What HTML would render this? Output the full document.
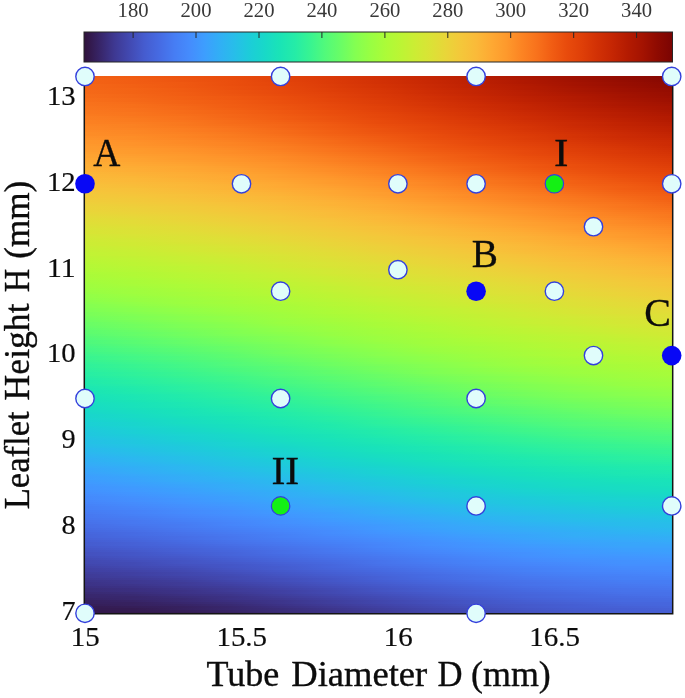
<!DOCTYPE html>
<html><head><meta charset="utf-8"><title>Design space</title>
<style>
html,body{margin:0;padding:0;background:#fff}
svg{display:block}
text{font-family:"Liberation Serif","DejaVu Serif",serif;fill:#0c0c0c;stroke:#0c0c0c;stroke-width:.35px}
.cbl{fill:#383838;stroke:none}
.tk{stroke-width:.2px}
</style></head><body>
<svg width="685" height="698" viewBox="0 0 685 698">
<defs>
<linearGradient id="g0"><stop offset="0" stop-color="#f26014"/><stop offset="0.08333" stop-color="#f05b12"/><stop offset="0.1667" stop-color="#ec530f"/><stop offset="0.25" stop-color="#e84b0c"/><stop offset="0.3333" stop-color="#e2430a"/><stop offset="0.4167" stop-color="#da3907"/><stop offset="0.5" stop-color="#d02f05"/><stop offset="0.5833" stop-color="#c52603"/><stop offset="0.6667" stop-color="#b71d02"/><stop offset="0.75" stop-color="#a91601"/><stop offset="0.8333" stop-color="#9e1001"/><stop offset="0.9167" stop-color="#920b01"/><stop offset="1" stop-color="#850702"/></linearGradient>
<linearGradient id="g1"><stop offset="0" stop-color="#f36315"/><stop offset="0.08333" stop-color="#f15d13"/><stop offset="0.1667" stop-color="#ed5510"/><stop offset="0.25" stop-color="#e84b0c"/><stop offset="0.3333" stop-color="#e2430a"/><stop offset="0.4167" stop-color="#da3907"/><stop offset="0.5" stop-color="#d02f05"/><stop offset="0.5833" stop-color="#c52603"/><stop offset="0.6667" stop-color="#b91e02"/><stop offset="0.75" stop-color="#ac1701"/><stop offset="0.8333" stop-color="#9e1001"/><stop offset="0.9167" stop-color="#920b01"/><stop offset="1" stop-color="#880802"/></linearGradient>
<linearGradient id="g2"><stop offset="0" stop-color="#f36315"/><stop offset="0.08333" stop-color="#f15d13"/><stop offset="0.1667" stop-color="#ed5510"/><stop offset="0.25" stop-color="#ea4e0d"/><stop offset="0.3333" stop-color="#e2430a"/><stop offset="0.4167" stop-color="#dc3b07"/><stop offset="0.5" stop-color="#d23105"/><stop offset="0.5833" stop-color="#c82803"/><stop offset="0.6667" stop-color="#bc2002"/><stop offset="0.75" stop-color="#af1801"/><stop offset="0.8333" stop-color="#a11201"/><stop offset="0.9167" stop-color="#950d01"/><stop offset="1" stop-color="#880802"/></linearGradient>
<linearGradient id="g3"><stop offset="0" stop-color="#f36315"/><stop offset="0.08333" stop-color="#f15d13"/><stop offset="0.1667" stop-color="#ef5811"/><stop offset="0.25" stop-color="#ea4e0d"/><stop offset="0.3333" stop-color="#e4450a"/><stop offset="0.4167" stop-color="#dc3b07"/><stop offset="0.5" stop-color="#d23105"/><stop offset="0.5833" stop-color="#c82803"/><stop offset="0.6667" stop-color="#bc2002"/><stop offset="0.75" stop-color="#af1801"/><stop offset="0.8333" stop-color="#a41301"/><stop offset="0.9167" stop-color="#980e01"/><stop offset="1" stop-color="#8b0902"/></linearGradient>
<linearGradient id="g4"><stop offset="0" stop-color="#f46617"/><stop offset="0.08333" stop-color="#f26014"/><stop offset="0.1667" stop-color="#ef5811"/><stop offset="0.25" stop-color="#ea4e0d"/><stop offset="0.3333" stop-color="#e4450a"/><stop offset="0.4167" stop-color="#dd3d08"/><stop offset="0.5" stop-color="#d43305"/><stop offset="0.5833" stop-color="#ca2a04"/><stop offset="0.6667" stop-color="#be2102"/><stop offset="0.75" stop-color="#b21a01"/><stop offset="0.8333" stop-color="#a41301"/><stop offset="0.9167" stop-color="#980e01"/><stop offset="1" stop-color="#8e0a01"/></linearGradient>
<linearGradient id="g5"><stop offset="0" stop-color="#f46617"/><stop offset="0.08333" stop-color="#f26014"/><stop offset="0.1667" stop-color="#ef5811"/><stop offset="0.25" stop-color="#eb500e"/><stop offset="0.3333" stop-color="#e5470b"/><stop offset="0.4167" stop-color="#dd3d08"/><stop offset="0.5" stop-color="#d43305"/><stop offset="0.5833" stop-color="#ca2a04"/><stop offset="0.6667" stop-color="#be2102"/><stop offset="0.75" stop-color="#b41b01"/><stop offset="0.8333" stop-color="#a71401"/><stop offset="0.9167" stop-color="#9b0f01"/><stop offset="1" stop-color="#8e0a01"/></linearGradient>
<linearGradient id="g6"><stop offset="0" stop-color="#f46617"/><stop offset="0.08333" stop-color="#f36315"/><stop offset="0.1667" stop-color="#f05b12"/><stop offset="0.25" stop-color="#eb500e"/><stop offset="0.3333" stop-color="#e5470b"/><stop offset="0.4167" stop-color="#df3f08"/><stop offset="0.5" stop-color="#d63506"/><stop offset="0.5833" stop-color="#cc2b04"/><stop offset="0.6667" stop-color="#c12302"/><stop offset="0.75" stop-color="#b41b01"/><stop offset="0.8333" stop-color="#a91601"/><stop offset="0.9167" stop-color="#9e1001"/><stop offset="1" stop-color="#920b01"/></linearGradient>
<linearGradient id="g7"><stop offset="0" stop-color="#f56918"/><stop offset="0.08333" stop-color="#f36315"/><stop offset="0.1667" stop-color="#f05b12"/><stop offset="0.25" stop-color="#ec530f"/><stop offset="0.3333" stop-color="#e7490c"/><stop offset="0.4167" stop-color="#df3f08"/><stop offset="0.5" stop-color="#d83706"/><stop offset="0.5833" stop-color="#ce2d04"/><stop offset="0.6667" stop-color="#c32503"/><stop offset="0.75" stop-color="#b71d02"/><stop offset="0.8333" stop-color="#a91601"/><stop offset="0.9167" stop-color="#9e1001"/><stop offset="1" stop-color="#950d01"/></linearGradient>
<linearGradient id="g8"><stop offset="0" stop-color="#f56918"/><stop offset="0.08333" stop-color="#f36315"/><stop offset="0.1667" stop-color="#f15d13"/><stop offset="0.25" stop-color="#ec530f"/><stop offset="0.3333" stop-color="#e7490c"/><stop offset="0.4167" stop-color="#e14109"/><stop offset="0.5" stop-color="#d83706"/><stop offset="0.5833" stop-color="#ce2d04"/><stop offset="0.6667" stop-color="#c32503"/><stop offset="0.75" stop-color="#b91e02"/><stop offset="0.8333" stop-color="#ac1701"/><stop offset="0.9167" stop-color="#a11201"/><stop offset="1" stop-color="#980e01"/></linearGradient>
<linearGradient id="g9"><stop offset="0" stop-color="#f66c19"/><stop offset="0.08333" stop-color="#f46617"/><stop offset="0.1667" stop-color="#f15d13"/><stop offset="0.25" stop-color="#ed5510"/><stop offset="0.3333" stop-color="#e84b0c"/><stop offset="0.4167" stop-color="#e2430a"/><stop offset="0.5" stop-color="#da3907"/><stop offset="0.5833" stop-color="#d02f05"/><stop offset="0.6667" stop-color="#c52603"/><stop offset="0.75" stop-color="#b91e02"/><stop offset="0.8333" stop-color="#af1801"/><stop offset="0.9167" stop-color="#a41301"/><stop offset="1" stop-color="#980e01"/></linearGradient>
<linearGradient id="g10"><stop offset="0" stop-color="#f66c19"/><stop offset="0.08333" stop-color="#f46617"/><stop offset="0.1667" stop-color="#f26014"/><stop offset="0.25" stop-color="#ef5811"/><stop offset="0.3333" stop-color="#ea4e0d"/><stop offset="0.4167" stop-color="#e2430a"/><stop offset="0.5" stop-color="#da3907"/><stop offset="0.5833" stop-color="#d23105"/><stop offset="0.6667" stop-color="#c82803"/><stop offset="0.75" stop-color="#bc2002"/><stop offset="0.8333" stop-color="#b21a01"/><stop offset="0.9167" stop-color="#a41301"/><stop offset="1" stop-color="#9b0f01"/></linearGradient>
<linearGradient id="g11"><stop offset="0" stop-color="#f76f1a"/><stop offset="0.08333" stop-color="#f56918"/><stop offset="0.1667" stop-color="#f26014"/><stop offset="0.25" stop-color="#ef5811"/><stop offset="0.3333" stop-color="#ea4e0d"/><stop offset="0.4167" stop-color="#e4450a"/><stop offset="0.5" stop-color="#dc3b07"/><stop offset="0.5833" stop-color="#d23105"/><stop offset="0.6667" stop-color="#c82803"/><stop offset="0.75" stop-color="#be2102"/><stop offset="0.8333" stop-color="#b21a01"/><stop offset="0.9167" stop-color="#a71401"/><stop offset="1" stop-color="#9e1001"/></linearGradient>
<linearGradient id="g12"><stop offset="0" stop-color="#f76f1a"/><stop offset="0.08333" stop-color="#f56918"/><stop offset="0.1667" stop-color="#f36315"/><stop offset="0.25" stop-color="#f05b12"/><stop offset="0.3333" stop-color="#eb500e"/><stop offset="0.4167" stop-color="#e4450a"/><stop offset="0.5" stop-color="#dd3d08"/><stop offset="0.5833" stop-color="#d43305"/><stop offset="0.6667" stop-color="#ca2a04"/><stop offset="0.75" stop-color="#be2102"/><stop offset="0.8333" stop-color="#b41b01"/><stop offset="0.9167" stop-color="#a91601"/><stop offset="1" stop-color="#9e1001"/></linearGradient>
<linearGradient id="g13"><stop offset="0" stop-color="#f8721c"/><stop offset="0.08333" stop-color="#f66c19"/><stop offset="0.1667" stop-color="#f36315"/><stop offset="0.25" stop-color="#f05b12"/><stop offset="0.3333" stop-color="#eb500e"/><stop offset="0.4167" stop-color="#e5470b"/><stop offset="0.5" stop-color="#dd3d08"/><stop offset="0.5833" stop-color="#d63506"/><stop offset="0.6667" stop-color="#cc2b04"/><stop offset="0.75" stop-color="#c12302"/><stop offset="0.8333" stop-color="#b71d02"/><stop offset="0.9167" stop-color="#ac1701"/><stop offset="1" stop-color="#a11201"/></linearGradient>
<linearGradient id="g14"><stop offset="0" stop-color="#f8721c"/><stop offset="0.08333" stop-color="#f76f1a"/><stop offset="0.1667" stop-color="#f46617"/><stop offset="0.25" stop-color="#f15d13"/><stop offset="0.3333" stop-color="#ec530f"/><stop offset="0.4167" stop-color="#e7490c"/><stop offset="0.5" stop-color="#df3f08"/><stop offset="0.5833" stop-color="#d63506"/><stop offset="0.6667" stop-color="#ce2d04"/><stop offset="0.75" stop-color="#c32503"/><stop offset="0.8333" stop-color="#b71d02"/><stop offset="0.9167" stop-color="#ac1701"/><stop offset="1" stop-color="#a41301"/></linearGradient>
<linearGradient id="g15"><stop offset="0" stop-color="#f9751d"/><stop offset="0.08333" stop-color="#f76f1a"/><stop offset="0.1667" stop-color="#f56918"/><stop offset="0.25" stop-color="#f15d13"/><stop offset="0.3333" stop-color="#ed5510"/><stop offset="0.4167" stop-color="#e7490c"/><stop offset="0.5" stop-color="#e14109"/><stop offset="0.5833" stop-color="#d83706"/><stop offset="0.6667" stop-color="#ce2d04"/><stop offset="0.75" stop-color="#c52603"/><stop offset="0.8333" stop-color="#b91e02"/><stop offset="0.9167" stop-color="#af1801"/><stop offset="1" stop-color="#a71401"/></linearGradient>
<linearGradient id="g16"><stop offset="0" stop-color="#f9751d"/><stop offset="0.08333" stop-color="#f8721c"/><stop offset="0.1667" stop-color="#f56918"/><stop offset="0.25" stop-color="#f26014"/><stop offset="0.3333" stop-color="#ed5510"/><stop offset="0.4167" stop-color="#e84b0c"/><stop offset="0.5" stop-color="#e14109"/><stop offset="0.5833" stop-color="#da3907"/><stop offset="0.6667" stop-color="#d02f05"/><stop offset="0.75" stop-color="#c52603"/><stop offset="0.8333" stop-color="#bc2002"/><stop offset="0.9167" stop-color="#b21a01"/><stop offset="1" stop-color="#a71401"/></linearGradient>
<linearGradient id="g17"><stop offset="0" stop-color="#f9781e"/><stop offset="0.08333" stop-color="#f8721c"/><stop offset="0.1667" stop-color="#f66c19"/><stop offset="0.25" stop-color="#f36315"/><stop offset="0.3333" stop-color="#ef5811"/><stop offset="0.4167" stop-color="#ea4e0d"/><stop offset="0.5" stop-color="#e2430a"/><stop offset="0.5833" stop-color="#da3907"/><stop offset="0.6667" stop-color="#d23105"/><stop offset="0.75" stop-color="#c82803"/><stop offset="0.8333" stop-color="#be2102"/><stop offset="0.9167" stop-color="#b41b01"/><stop offset="1" stop-color="#a91601"/></linearGradient>
<linearGradient id="g18"><stop offset="0" stop-color="#f9781e"/><stop offset="0.08333" stop-color="#f9751d"/><stop offset="0.1667" stop-color="#f66c19"/><stop offset="0.25" stop-color="#f36315"/><stop offset="0.3333" stop-color="#ef5811"/><stop offset="0.4167" stop-color="#ea4e0d"/><stop offset="0.5" stop-color="#e4450a"/><stop offset="0.5833" stop-color="#dc3b07"/><stop offset="0.6667" stop-color="#d43305"/><stop offset="0.75" stop-color="#ca2a04"/><stop offset="0.8333" stop-color="#c12302"/><stop offset="0.9167" stop-color="#b71d02"/><stop offset="1" stop-color="#ac1701"/></linearGradient>
<linearGradient id="g19"><stop offset="0" stop-color="#fa7b1f"/><stop offset="0.08333" stop-color="#f9751d"/><stop offset="0.1667" stop-color="#f76f1a"/><stop offset="0.25" stop-color="#f46617"/><stop offset="0.3333" stop-color="#f05b12"/><stop offset="0.4167" stop-color="#eb500e"/><stop offset="0.5" stop-color="#e5470b"/><stop offset="0.5833" stop-color="#dd3d08"/><stop offset="0.6667" stop-color="#d43305"/><stop offset="0.75" stop-color="#cc2b04"/><stop offset="0.8333" stop-color="#c12302"/><stop offset="0.9167" stop-color="#b71d02"/><stop offset="1" stop-color="#af1801"/></linearGradient>
<linearGradient id="g20"><stop offset="0" stop-color="#fb7e21"/><stop offset="0.08333" stop-color="#f9781e"/><stop offset="0.1667" stop-color="#f8721c"/><stop offset="0.25" stop-color="#f46617"/><stop offset="0.3333" stop-color="#f15d13"/><stop offset="0.4167" stop-color="#ec530f"/><stop offset="0.5" stop-color="#e5470b"/><stop offset="0.5833" stop-color="#df3f08"/><stop offset="0.6667" stop-color="#d63506"/><stop offset="0.75" stop-color="#ce2d04"/><stop offset="0.8333" stop-color="#c32503"/><stop offset="0.9167" stop-color="#b91e02"/><stop offset="1" stop-color="#b21a01"/></linearGradient>
<linearGradient id="g21"><stop offset="0" stop-color="#fb7e21"/><stop offset="0.08333" stop-color="#fa7b1f"/><stop offset="0.1667" stop-color="#f8721c"/><stop offset="0.25" stop-color="#f56918"/><stop offset="0.3333" stop-color="#f15d13"/><stop offset="0.4167" stop-color="#ec530f"/><stop offset="0.5" stop-color="#e7490c"/><stop offset="0.5833" stop-color="#df3f08"/><stop offset="0.6667" stop-color="#d83706"/><stop offset="0.75" stop-color="#ce2d04"/><stop offset="0.8333" stop-color="#c52603"/><stop offset="0.9167" stop-color="#bc2002"/><stop offset="1" stop-color="#b21a01"/></linearGradient>
<linearGradient id="g22"><stop offset="0" stop-color="#fb8122"/><stop offset="0.08333" stop-color="#fa7b1f"/><stop offset="0.1667" stop-color="#f9751d"/><stop offset="0.25" stop-color="#f66c19"/><stop offset="0.3333" stop-color="#f26014"/><stop offset="0.4167" stop-color="#ed5510"/><stop offset="0.5" stop-color="#e84b0c"/><stop offset="0.5833" stop-color="#e14109"/><stop offset="0.6667" stop-color="#da3907"/><stop offset="0.75" stop-color="#d02f05"/><stop offset="0.8333" stop-color="#c82803"/><stop offset="0.9167" stop-color="#be2102"/><stop offset="1" stop-color="#b41b01"/></linearGradient>
<linearGradient id="g23"><stop offset="0" stop-color="#fb8122"/><stop offset="0.08333" stop-color="#fb7e21"/><stop offset="0.1667" stop-color="#f9781e"/><stop offset="0.25" stop-color="#f66c19"/><stop offset="0.3333" stop-color="#f36315"/><stop offset="0.4167" stop-color="#ef5811"/><stop offset="0.5" stop-color="#e84b0c"/><stop offset="0.5833" stop-color="#e2430a"/><stop offset="0.6667" stop-color="#da3907"/><stop offset="0.75" stop-color="#d23105"/><stop offset="0.8333" stop-color="#ca2a04"/><stop offset="0.9167" stop-color="#c12302"/><stop offset="1" stop-color="#b71d02"/></linearGradient>
<linearGradient id="g24"><stop offset="0" stop-color="#fc8423"/><stop offset="0.08333" stop-color="#fb8122"/><stop offset="0.1667" stop-color="#f9781e"/><stop offset="0.25" stop-color="#f76f1a"/><stop offset="0.3333" stop-color="#f46617"/><stop offset="0.4167" stop-color="#f05b12"/><stop offset="0.5" stop-color="#ea4e0d"/><stop offset="0.5833" stop-color="#e4450a"/><stop offset="0.6667" stop-color="#dc3b07"/><stop offset="0.75" stop-color="#d43305"/><stop offset="0.8333" stop-color="#ca2a04"/><stop offset="0.9167" stop-color="#c12302"/><stop offset="1" stop-color="#b91e02"/></linearGradient>
<linearGradient id="g25"><stop offset="0" stop-color="#fc8725"/><stop offset="0.08333" stop-color="#fb8122"/><stop offset="0.1667" stop-color="#fa7b1f"/><stop offset="0.25" stop-color="#f8721c"/><stop offset="0.3333" stop-color="#f46617"/><stop offset="0.4167" stop-color="#f05b12"/><stop offset="0.5" stop-color="#eb500e"/><stop offset="0.5833" stop-color="#e5470b"/><stop offset="0.6667" stop-color="#dd3d08"/><stop offset="0.75" stop-color="#d63506"/><stop offset="0.8333" stop-color="#cc2b04"/><stop offset="0.9167" stop-color="#c32503"/><stop offset="1" stop-color="#bc2002"/></linearGradient>
<linearGradient id="g26"><stop offset="0" stop-color="#fc8725"/><stop offset="0.08333" stop-color="#fc8423"/><stop offset="0.1667" stop-color="#fb7e21"/><stop offset="0.25" stop-color="#f9751d"/><stop offset="0.3333" stop-color="#f56918"/><stop offset="0.4167" stop-color="#f15d13"/><stop offset="0.5" stop-color="#ec530f"/><stop offset="0.5833" stop-color="#e5470b"/><stop offset="0.6667" stop-color="#df3f08"/><stop offset="0.75" stop-color="#d63506"/><stop offset="0.8333" stop-color="#ce2d04"/><stop offset="0.9167" stop-color="#c52603"/><stop offset="1" stop-color="#be2102"/></linearGradient>
<linearGradient id="g27"><stop offset="0" stop-color="#fd8a26"/><stop offset="0.08333" stop-color="#fc8725"/><stop offset="0.1667" stop-color="#fb7e21"/><stop offset="0.25" stop-color="#f9751d"/><stop offset="0.3333" stop-color="#f66c19"/><stop offset="0.4167" stop-color="#f26014"/><stop offset="0.5" stop-color="#ec530f"/><stop offset="0.5833" stop-color="#e7490c"/><stop offset="0.6667" stop-color="#e14109"/><stop offset="0.75" stop-color="#d83706"/><stop offset="0.8333" stop-color="#d02f05"/><stop offset="0.9167" stop-color="#c82803"/><stop offset="1" stop-color="#be2102"/></linearGradient>
<linearGradient id="g28"><stop offset="0" stop-color="#fd8d27"/><stop offset="0.08333" stop-color="#fc8725"/><stop offset="0.1667" stop-color="#fb8122"/><stop offset="0.25" stop-color="#f9781e"/><stop offset="0.3333" stop-color="#f66c19"/><stop offset="0.4167" stop-color="#f26014"/><stop offset="0.5" stop-color="#ed5510"/><stop offset="0.5833" stop-color="#e84b0c"/><stop offset="0.6667" stop-color="#e14109"/><stop offset="0.75" stop-color="#da3907"/><stop offset="0.8333" stop-color="#d23105"/><stop offset="0.9167" stop-color="#ca2a04"/><stop offset="1" stop-color="#c12302"/></linearGradient>
<linearGradient id="g29"><stop offset="0" stop-color="#fd8d27"/><stop offset="0.08333" stop-color="#fd8a26"/><stop offset="0.1667" stop-color="#fc8423"/><stop offset="0.25" stop-color="#fa7b1f"/><stop offset="0.3333" stop-color="#f76f1a"/><stop offset="0.4167" stop-color="#f36315"/><stop offset="0.5" stop-color="#ef5811"/><stop offset="0.5833" stop-color="#ea4e0d"/><stop offset="0.6667" stop-color="#e2430a"/><stop offset="0.75" stop-color="#dc3b07"/><stop offset="0.8333" stop-color="#d43305"/><stop offset="0.9167" stop-color="#cc2b04"/><stop offset="1" stop-color="#c32503"/></linearGradient>
<linearGradient id="g30"><stop offset="0" stop-color="#fe9029"/><stop offset="0.08333" stop-color="#fd8d27"/><stop offset="0.1667" stop-color="#fc8423"/><stop offset="0.25" stop-color="#fa7b1f"/><stop offset="0.3333" stop-color="#f8721c"/><stop offset="0.4167" stop-color="#f46617"/><stop offset="0.5" stop-color="#f05b12"/><stop offset="0.5833" stop-color="#ea4e0d"/><stop offset="0.6667" stop-color="#e4450a"/><stop offset="0.75" stop-color="#dd3d08"/><stop offset="0.8333" stop-color="#d43305"/><stop offset="0.9167" stop-color="#cc2b04"/><stop offset="1" stop-color="#c52603"/></linearGradient>
<linearGradient id="g31"><stop offset="0" stop-color="#fe932a"/><stop offset="0.08333" stop-color="#fd8d27"/><stop offset="0.1667" stop-color="#fc8725"/><stop offset="0.25" stop-color="#fb7e21"/><stop offset="0.3333" stop-color="#f9751d"/><stop offset="0.4167" stop-color="#f56918"/><stop offset="0.5" stop-color="#f15d13"/><stop offset="0.5833" stop-color="#eb500e"/><stop offset="0.6667" stop-color="#e5470b"/><stop offset="0.75" stop-color="#dd3d08"/><stop offset="0.8333" stop-color="#d63506"/><stop offset="0.9167" stop-color="#ce2d04"/><stop offset="1" stop-color="#c82803"/></linearGradient>
<linearGradient id="g32"><stop offset="0" stop-color="#fe962b"/><stop offset="0.08333" stop-color="#fe9029"/><stop offset="0.1667" stop-color="#fd8a26"/><stop offset="0.25" stop-color="#fb8122"/><stop offset="0.3333" stop-color="#f9751d"/><stop offset="0.4167" stop-color="#f66c19"/><stop offset="0.5" stop-color="#f15d13"/><stop offset="0.5833" stop-color="#ec530f"/><stop offset="0.6667" stop-color="#e7490c"/><stop offset="0.75" stop-color="#df3f08"/><stop offset="0.8333" stop-color="#d83706"/><stop offset="0.9167" stop-color="#d02f05"/><stop offset="1" stop-color="#ca2a04"/></linearGradient>
<linearGradient id="g33"><stop offset="0" stop-color="#fe962b"/><stop offset="0.08333" stop-color="#fe932a"/><stop offset="0.1667" stop-color="#fd8a26"/><stop offset="0.25" stop-color="#fc8423"/><stop offset="0.3333" stop-color="#f9781e"/><stop offset="0.4167" stop-color="#f66c19"/><stop offset="0.5" stop-color="#f26014"/><stop offset="0.5833" stop-color="#ed5510"/><stop offset="0.6667" stop-color="#e7490c"/><stop offset="0.75" stop-color="#e14109"/><stop offset="0.8333" stop-color="#da3907"/><stop offset="0.9167" stop-color="#d23105"/><stop offset="1" stop-color="#cc2b04"/></linearGradient>
<linearGradient id="g34"><stop offset="0" stop-color="#fe992c"/><stop offset="0.08333" stop-color="#fe932a"/><stop offset="0.1667" stop-color="#fd8d27"/><stop offset="0.25" stop-color="#fc8423"/><stop offset="0.3333" stop-color="#fa7b1f"/><stop offset="0.4167" stop-color="#f76f1a"/><stop offset="0.5" stop-color="#f36315"/><stop offset="0.5833" stop-color="#ef5811"/><stop offset="0.6667" stop-color="#e84b0c"/><stop offset="0.75" stop-color="#e2430a"/><stop offset="0.8333" stop-color="#dc3b07"/><stop offset="0.9167" stop-color="#d43305"/><stop offset="1" stop-color="#cc2b04"/></linearGradient>
<linearGradient id="g35"><stop offset="0" stop-color="#fe9b2d"/><stop offset="0.08333" stop-color="#fe962b"/><stop offset="0.1667" stop-color="#fe9029"/><stop offset="0.25" stop-color="#fc8725"/><stop offset="0.3333" stop-color="#fb7e21"/><stop offset="0.4167" stop-color="#f8721c"/><stop offset="0.5" stop-color="#f46617"/><stop offset="0.5833" stop-color="#ef5811"/><stop offset="0.6667" stop-color="#ea4e0d"/><stop offset="0.75" stop-color="#e4450a"/><stop offset="0.8333" stop-color="#dd3d08"/><stop offset="0.9167" stop-color="#d63506"/><stop offset="1" stop-color="#ce2d04"/></linearGradient>
<linearGradient id="g36"><stop offset="0" stop-color="#fe9b2d"/><stop offset="0.08333" stop-color="#fe992c"/><stop offset="0.1667" stop-color="#fe932a"/><stop offset="0.25" stop-color="#fd8a26"/><stop offset="0.3333" stop-color="#fb7e21"/><stop offset="0.4167" stop-color="#f9751d"/><stop offset="0.5" stop-color="#f56918"/><stop offset="0.5833" stop-color="#f05b12"/><stop offset="0.6667" stop-color="#eb500e"/><stop offset="0.75" stop-color="#e5470b"/><stop offset="0.8333" stop-color="#df3f08"/><stop offset="0.9167" stop-color="#d83706"/><stop offset="1" stop-color="#d02f05"/></linearGradient>
<linearGradient id="g37"><stop offset="0" stop-color="#fe9e2f"/><stop offset="0.08333" stop-color="#fe9b2d"/><stop offset="0.1667" stop-color="#fe932a"/><stop offset="0.25" stop-color="#fd8d27"/><stop offset="0.3333" stop-color="#fb8122"/><stop offset="0.4167" stop-color="#f9751d"/><stop offset="0.5" stop-color="#f56918"/><stop offset="0.5833" stop-color="#f15d13"/><stop offset="0.6667" stop-color="#ec530f"/><stop offset="0.75" stop-color="#e7490c"/><stop offset="0.8333" stop-color="#df3f08"/><stop offset="0.9167" stop-color="#da3907"/><stop offset="1" stop-color="#d23105"/></linearGradient>
<linearGradient id="g38"><stop offset="0" stop-color="#fea130"/><stop offset="0.08333" stop-color="#fe9b2d"/><stop offset="0.1667" stop-color="#fe962b"/><stop offset="0.25" stop-color="#fd8d27"/><stop offset="0.3333" stop-color="#fc8423"/><stop offset="0.4167" stop-color="#f9781e"/><stop offset="0.5" stop-color="#f66c19"/><stop offset="0.5833" stop-color="#f26014"/><stop offset="0.6667" stop-color="#ed5510"/><stop offset="0.75" stop-color="#e7490c"/><stop offset="0.8333" stop-color="#e14109"/><stop offset="0.9167" stop-color="#da3907"/><stop offset="1" stop-color="#d43305"/></linearGradient>
<linearGradient id="g39"><stop offset="0" stop-color="#fea431"/><stop offset="0.08333" stop-color="#fe9e2f"/><stop offset="0.1667" stop-color="#fe992c"/><stop offset="0.25" stop-color="#fe9029"/><stop offset="0.3333" stop-color="#fc8725"/><stop offset="0.4167" stop-color="#fa7b1f"/><stop offset="0.5" stop-color="#f76f1a"/><stop offset="0.5833" stop-color="#f36315"/><stop offset="0.6667" stop-color="#ef5811"/><stop offset="0.75" stop-color="#e84b0c"/><stop offset="0.8333" stop-color="#e2430a"/><stop offset="0.9167" stop-color="#dc3b07"/><stop offset="1" stop-color="#d63506"/></linearGradient>
<linearGradient id="g40"><stop offset="0" stop-color="#fea431"/><stop offset="0.08333" stop-color="#fea130"/><stop offset="0.1667" stop-color="#fe9b2d"/><stop offset="0.25" stop-color="#fe932a"/><stop offset="0.3333" stop-color="#fd8a26"/><stop offset="0.4167" stop-color="#fb7e21"/><stop offset="0.5" stop-color="#f8721c"/><stop offset="0.5833" stop-color="#f46617"/><stop offset="0.6667" stop-color="#ef5811"/><stop offset="0.75" stop-color="#ea4e0d"/><stop offset="0.8333" stop-color="#e4450a"/><stop offset="0.9167" stop-color="#dd3d08"/><stop offset="1" stop-color="#d83706"/></linearGradient>
<linearGradient id="g41"><stop offset="0" stop-color="#fea732"/><stop offset="0.08333" stop-color="#fea431"/><stop offset="0.1667" stop-color="#fe9b2d"/><stop offset="0.25" stop-color="#fe962b"/><stop offset="0.3333" stop-color="#fd8a26"/><stop offset="0.4167" stop-color="#fb8122"/><stop offset="0.5" stop-color="#f9751d"/><stop offset="0.5833" stop-color="#f46617"/><stop offset="0.6667" stop-color="#f05b12"/><stop offset="0.75" stop-color="#eb500e"/><stop offset="0.8333" stop-color="#e5470b"/><stop offset="0.9167" stop-color="#df3f08"/><stop offset="1" stop-color="#da3907"/></linearGradient>
<linearGradient id="g42"><stop offset="0" stop-color="#fea933"/><stop offset="0.08333" stop-color="#fea431"/><stop offset="0.1667" stop-color="#fe9e2f"/><stop offset="0.25" stop-color="#fe962b"/><stop offset="0.3333" stop-color="#fd8d27"/><stop offset="0.4167" stop-color="#fb8122"/><stop offset="0.5" stop-color="#f9751d"/><stop offset="0.5833" stop-color="#f56918"/><stop offset="0.6667" stop-color="#f15d13"/><stop offset="0.75" stop-color="#ec530f"/><stop offset="0.8333" stop-color="#e7490c"/><stop offset="0.9167" stop-color="#e14109"/><stop offset="1" stop-color="#da3907"/></linearGradient>
<linearGradient id="g43"><stop offset="0" stop-color="#fdac34"/><stop offset="0.08333" stop-color="#fea732"/><stop offset="0.1667" stop-color="#fea130"/><stop offset="0.25" stop-color="#fe992c"/><stop offset="0.3333" stop-color="#fe9029"/><stop offset="0.4167" stop-color="#fc8423"/><stop offset="0.5" stop-color="#f9781e"/><stop offset="0.5833" stop-color="#f66c19"/><stop offset="0.6667" stop-color="#f26014"/><stop offset="0.75" stop-color="#ed5510"/><stop offset="0.8333" stop-color="#e84b0c"/><stop offset="0.9167" stop-color="#e2430a"/><stop offset="1" stop-color="#dc3b07"/></linearGradient>
<linearGradient id="g44"><stop offset="0" stop-color="#fdae35"/><stop offset="0.08333" stop-color="#fea933"/><stop offset="0.1667" stop-color="#fea431"/><stop offset="0.25" stop-color="#fe9b2d"/><stop offset="0.3333" stop-color="#fe932a"/><stop offset="0.4167" stop-color="#fc8725"/><stop offset="0.5" stop-color="#fa7b1f"/><stop offset="0.5833" stop-color="#f76f1a"/><stop offset="0.6667" stop-color="#f36315"/><stop offset="0.75" stop-color="#ef5811"/><stop offset="0.8333" stop-color="#ea4e0d"/><stop offset="0.9167" stop-color="#e4450a"/><stop offset="1" stop-color="#dd3d08"/></linearGradient>
<linearGradient id="g45"><stop offset="0" stop-color="#fdae35"/><stop offset="0.08333" stop-color="#fdac34"/><stop offset="0.1667" stop-color="#fea732"/><stop offset="0.25" stop-color="#fe9e2f"/><stop offset="0.3333" stop-color="#fe932a"/><stop offset="0.4167" stop-color="#fd8a26"/><stop offset="0.5" stop-color="#fb7e21"/><stop offset="0.5833" stop-color="#f8721c"/><stop offset="0.6667" stop-color="#f46617"/><stop offset="0.75" stop-color="#ef5811"/><stop offset="0.8333" stop-color="#ea4e0d"/><stop offset="0.9167" stop-color="#e5470b"/><stop offset="1" stop-color="#df3f08"/></linearGradient>
<linearGradient id="g46"><stop offset="0" stop-color="#fcb136"/><stop offset="0.08333" stop-color="#fdae35"/><stop offset="0.1667" stop-color="#fea732"/><stop offset="0.25" stop-color="#fea130"/><stop offset="0.3333" stop-color="#fe962b"/><stop offset="0.4167" stop-color="#fd8d27"/><stop offset="0.5" stop-color="#fb8122"/><stop offset="0.5833" stop-color="#f9751d"/><stop offset="0.6667" stop-color="#f46617"/><stop offset="0.75" stop-color="#f05b12"/><stop offset="0.8333" stop-color="#eb500e"/><stop offset="0.9167" stop-color="#e7490c"/><stop offset="1" stop-color="#e14109"/></linearGradient>
<linearGradient id="g47"><stop offset="0" stop-color="#fcb336"/><stop offset="0.08333" stop-color="#fdae35"/><stop offset="0.1667" stop-color="#fea933"/><stop offset="0.25" stop-color="#fea130"/><stop offset="0.3333" stop-color="#fe992c"/><stop offset="0.4167" stop-color="#fd8d27"/><stop offset="0.5" stop-color="#fc8423"/><stop offset="0.5833" stop-color="#f9751d"/><stop offset="0.6667" stop-color="#f56918"/><stop offset="0.75" stop-color="#f15d13"/><stop offset="0.8333" stop-color="#ec530f"/><stop offset="0.9167" stop-color="#e7490c"/><stop offset="1" stop-color="#e2430a"/></linearGradient>
<linearGradient id="g48"><stop offset="0" stop-color="#fbb637"/><stop offset="0.08333" stop-color="#fcb136"/><stop offset="0.1667" stop-color="#fdac34"/><stop offset="0.25" stop-color="#fea431"/><stop offset="0.3333" stop-color="#fe9b2d"/><stop offset="0.4167" stop-color="#fe9029"/><stop offset="0.5" stop-color="#fc8423"/><stop offset="0.5833" stop-color="#f9781e"/><stop offset="0.6667" stop-color="#f66c19"/><stop offset="0.75" stop-color="#f26014"/><stop offset="0.8333" stop-color="#ed5510"/><stop offset="0.9167" stop-color="#e84b0c"/><stop offset="1" stop-color="#e4450a"/></linearGradient>
<linearGradient id="g49"><stop offset="0" stop-color="#fbb838"/><stop offset="0.08333" stop-color="#fcb336"/><stop offset="0.1667" stop-color="#fdae35"/><stop offset="0.25" stop-color="#fea732"/><stop offset="0.3333" stop-color="#fe9e2f"/><stop offset="0.4167" stop-color="#fe932a"/><stop offset="0.5" stop-color="#fc8725"/><stop offset="0.5833" stop-color="#fa7b1f"/><stop offset="0.6667" stop-color="#f76f1a"/><stop offset="0.75" stop-color="#f36315"/><stop offset="0.8333" stop-color="#ef5811"/><stop offset="0.9167" stop-color="#ea4e0d"/><stop offset="1" stop-color="#e5470b"/></linearGradient>
<linearGradient id="g50"><stop offset="0" stop-color="#fbb838"/><stop offset="0.08333" stop-color="#fbb637"/><stop offset="0.1667" stop-color="#fdae35"/><stop offset="0.25" stop-color="#fea933"/><stop offset="0.3333" stop-color="#fe9e2f"/><stop offset="0.4167" stop-color="#fe962b"/><stop offset="0.5" stop-color="#fd8a26"/><stop offset="0.5833" stop-color="#fb7e21"/><stop offset="0.6667" stop-color="#f8721c"/><stop offset="0.75" stop-color="#f46617"/><stop offset="0.8333" stop-color="#f05b12"/><stop offset="0.9167" stop-color="#eb500e"/><stop offset="1" stop-color="#e7490c"/></linearGradient>
<linearGradient id="g51"><stop offset="0" stop-color="#faba39"/><stop offset="0.08333" stop-color="#fbb838"/><stop offset="0.1667" stop-color="#fcb136"/><stop offset="0.25" stop-color="#fea933"/><stop offset="0.3333" stop-color="#fea130"/><stop offset="0.4167" stop-color="#fe992c"/><stop offset="0.5" stop-color="#fd8d27"/><stop offset="0.5833" stop-color="#fb8122"/><stop offset="0.6667" stop-color="#f9751d"/><stop offset="0.75" stop-color="#f56918"/><stop offset="0.8333" stop-color="#f15d13"/><stop offset="0.9167" stop-color="#ec530f"/><stop offset="1" stop-color="#e84b0c"/></linearGradient>
<linearGradient id="g52"><stop offset="0" stop-color="#f9bc39"/><stop offset="0.08333" stop-color="#fbb838"/><stop offset="0.1667" stop-color="#fcb336"/><stop offset="0.25" stop-color="#fdac34"/><stop offset="0.3333" stop-color="#fea431"/><stop offset="0.4167" stop-color="#fe9b2d"/><stop offset="0.5" stop-color="#fe9029"/><stop offset="0.5833" stop-color="#fc8423"/><stop offset="0.6667" stop-color="#f9781e"/><stop offset="0.75" stop-color="#f66c19"/><stop offset="0.8333" stop-color="#f26014"/><stop offset="0.9167" stop-color="#ed5510"/><stop offset="1" stop-color="#e84b0c"/></linearGradient>
<linearGradient id="g53"><stop offset="0" stop-color="#f8be39"/><stop offset="0.08333" stop-color="#faba39"/><stop offset="0.1667" stop-color="#fbb637"/><stop offset="0.25" stop-color="#fdae35"/><stop offset="0.3333" stop-color="#fea732"/><stop offset="0.4167" stop-color="#fe9b2d"/><stop offset="0.5" stop-color="#fe932a"/><stop offset="0.5833" stop-color="#fc8725"/><stop offset="0.6667" stop-color="#f9781e"/><stop offset="0.75" stop-color="#f66c19"/><stop offset="0.8333" stop-color="#f26014"/><stop offset="0.9167" stop-color="#ef5811"/><stop offset="1" stop-color="#ea4e0d"/></linearGradient>
<linearGradient id="g54"><stop offset="0" stop-color="#f7c13a"/><stop offset="0.08333" stop-color="#f9bc39"/><stop offset="0.1667" stop-color="#fbb838"/><stop offset="0.25" stop-color="#fcb136"/><stop offset="0.3333" stop-color="#fea933"/><stop offset="0.4167" stop-color="#fe9e2f"/><stop offset="0.5" stop-color="#fe932a"/><stop offset="0.5833" stop-color="#fc8725"/><stop offset="0.6667" stop-color="#fa7b1f"/><stop offset="0.75" stop-color="#f76f1a"/><stop offset="0.8333" stop-color="#f36315"/><stop offset="0.9167" stop-color="#f05b12"/><stop offset="1" stop-color="#eb500e"/></linearGradient>
<linearGradient id="g55"><stop offset="0" stop-color="#f7c13a"/><stop offset="0.08333" stop-color="#f8be39"/><stop offset="0.1667" stop-color="#fbb838"/><stop offset="0.25" stop-color="#fcb336"/><stop offset="0.3333" stop-color="#fea933"/><stop offset="0.4167" stop-color="#fea130"/><stop offset="0.5" stop-color="#fe962b"/><stop offset="0.5833" stop-color="#fd8a26"/><stop offset="0.6667" stop-color="#fb7e21"/><stop offset="0.75" stop-color="#f8721c"/><stop offset="0.8333" stop-color="#f46617"/><stop offset="0.9167" stop-color="#f15d13"/><stop offset="1" stop-color="#ec530f"/></linearGradient>
<linearGradient id="g56"><stop offset="0" stop-color="#f6c33a"/><stop offset="0.08333" stop-color="#f7c13a"/><stop offset="0.1667" stop-color="#faba39"/><stop offset="0.25" stop-color="#fcb336"/><stop offset="0.3333" stop-color="#fdac34"/><stop offset="0.4167" stop-color="#fea431"/><stop offset="0.5" stop-color="#fe992c"/><stop offset="0.5833" stop-color="#fd8d27"/><stop offset="0.6667" stop-color="#fb8122"/><stop offset="0.75" stop-color="#f9751d"/><stop offset="0.8333" stop-color="#f56918"/><stop offset="0.9167" stop-color="#f15d13"/><stop offset="1" stop-color="#ed5510"/></linearGradient>
<linearGradient id="g57"><stop offset="0" stop-color="#f5c53a"/><stop offset="0.08333" stop-color="#f7c13a"/><stop offset="0.1667" stop-color="#f9bc39"/><stop offset="0.25" stop-color="#fbb637"/><stop offset="0.3333" stop-color="#fdae35"/><stop offset="0.4167" stop-color="#fea732"/><stop offset="0.5" stop-color="#fe9b2d"/><stop offset="0.5833" stop-color="#fe9029"/><stop offset="0.6667" stop-color="#fc8423"/><stop offset="0.75" stop-color="#f9781e"/><stop offset="0.8333" stop-color="#f66c19"/><stop offset="0.9167" stop-color="#f26014"/><stop offset="1" stop-color="#ef5811"/></linearGradient>
<linearGradient id="g58"><stop offset="0" stop-color="#f4c73a"/><stop offset="0.08333" stop-color="#f6c33a"/><stop offset="0.1667" stop-color="#f8be39"/><stop offset="0.25" stop-color="#fbb838"/><stop offset="0.3333" stop-color="#fcb136"/><stop offset="0.4167" stop-color="#fea732"/><stop offset="0.5" stop-color="#fe9e2f"/><stop offset="0.5833" stop-color="#fe932a"/><stop offset="0.6667" stop-color="#fc8725"/><stop offset="0.75" stop-color="#fa7b1f"/><stop offset="0.8333" stop-color="#f76f1a"/><stop offset="0.9167" stop-color="#f36315"/><stop offset="1" stop-color="#f05b12"/></linearGradient>
<linearGradient id="g59"><stop offset="0" stop-color="#f2c93a"/><stop offset="0.08333" stop-color="#f5c53a"/><stop offset="0.1667" stop-color="#f7c13a"/><stop offset="0.25" stop-color="#faba39"/><stop offset="0.3333" stop-color="#fcb336"/><stop offset="0.4167" stop-color="#fea933"/><stop offset="0.5" stop-color="#fe9e2f"/><stop offset="0.5833" stop-color="#fe962b"/><stop offset="0.6667" stop-color="#fd8a26"/><stop offset="0.75" stop-color="#fb7e21"/><stop offset="0.8333" stop-color="#f8721c"/><stop offset="0.9167" stop-color="#f46617"/><stop offset="1" stop-color="#f15d13"/></linearGradient>
<linearGradient id="g60"><stop offset="0" stop-color="#f2c93a"/><stop offset="0.08333" stop-color="#f4c73a"/><stop offset="0.1667" stop-color="#f7c13a"/><stop offset="0.25" stop-color="#f9bc39"/><stop offset="0.3333" stop-color="#fbb637"/><stop offset="0.4167" stop-color="#fdac34"/><stop offset="0.5" stop-color="#fea130"/><stop offset="0.5833" stop-color="#fe962b"/><stop offset="0.6667" stop-color="#fd8a26"/><stop offset="0.75" stop-color="#fb8122"/><stop offset="0.8333" stop-color="#f9751d"/><stop offset="0.9167" stop-color="#f56918"/><stop offset="1" stop-color="#f26014"/></linearGradient>
<linearGradient id="g61"><stop offset="0" stop-color="#f1cb3a"/><stop offset="0.08333" stop-color="#f2c93a"/><stop offset="0.1667" stop-color="#f6c33a"/><stop offset="0.25" stop-color="#f8be39"/><stop offset="0.3333" stop-color="#fbb637"/><stop offset="0.4167" stop-color="#fdae35"/><stop offset="0.5" stop-color="#fea431"/><stop offset="0.5833" stop-color="#fe992c"/><stop offset="0.6667" stop-color="#fd8d27"/><stop offset="0.75" stop-color="#fb8122"/><stop offset="0.8333" stop-color="#f9781e"/><stop offset="0.9167" stop-color="#f66c19"/><stop offset="1" stop-color="#f26014"/></linearGradient>
<linearGradient id="g62"><stop offset="0" stop-color="#efcd3a"/><stop offset="0.08333" stop-color="#f2c93a"/><stop offset="0.1667" stop-color="#f5c53a"/><stop offset="0.25" stop-color="#f8be39"/><stop offset="0.3333" stop-color="#fbb838"/><stop offset="0.4167" stop-color="#fcb136"/><stop offset="0.5" stop-color="#fea732"/><stop offset="0.5833" stop-color="#fe9b2d"/><stop offset="0.6667" stop-color="#fe9029"/><stop offset="0.75" stop-color="#fc8423"/><stop offset="0.8333" stop-color="#f9781e"/><stop offset="0.9167" stop-color="#f76f1a"/><stop offset="1" stop-color="#f36315"/></linearGradient>
<linearGradient id="g63"><stop offset="0" stop-color="#eecf3a"/><stop offset="0.08333" stop-color="#f1cb3a"/><stop offset="0.1667" stop-color="#f4c73a"/><stop offset="0.25" stop-color="#f7c13a"/><stop offset="0.3333" stop-color="#faba39"/><stop offset="0.4167" stop-color="#fcb336"/><stop offset="0.5" stop-color="#fea933"/><stop offset="0.5833" stop-color="#fe9e2f"/><stop offset="0.6667" stop-color="#fe932a"/><stop offset="0.75" stop-color="#fc8725"/><stop offset="0.8333" stop-color="#fa7b1f"/><stop offset="0.9167" stop-color="#f8721c"/><stop offset="1" stop-color="#f46617"/></linearGradient>
<linearGradient id="g64"><stop offset="0" stop-color="#ecd13a"/><stop offset="0.08333" stop-color="#efcd3a"/><stop offset="0.1667" stop-color="#f2c93a"/><stop offset="0.25" stop-color="#f6c33a"/><stop offset="0.3333" stop-color="#f9bc39"/><stop offset="0.4167" stop-color="#fcb336"/><stop offset="0.5" stop-color="#fdac34"/><stop offset="0.5833" stop-color="#fea130"/><stop offset="0.6667" stop-color="#fe962b"/><stop offset="0.75" stop-color="#fd8a26"/><stop offset="0.8333" stop-color="#fb7e21"/><stop offset="0.9167" stop-color="#f9751d"/><stop offset="1" stop-color="#f56918"/></linearGradient>
<linearGradient id="g65"><stop offset="0" stop-color="#ebd339"/><stop offset="0.08333" stop-color="#eecf3a"/><stop offset="0.1667" stop-color="#f1cb3a"/><stop offset="0.25" stop-color="#f5c53a"/><stop offset="0.3333" stop-color="#f8be39"/><stop offset="0.4167" stop-color="#fbb637"/><stop offset="0.5" stop-color="#fdac34"/><stop offset="0.5833" stop-color="#fea431"/><stop offset="0.6667" stop-color="#fe992c"/><stop offset="0.75" stop-color="#fd8d27"/><stop offset="0.8333" stop-color="#fb8122"/><stop offset="0.9167" stop-color="#f9751d"/><stop offset="1" stop-color="#f66c19"/></linearGradient>
<linearGradient id="g66"><stop offset="0" stop-color="#ebd339"/><stop offset="0.08333" stop-color="#ecd13a"/><stop offset="0.1667" stop-color="#f1cb3a"/><stop offset="0.25" stop-color="#f4c73a"/><stop offset="0.3333" stop-color="#f8be39"/><stop offset="0.4167" stop-color="#fbb838"/><stop offset="0.5" stop-color="#fdae35"/><stop offset="0.5833" stop-color="#fea431"/><stop offset="0.6667" stop-color="#fe9b2d"/><stop offset="0.75" stop-color="#fe9029"/><stop offset="0.8333" stop-color="#fc8423"/><stop offset="0.9167" stop-color="#f9781e"/><stop offset="1" stop-color="#f76f1a"/></linearGradient>
<linearGradient id="g67"><stop offset="0" stop-color="#e9d539"/><stop offset="0.08333" stop-color="#ecd13a"/><stop offset="0.1667" stop-color="#efcd3a"/><stop offset="0.25" stop-color="#f4c73a"/><stop offset="0.3333" stop-color="#f7c13a"/><stop offset="0.4167" stop-color="#faba39"/><stop offset="0.5" stop-color="#fcb136"/><stop offset="0.5833" stop-color="#fea732"/><stop offset="0.6667" stop-color="#fe9b2d"/><stop offset="0.75" stop-color="#fe932a"/><stop offset="0.8333" stop-color="#fc8725"/><stop offset="0.9167" stop-color="#fa7b1f"/><stop offset="1" stop-color="#f8721c"/></linearGradient>
<linearGradient id="g68"><stop offset="0" stop-color="#e7d739"/><stop offset="0.08333" stop-color="#ebd339"/><stop offset="0.1667" stop-color="#eecf3a"/><stop offset="0.25" stop-color="#f2c93a"/><stop offset="0.3333" stop-color="#f6c33a"/><stop offset="0.4167" stop-color="#f9bc39"/><stop offset="0.5" stop-color="#fcb336"/><stop offset="0.5833" stop-color="#fea933"/><stop offset="0.6667" stop-color="#fe9e2f"/><stop offset="0.75" stop-color="#fe932a"/><stop offset="0.8333" stop-color="#fd8a26"/><stop offset="0.9167" stop-color="#fb7e21"/><stop offset="1" stop-color="#f9751d"/></linearGradient>
<linearGradient id="g69"><stop offset="0" stop-color="#e5d938"/><stop offset="0.08333" stop-color="#e9d539"/><stop offset="0.1667" stop-color="#ecd13a"/><stop offset="0.25" stop-color="#f1cb3a"/><stop offset="0.3333" stop-color="#f5c53a"/><stop offset="0.4167" stop-color="#f9bc39"/><stop offset="0.5" stop-color="#fbb637"/><stop offset="0.5833" stop-color="#fdac34"/><stop offset="0.6667" stop-color="#fea130"/><stop offset="0.75" stop-color="#fe962b"/><stop offset="0.8333" stop-color="#fd8a26"/><stop offset="0.9167" stop-color="#fb8122"/><stop offset="1" stop-color="#f9781e"/></linearGradient>
<linearGradient id="g70"><stop offset="0" stop-color="#e3db38"/><stop offset="0.08333" stop-color="#e7d739"/><stop offset="0.1667" stop-color="#ebd339"/><stop offset="0.25" stop-color="#efcd3a"/><stop offset="0.3333" stop-color="#f4c73a"/><stop offset="0.4167" stop-color="#f8be39"/><stop offset="0.5" stop-color="#fbb838"/><stop offset="0.5833" stop-color="#fdae35"/><stop offset="0.6667" stop-color="#fea431"/><stop offset="0.75" stop-color="#fe992c"/><stop offset="0.8333" stop-color="#fd8d27"/><stop offset="0.9167" stop-color="#fc8423"/><stop offset="1" stop-color="#f9781e"/></linearGradient>
<linearGradient id="g71"><stop offset="0" stop-color="#e1dd37"/><stop offset="0.08333" stop-color="#e5d938"/><stop offset="0.1667" stop-color="#ebd339"/><stop offset="0.25" stop-color="#eecf3a"/><stop offset="0.3333" stop-color="#f4c73a"/><stop offset="0.4167" stop-color="#f7c13a"/><stop offset="0.5" stop-color="#fbb838"/><stop offset="0.5833" stop-color="#fcb136"/><stop offset="0.6667" stop-color="#fea732"/><stop offset="0.75" stop-color="#fe9b2d"/><stop offset="0.8333" stop-color="#fe9029"/><stop offset="0.9167" stop-color="#fc8725"/><stop offset="1" stop-color="#fa7b1f"/></linearGradient>
<linearGradient id="g72"><stop offset="0" stop-color="#e1dd37"/><stop offset="0.08333" stop-color="#e3db38"/><stop offset="0.1667" stop-color="#e9d539"/><stop offset="0.25" stop-color="#eecf3a"/><stop offset="0.3333" stop-color="#f2c93a"/><stop offset="0.4167" stop-color="#f6c33a"/><stop offset="0.5" stop-color="#faba39"/><stop offset="0.5833" stop-color="#fcb136"/><stop offset="0.6667" stop-color="#fea933"/><stop offset="0.75" stop-color="#fe9e2f"/><stop offset="0.8333" stop-color="#fe932a"/><stop offset="0.9167" stop-color="#fd8a26"/><stop offset="1" stop-color="#fb7e21"/></linearGradient>
<linearGradient id="g73"><stop offset="0" stop-color="#dfdf37"/><stop offset="0.08333" stop-color="#e3db38"/><stop offset="0.1667" stop-color="#e7d739"/><stop offset="0.25" stop-color="#ecd13a"/><stop offset="0.3333" stop-color="#f1cb3a"/><stop offset="0.4167" stop-color="#f5c53a"/><stop offset="0.5" stop-color="#f9bc39"/><stop offset="0.5833" stop-color="#fcb336"/><stop offset="0.6667" stop-color="#fea933"/><stop offset="0.75" stop-color="#fea130"/><stop offset="0.8333" stop-color="#fe962b"/><stop offset="0.9167" stop-color="#fd8a26"/><stop offset="1" stop-color="#fb8122"/></linearGradient>
<linearGradient id="g74"><stop offset="0" stop-color="#dde037"/><stop offset="0.08333" stop-color="#e1dd37"/><stop offset="0.1667" stop-color="#e5d938"/><stop offset="0.25" stop-color="#ebd339"/><stop offset="0.3333" stop-color="#efcd3a"/><stop offset="0.4167" stop-color="#f5c53a"/><stop offset="0.5" stop-color="#f8be39"/><stop offset="0.5833" stop-color="#fbb637"/><stop offset="0.6667" stop-color="#fdac34"/><stop offset="0.75" stop-color="#fea130"/><stop offset="0.8333" stop-color="#fe992c"/><stop offset="0.9167" stop-color="#fd8d27"/><stop offset="1" stop-color="#fc8423"/></linearGradient>
<linearGradient id="g75"><stop offset="0" stop-color="#dbe236"/><stop offset="0.08333" stop-color="#dfdf37"/><stop offset="0.1667" stop-color="#e3db38"/><stop offset="0.25" stop-color="#e9d539"/><stop offset="0.3333" stop-color="#eecf3a"/><stop offset="0.4167" stop-color="#f4c73a"/><stop offset="0.5" stop-color="#f7c13a"/><stop offset="0.5833" stop-color="#fbb838"/><stop offset="0.6667" stop-color="#fdae35"/><stop offset="0.75" stop-color="#fea431"/><stop offset="0.8333" stop-color="#fe9b2d"/><stop offset="0.9167" stop-color="#fe9029"/><stop offset="1" stop-color="#fc8725"/></linearGradient>
<linearGradient id="g76"><stop offset="0" stop-color="#d9e436"/><stop offset="0.08333" stop-color="#dde037"/><stop offset="0.1667" stop-color="#e3db38"/><stop offset="0.25" stop-color="#e7d739"/><stop offset="0.3333" stop-color="#eecf3a"/><stop offset="0.4167" stop-color="#f2c93a"/><stop offset="0.5" stop-color="#f7c13a"/><stop offset="0.5833" stop-color="#faba39"/><stop offset="0.6667" stop-color="#fcb136"/><stop offset="0.75" stop-color="#fea732"/><stop offset="0.8333" stop-color="#fe9b2d"/><stop offset="0.9167" stop-color="#fe932a"/><stop offset="1" stop-color="#fd8a26"/></linearGradient>
<linearGradient id="g77"><stop offset="0" stop-color="#d7e535"/><stop offset="0.08333" stop-color="#dbe236"/><stop offset="0.1667" stop-color="#e1dd37"/><stop offset="0.25" stop-color="#e7d739"/><stop offset="0.3333" stop-color="#ecd13a"/><stop offset="0.4167" stop-color="#f1cb3a"/><stop offset="0.5" stop-color="#f6c33a"/><stop offset="0.5833" stop-color="#f9bc39"/><stop offset="0.6667" stop-color="#fcb336"/><stop offset="0.75" stop-color="#fea933"/><stop offset="0.8333" stop-color="#fe9e2f"/><stop offset="0.9167" stop-color="#fe962b"/><stop offset="1" stop-color="#fd8d27"/></linearGradient>
<linearGradient id="g78"><stop offset="0" stop-color="#d7e535"/><stop offset="0.08333" stop-color="#dbe236"/><stop offset="0.1667" stop-color="#dfdf37"/><stop offset="0.25" stop-color="#e5d938"/><stop offset="0.3333" stop-color="#ebd339"/><stop offset="0.4167" stop-color="#efcd3a"/><stop offset="0.5" stop-color="#f5c53a"/><stop offset="0.5833" stop-color="#f9bc39"/><stop offset="0.6667" stop-color="#fbb637"/><stop offset="0.75" stop-color="#fdac34"/><stop offset="0.8333" stop-color="#fea130"/><stop offset="0.9167" stop-color="#fe992c"/><stop offset="1" stop-color="#fd8d27"/></linearGradient>
<linearGradient id="g79"><stop offset="0" stop-color="#d4e735"/><stop offset="0.08333" stop-color="#d9e436"/><stop offset="0.1667" stop-color="#dde037"/><stop offset="0.25" stop-color="#e3db38"/><stop offset="0.3333" stop-color="#e9d539"/><stop offset="0.4167" stop-color="#efcd3a"/><stop offset="0.5" stop-color="#f4c73a"/><stop offset="0.5833" stop-color="#f8be39"/><stop offset="0.6667" stop-color="#fbb637"/><stop offset="0.75" stop-color="#fdae35"/><stop offset="0.8333" stop-color="#fea431"/><stop offset="0.9167" stop-color="#fe9b2d"/><stop offset="1" stop-color="#fe9029"/></linearGradient>
<linearGradient id="g80"><stop offset="0" stop-color="#d2e935"/><stop offset="0.08333" stop-color="#d7e535"/><stop offset="0.1667" stop-color="#dbe236"/><stop offset="0.25" stop-color="#e1dd37"/><stop offset="0.3333" stop-color="#e7d739"/><stop offset="0.4167" stop-color="#eecf3a"/><stop offset="0.5" stop-color="#f2c93a"/><stop offset="0.5833" stop-color="#f7c13a"/><stop offset="0.6667" stop-color="#fbb838"/><stop offset="0.75" stop-color="#fcb136"/><stop offset="0.8333" stop-color="#fea732"/><stop offset="0.9167" stop-color="#fe9b2d"/><stop offset="1" stop-color="#fe932a"/></linearGradient>
<linearGradient id="g81"><stop offset="0" stop-color="#d0ea34"/><stop offset="0.08333" stop-color="#d4e735"/><stop offset="0.1667" stop-color="#dbe236"/><stop offset="0.25" stop-color="#dfdf37"/><stop offset="0.3333" stop-color="#e7d739"/><stop offset="0.4167" stop-color="#ecd13a"/><stop offset="0.5" stop-color="#f2c93a"/><stop offset="0.5833" stop-color="#f6c33a"/><stop offset="0.6667" stop-color="#faba39"/><stop offset="0.75" stop-color="#fcb136"/><stop offset="0.8333" stop-color="#fea933"/><stop offset="0.9167" stop-color="#fe9e2f"/><stop offset="1" stop-color="#fe962b"/></linearGradient>
<linearGradient id="g82"><stop offset="0" stop-color="#cdec34"/><stop offset="0.08333" stop-color="#d2e935"/><stop offset="0.1667" stop-color="#d9e436"/><stop offset="0.25" stop-color="#dfdf37"/><stop offset="0.3333" stop-color="#e5d938"/><stop offset="0.4167" stop-color="#ebd339"/><stop offset="0.5" stop-color="#f1cb3a"/><stop offset="0.5833" stop-color="#f5c53a"/><stop offset="0.6667" stop-color="#f9bc39"/><stop offset="0.75" stop-color="#fcb336"/><stop offset="0.8333" stop-color="#fdac34"/><stop offset="0.9167" stop-color="#fea130"/><stop offset="1" stop-color="#fe992c"/></linearGradient>
<linearGradient id="g83"><stop offset="0" stop-color="#cbed34"/><stop offset="0.08333" stop-color="#d0ea34"/><stop offset="0.1667" stop-color="#d7e535"/><stop offset="0.25" stop-color="#dde037"/><stop offset="0.3333" stop-color="#e3db38"/><stop offset="0.4167" stop-color="#e9d539"/><stop offset="0.5" stop-color="#efcd3a"/><stop offset="0.5833" stop-color="#f5c53a"/><stop offset="0.6667" stop-color="#f8be39"/><stop offset="0.75" stop-color="#fbb637"/><stop offset="0.8333" stop-color="#fdac34"/><stop offset="0.9167" stop-color="#fea431"/><stop offset="1" stop-color="#fe9b2d"/></linearGradient>
<linearGradient id="g84"><stop offset="0" stop-color="#cbed34"/><stop offset="0.08333" stop-color="#d0ea34"/><stop offset="0.1667" stop-color="#d4e735"/><stop offset="0.25" stop-color="#dbe236"/><stop offset="0.3333" stop-color="#e1dd37"/><stop offset="0.4167" stop-color="#e9d539"/><stop offset="0.5" stop-color="#eecf3a"/><stop offset="0.5833" stop-color="#f4c73a"/><stop offset="0.6667" stop-color="#f7c13a"/><stop offset="0.75" stop-color="#fbb838"/><stop offset="0.8333" stop-color="#fdae35"/><stop offset="0.9167" stop-color="#fea732"/><stop offset="1" stop-color="#fe9e2f"/></linearGradient>
<linearGradient id="g85"><stop offset="0" stop-color="#c8ef34"/><stop offset="0.08333" stop-color="#cdec34"/><stop offset="0.1667" stop-color="#d2e935"/><stop offset="0.25" stop-color="#d9e436"/><stop offset="0.3333" stop-color="#dfdf37"/><stop offset="0.4167" stop-color="#e7d739"/><stop offset="0.5" stop-color="#ecd13a"/><stop offset="0.5833" stop-color="#f2c93a"/><stop offset="0.6667" stop-color="#f7c13a"/><stop offset="0.75" stop-color="#faba39"/><stop offset="0.8333" stop-color="#fcb136"/><stop offset="0.9167" stop-color="#fea933"/><stop offset="1" stop-color="#fe9e2f"/></linearGradient>
<linearGradient id="g86"><stop offset="0" stop-color="#c6f034"/><stop offset="0.08333" stop-color="#cbed34"/><stop offset="0.1667" stop-color="#d2e935"/><stop offset="0.25" stop-color="#d7e535"/><stop offset="0.3333" stop-color="#dfdf37"/><stop offset="0.4167" stop-color="#e5d938"/><stop offset="0.5" stop-color="#ecd13a"/><stop offset="0.5833" stop-color="#f1cb3a"/><stop offset="0.6667" stop-color="#f6c33a"/><stop offset="0.75" stop-color="#faba39"/><stop offset="0.8333" stop-color="#fcb336"/><stop offset="0.9167" stop-color="#fdac34"/><stop offset="1" stop-color="#fea130"/></linearGradient>
<linearGradient id="g87"><stop offset="0" stop-color="#c3f134"/><stop offset="0.08333" stop-color="#c8ef34"/><stop offset="0.1667" stop-color="#d0ea34"/><stop offset="0.25" stop-color="#d7e535"/><stop offset="0.3333" stop-color="#dde037"/><stop offset="0.4167" stop-color="#e3db38"/><stop offset="0.5" stop-color="#ebd339"/><stop offset="0.5833" stop-color="#efcd3a"/><stop offset="0.6667" stop-color="#f5c53a"/><stop offset="0.75" stop-color="#f9bc39"/><stop offset="0.8333" stop-color="#fbb637"/><stop offset="0.9167" stop-color="#fdac34"/><stop offset="1" stop-color="#fea431"/></linearGradient>
<linearGradient id="g88"><stop offset="0" stop-color="#c1f334"/><stop offset="0.08333" stop-color="#c6f034"/><stop offset="0.1667" stop-color="#cdec34"/><stop offset="0.25" stop-color="#d4e735"/><stop offset="0.3333" stop-color="#dbe236"/><stop offset="0.4167" stop-color="#e1dd37"/><stop offset="0.5" stop-color="#e9d539"/><stop offset="0.5833" stop-color="#efcd3a"/><stop offset="0.6667" stop-color="#f4c73a"/><stop offset="0.75" stop-color="#f8be39"/><stop offset="0.8333" stop-color="#fbb838"/><stop offset="0.9167" stop-color="#fdae35"/><stop offset="1" stop-color="#fea732"/></linearGradient>
<linearGradient id="g89"><stop offset="0" stop-color="#c1f334"/><stop offset="0.08333" stop-color="#c6f034"/><stop offset="0.1667" stop-color="#cbed34"/><stop offset="0.25" stop-color="#d2e935"/><stop offset="0.3333" stop-color="#d9e436"/><stop offset="0.4167" stop-color="#e1dd37"/><stop offset="0.5" stop-color="#e7d739"/><stop offset="0.5833" stop-color="#eecf3a"/><stop offset="0.6667" stop-color="#f2c93a"/><stop offset="0.75" stop-color="#f7c13a"/><stop offset="0.8333" stop-color="#fbb838"/><stop offset="0.9167" stop-color="#fcb136"/><stop offset="1" stop-color="#fea933"/></linearGradient>
<linearGradient id="g90"><stop offset="0" stop-color="#bef434"/><stop offset="0.08333" stop-color="#c3f134"/><stop offset="0.1667" stop-color="#c8ef34"/><stop offset="0.25" stop-color="#d0ea34"/><stop offset="0.3333" stop-color="#d7e535"/><stop offset="0.4167" stop-color="#dfdf37"/><stop offset="0.5" stop-color="#e5d938"/><stop offset="0.5833" stop-color="#ecd13a"/><stop offset="0.6667" stop-color="#f2c93a"/><stop offset="0.75" stop-color="#f6c33a"/><stop offset="0.8333" stop-color="#faba39"/><stop offset="0.9167" stop-color="#fcb336"/><stop offset="1" stop-color="#fdac34"/></linearGradient>
<linearGradient id="g91"><stop offset="0" stop-color="#bcf534"/><stop offset="0.08333" stop-color="#c1f334"/><stop offset="0.1667" stop-color="#c8ef34"/><stop offset="0.25" stop-color="#cdec34"/><stop offset="0.3333" stop-color="#d7e535"/><stop offset="0.4167" stop-color="#dde037"/><stop offset="0.5" stop-color="#e5d938"/><stop offset="0.5833" stop-color="#ebd339"/><stop offset="0.6667" stop-color="#f1cb3a"/><stop offset="0.75" stop-color="#f5c53a"/><stop offset="0.8333" stop-color="#f9bc39"/><stop offset="0.9167" stop-color="#fbb637"/><stop offset="1" stop-color="#fdae35"/></linearGradient>
<linearGradient id="g92"><stop offset="0" stop-color="#b9f635"/><stop offset="0.08333" stop-color="#bef434"/><stop offset="0.1667" stop-color="#c6f034"/><stop offset="0.25" stop-color="#cdec34"/><stop offset="0.3333" stop-color="#d4e735"/><stop offset="0.4167" stop-color="#dbe236"/><stop offset="0.5" stop-color="#e3db38"/><stop offset="0.5833" stop-color="#e9d539"/><stop offset="0.6667" stop-color="#efcd3a"/><stop offset="0.75" stop-color="#f5c53a"/><stop offset="0.8333" stop-color="#f8be39"/><stop offset="0.9167" stop-color="#fbb838"/><stop offset="1" stop-color="#fdae35"/></linearGradient>
<linearGradient id="g93"><stop offset="0" stop-color="#b7f735"/><stop offset="0.08333" stop-color="#bcf534"/><stop offset="0.1667" stop-color="#c3f134"/><stop offset="0.25" stop-color="#cbed34"/><stop offset="0.3333" stop-color="#d2e935"/><stop offset="0.4167" stop-color="#d9e436"/><stop offset="0.5" stop-color="#e1dd37"/><stop offset="0.5833" stop-color="#e9d539"/><stop offset="0.6667" stop-color="#eecf3a"/><stop offset="0.75" stop-color="#f4c73a"/><stop offset="0.8333" stop-color="#f7c13a"/><stop offset="0.9167" stop-color="#fbb838"/><stop offset="1" stop-color="#fcb136"/></linearGradient>
<linearGradient id="g94"><stop offset="0" stop-color="#b4f836"/><stop offset="0.08333" stop-color="#bcf534"/><stop offset="0.1667" stop-color="#c1f334"/><stop offset="0.25" stop-color="#c8ef34"/><stop offset="0.3333" stop-color="#d0ea34"/><stop offset="0.4167" stop-color="#d9e436"/><stop offset="0.5" stop-color="#dfdf37"/><stop offset="0.5833" stop-color="#e7d739"/><stop offset="0.6667" stop-color="#ecd13a"/><stop offset="0.75" stop-color="#f2c93a"/><stop offset="0.8333" stop-color="#f7c13a"/><stop offset="0.9167" stop-color="#faba39"/><stop offset="1" stop-color="#fcb336"/></linearGradient>
<linearGradient id="g95"><stop offset="0" stop-color="#b4f836"/><stop offset="0.08333" stop-color="#b9f635"/><stop offset="0.1667" stop-color="#bef434"/><stop offset="0.25" stop-color="#c6f034"/><stop offset="0.3333" stop-color="#d0ea34"/><stop offset="0.4167" stop-color="#d7e535"/><stop offset="0.5" stop-color="#dde037"/><stop offset="0.5833" stop-color="#e5d938"/><stop offset="0.6667" stop-color="#ecd13a"/><stop offset="0.75" stop-color="#f1cb3a"/><stop offset="0.8333" stop-color="#f6c33a"/><stop offset="0.9167" stop-color="#f9bc39"/><stop offset="1" stop-color="#fbb637"/></linearGradient>
<linearGradient id="g96"><stop offset="0" stop-color="#b1f936"/><stop offset="0.08333" stop-color="#b7f735"/><stop offset="0.1667" stop-color="#bef434"/><stop offset="0.25" stop-color="#c6f034"/><stop offset="0.3333" stop-color="#cdec34"/><stop offset="0.4167" stop-color="#d4e735"/><stop offset="0.5" stop-color="#dde037"/><stop offset="0.5833" stop-color="#e3db38"/><stop offset="0.6667" stop-color="#ebd339"/><stop offset="0.75" stop-color="#efcd3a"/><stop offset="0.8333" stop-color="#f5c53a"/><stop offset="0.9167" stop-color="#f8be39"/><stop offset="1" stop-color="#fbb838"/></linearGradient>
<linearGradient id="g97"><stop offset="0" stop-color="#affa37"/><stop offset="0.08333" stop-color="#b4f836"/><stop offset="0.1667" stop-color="#bcf534"/><stop offset="0.25" stop-color="#c3f134"/><stop offset="0.3333" stop-color="#cbed34"/><stop offset="0.4167" stop-color="#d2e935"/><stop offset="0.5" stop-color="#dbe236"/><stop offset="0.5833" stop-color="#e1dd37"/><stop offset="0.6667" stop-color="#e9d539"/><stop offset="0.75" stop-color="#efcd3a"/><stop offset="0.8333" stop-color="#f4c73a"/><stop offset="0.9167" stop-color="#f7c13a"/><stop offset="1" stop-color="#faba39"/></linearGradient>
<linearGradient id="g98"><stop offset="0" stop-color="#acfb38"/><stop offset="0.08333" stop-color="#b1f936"/><stop offset="0.1667" stop-color="#b9f635"/><stop offset="0.25" stop-color="#c1f334"/><stop offset="0.3333" stop-color="#c8ef34"/><stop offset="0.4167" stop-color="#d2e935"/><stop offset="0.5" stop-color="#d9e436"/><stop offset="0.5833" stop-color="#e1dd37"/><stop offset="0.6667" stop-color="#e7d739"/><stop offset="0.75" stop-color="#eecf3a"/><stop offset="0.8333" stop-color="#f2c93a"/><stop offset="0.9167" stop-color="#f7c13a"/><stop offset="1" stop-color="#faba39"/></linearGradient>
<linearGradient id="g99"><stop offset="0" stop-color="#a9fb39"/><stop offset="0.08333" stop-color="#b1f936"/><stop offset="0.1667" stop-color="#b7f735"/><stop offset="0.25" stop-color="#bef434"/><stop offset="0.3333" stop-color="#c6f034"/><stop offset="0.4167" stop-color="#d0ea34"/><stop offset="0.5" stop-color="#d7e535"/><stop offset="0.5833" stop-color="#dfdf37"/><stop offset="0.6667" stop-color="#e7d739"/><stop offset="0.75" stop-color="#ecd13a"/><stop offset="0.8333" stop-color="#f1cb3a"/><stop offset="0.9167" stop-color="#f6c33a"/><stop offset="1" stop-color="#f9bc39"/></linearGradient>
<linearGradient id="g100"><stop offset="0" stop-color="#a9fb39"/><stop offset="0.08333" stop-color="#affa37"/><stop offset="0.1667" stop-color="#b7f735"/><stop offset="0.25" stop-color="#bef434"/><stop offset="0.3333" stop-color="#c6f034"/><stop offset="0.4167" stop-color="#cdec34"/><stop offset="0.5" stop-color="#d7e535"/><stop offset="0.5833" stop-color="#dde037"/><stop offset="0.6667" stop-color="#e5d938"/><stop offset="0.75" stop-color="#ebd339"/><stop offset="0.8333" stop-color="#f1cb3a"/><stop offset="0.9167" stop-color="#f5c53a"/><stop offset="1" stop-color="#f8be39"/></linearGradient>
<linearGradient id="g101"><stop offset="0" stop-color="#a7fc3a"/><stop offset="0.08333" stop-color="#acfb38"/><stop offset="0.1667" stop-color="#b4f836"/><stop offset="0.25" stop-color="#bcf534"/><stop offset="0.3333" stop-color="#c3f134"/><stop offset="0.4167" stop-color="#cbed34"/><stop offset="0.5" stop-color="#d4e735"/><stop offset="0.5833" stop-color="#dbe236"/><stop offset="0.6667" stop-color="#e3db38"/><stop offset="0.75" stop-color="#e9d539"/><stop offset="0.8333" stop-color="#efcd3a"/><stop offset="0.9167" stop-color="#f4c73a"/><stop offset="1" stop-color="#f7c13a"/></linearGradient>
<linearGradient id="g102"><stop offset="0" stop-color="#a4fc3c"/><stop offset="0.08333" stop-color="#a9fb39"/><stop offset="0.1667" stop-color="#b1f936"/><stop offset="0.25" stop-color="#b9f635"/><stop offset="0.3333" stop-color="#c1f334"/><stop offset="0.4167" stop-color="#cbed34"/><stop offset="0.5" stop-color="#d2e935"/><stop offset="0.5833" stop-color="#dbe236"/><stop offset="0.6667" stop-color="#e1dd37"/><stop offset="0.75" stop-color="#e9d539"/><stop offset="0.8333" stop-color="#eecf3a"/><stop offset="0.9167" stop-color="#f2c93a"/><stop offset="1" stop-color="#f6c33a"/></linearGradient>
<linearGradient id="g103"><stop offset="0" stop-color="#a1fd3d"/><stop offset="0.08333" stop-color="#a9fb39"/><stop offset="0.1667" stop-color="#affa37"/><stop offset="0.25" stop-color="#b7f735"/><stop offset="0.3333" stop-color="#bef434"/><stop offset="0.4167" stop-color="#c8ef34"/><stop offset="0.5" stop-color="#d0ea34"/><stop offset="0.5833" stop-color="#d9e436"/><stop offset="0.6667" stop-color="#dfdf37"/><stop offset="0.75" stop-color="#e7d739"/><stop offset="0.8333" stop-color="#ecd13a"/><stop offset="0.9167" stop-color="#f1cb3a"/><stop offset="1" stop-color="#f5c53a"/></linearGradient>
<linearGradient id="g104"><stop offset="0" stop-color="#9ffd3f"/><stop offset="0.08333" stop-color="#a7fc3a"/><stop offset="0.1667" stop-color="#acfb38"/><stop offset="0.25" stop-color="#b4f836"/><stop offset="0.3333" stop-color="#bef434"/><stop offset="0.4167" stop-color="#c6f034"/><stop offset="0.5" stop-color="#d0ea34"/><stop offset="0.5833" stop-color="#d7e535"/><stop offset="0.6667" stop-color="#dfdf37"/><stop offset="0.75" stop-color="#e5d938"/><stop offset="0.8333" stop-color="#ebd339"/><stop offset="0.9167" stop-color="#f1cb3a"/><stop offset="1" stop-color="#f5c53a"/></linearGradient>
<linearGradient id="g105"><stop offset="0" stop-color="#9ffd3f"/><stop offset="0.08333" stop-color="#a4fc3c"/><stop offset="0.1667" stop-color="#acfb38"/><stop offset="0.25" stop-color="#b4f836"/><stop offset="0.3333" stop-color="#bcf534"/><stop offset="0.4167" stop-color="#c3f134"/><stop offset="0.5" stop-color="#cdec34"/><stop offset="0.5833" stop-color="#d4e735"/><stop offset="0.6667" stop-color="#dde037"/><stop offset="0.75" stop-color="#e3db38"/><stop offset="0.8333" stop-color="#ebd339"/><stop offset="0.9167" stop-color="#efcd3a"/><stop offset="1" stop-color="#f4c73a"/></linearGradient>
<linearGradient id="g106"><stop offset="0" stop-color="#9cfe40"/><stop offset="0.08333" stop-color="#a1fd3d"/><stop offset="0.1667" stop-color="#a9fb39"/><stop offset="0.25" stop-color="#b1f936"/><stop offset="0.3333" stop-color="#b9f635"/><stop offset="0.4167" stop-color="#c3f134"/><stop offset="0.5" stop-color="#cbed34"/><stop offset="0.5833" stop-color="#d4e735"/><stop offset="0.6667" stop-color="#dbe236"/><stop offset="0.75" stop-color="#e3db38"/><stop offset="0.8333" stop-color="#e9d539"/><stop offset="0.9167" stop-color="#eecf3a"/><stop offset="1" stop-color="#f2c93a"/></linearGradient>
<linearGradient id="g107"><stop offset="0" stop-color="#99fe42"/><stop offset="0.08333" stop-color="#9ffd3f"/><stop offset="0.1667" stop-color="#a7fc3a"/><stop offset="0.25" stop-color="#affa37"/><stop offset="0.3333" stop-color="#b7f735"/><stop offset="0.4167" stop-color="#c1f334"/><stop offset="0.5" stop-color="#c8ef34"/><stop offset="0.5833" stop-color="#d2e935"/><stop offset="0.6667" stop-color="#d9e436"/><stop offset="0.75" stop-color="#e1dd37"/><stop offset="0.8333" stop-color="#e7d739"/><stop offset="0.9167" stop-color="#ecd13a"/><stop offset="1" stop-color="#f1cb3a"/></linearGradient>
<linearGradient id="g108"><stop offset="0" stop-color="#96fe44"/><stop offset="0.08333" stop-color="#9ffd3f"/><stop offset="0.1667" stop-color="#a4fc3c"/><stop offset="0.25" stop-color="#acfb38"/><stop offset="0.3333" stop-color="#b7f735"/><stop offset="0.4167" stop-color="#bef434"/><stop offset="0.5" stop-color="#c8ef34"/><stop offset="0.5833" stop-color="#d0ea34"/><stop offset="0.6667" stop-color="#d9e436"/><stop offset="0.75" stop-color="#dfdf37"/><stop offset="0.8333" stop-color="#e5d938"/><stop offset="0.9167" stop-color="#ebd339"/><stop offset="1" stop-color="#efcd3a"/></linearGradient>
<linearGradient id="g109"><stop offset="0" stop-color="#92ff47"/><stop offset="0.08333" stop-color="#9cfe40"/><stop offset="0.1667" stop-color="#a4fc3c"/><stop offset="0.25" stop-color="#acfb38"/><stop offset="0.3333" stop-color="#b4f836"/><stop offset="0.4167" stop-color="#bcf534"/><stop offset="0.5" stop-color="#c6f034"/><stop offset="0.5833" stop-color="#cdec34"/><stop offset="0.6667" stop-color="#d7e535"/><stop offset="0.75" stop-color="#dde037"/><stop offset="0.8333" stop-color="#e5d938"/><stop offset="0.9167" stop-color="#ebd339"/><stop offset="1" stop-color="#efcd3a"/></linearGradient>
<linearGradient id="g110"><stop offset="0" stop-color="#92ff47"/><stop offset="0.08333" stop-color="#99fe42"/><stop offset="0.1667" stop-color="#a1fd3d"/><stop offset="0.25" stop-color="#a9fb39"/><stop offset="0.3333" stop-color="#b1f936"/><stop offset="0.4167" stop-color="#bcf534"/><stop offset="0.5" stop-color="#c3f134"/><stop offset="0.5833" stop-color="#cdec34"/><stop offset="0.6667" stop-color="#d4e735"/><stop offset="0.75" stop-color="#dbe236"/><stop offset="0.8333" stop-color="#e3db38"/><stop offset="0.9167" stop-color="#e9d539"/><stop offset="1" stop-color="#eecf3a"/></linearGradient>
<linearGradient id="g111"><stop offset="0" stop-color="#8fff49"/><stop offset="0.08333" stop-color="#96fe44"/><stop offset="0.1667" stop-color="#9ffd3f"/><stop offset="0.25" stop-color="#a7fc3a"/><stop offset="0.3333" stop-color="#affa37"/><stop offset="0.4167" stop-color="#b9f635"/><stop offset="0.5" stop-color="#c1f334"/><stop offset="0.5833" stop-color="#cbed34"/><stop offset="0.6667" stop-color="#d2e935"/><stop offset="0.75" stop-color="#dbe236"/><stop offset="0.8333" stop-color="#e1dd37"/><stop offset="0.9167" stop-color="#e7d739"/><stop offset="1" stop-color="#ecd13a"/></linearGradient>
<linearGradient id="g112"><stop offset="0" stop-color="#8bff4b"/><stop offset="0.08333" stop-color="#96fe44"/><stop offset="0.1667" stop-color="#9cfe40"/><stop offset="0.25" stop-color="#a4fc3c"/><stop offset="0.3333" stop-color="#affa37"/><stop offset="0.4167" stop-color="#b7f735"/><stop offset="0.5" stop-color="#c1f334"/><stop offset="0.5833" stop-color="#c8ef34"/><stop offset="0.6667" stop-color="#d2e935"/><stop offset="0.75" stop-color="#d9e436"/><stop offset="0.8333" stop-color="#dfdf37"/><stop offset="0.9167" stop-color="#e5d938"/><stop offset="1" stop-color="#ebd339"/></linearGradient>
<linearGradient id="g113"><stop offset="0" stop-color="#88ff4e"/><stop offset="0.08333" stop-color="#92ff47"/><stop offset="0.1667" stop-color="#9cfe40"/><stop offset="0.25" stop-color="#a4fc3c"/><stop offset="0.3333" stop-color="#acfb38"/><stop offset="0.4167" stop-color="#b4f836"/><stop offset="0.5" stop-color="#bef434"/><stop offset="0.5833" stop-color="#c6f034"/><stop offset="0.6667" stop-color="#d0ea34"/><stop offset="0.75" stop-color="#d7e535"/><stop offset="0.8333" stop-color="#dde037"/><stop offset="0.9167" stop-color="#e3db38"/><stop offset="1" stop-color="#e9d539"/></linearGradient>
<linearGradient id="g114"><stop offset="0" stop-color="#84ff51"/><stop offset="0.08333" stop-color="#8fff49"/><stop offset="0.1667" stop-color="#99fe42"/><stop offset="0.25" stop-color="#a1fd3d"/><stop offset="0.3333" stop-color="#a9fb39"/><stop offset="0.4167" stop-color="#b4f836"/><stop offset="0.5" stop-color="#bcf534"/><stop offset="0.5833" stop-color="#c6f034"/><stop offset="0.6667" stop-color="#cdec34"/><stop offset="0.75" stop-color="#d4e735"/><stop offset="0.8333" stop-color="#dde037"/><stop offset="0.9167" stop-color="#e3db38"/><stop offset="1" stop-color="#e7d739"/></linearGradient>
<linearGradient id="g115"><stop offset="0" stop-color="#84ff51"/><stop offset="0.08333" stop-color="#8bff4b"/><stop offset="0.1667" stop-color="#96fe44"/><stop offset="0.25" stop-color="#9ffd3f"/><stop offset="0.3333" stop-color="#a7fc3a"/><stop offset="0.4167" stop-color="#b1f936"/><stop offset="0.5" stop-color="#b9f635"/><stop offset="0.5833" stop-color="#c3f134"/><stop offset="0.6667" stop-color="#cbed34"/><stop offset="0.75" stop-color="#d4e735"/><stop offset="0.8333" stop-color="#dbe236"/><stop offset="0.9167" stop-color="#e1dd37"/><stop offset="1" stop-color="#e7d739"/></linearGradient>
<linearGradient id="g116"><stop offset="0" stop-color="#80ff53"/><stop offset="0.08333" stop-color="#88ff4e"/><stop offset="0.1667" stop-color="#92ff47"/><stop offset="0.25" stop-color="#9cfe40"/><stop offset="0.3333" stop-color="#a7fc3a"/><stop offset="0.4167" stop-color="#affa37"/><stop offset="0.5" stop-color="#b9f635"/><stop offset="0.5833" stop-color="#c1f334"/><stop offset="0.6667" stop-color="#c8ef34"/><stop offset="0.75" stop-color="#d2e935"/><stop offset="0.8333" stop-color="#d9e436"/><stop offset="0.9167" stop-color="#dfdf37"/><stop offset="1" stop-color="#e5d938"/></linearGradient>
<linearGradient id="g117"><stop offset="0" stop-color="#7dff56"/><stop offset="0.08333" stop-color="#88ff4e"/><stop offset="0.1667" stop-color="#92ff47"/><stop offset="0.25" stop-color="#9cfe40"/><stop offset="0.3333" stop-color="#a4fc3c"/><stop offset="0.4167" stop-color="#acfb38"/><stop offset="0.5" stop-color="#b7f735"/><stop offset="0.5833" stop-color="#bef434"/><stop offset="0.6667" stop-color="#c8ef34"/><stop offset="0.75" stop-color="#d0ea34"/><stop offset="0.8333" stop-color="#d7e535"/><stop offset="0.9167" stop-color="#dde037"/><stop offset="1" stop-color="#e3db38"/></linearGradient>
<linearGradient id="g118"><stop offset="0" stop-color="#79fe59"/><stop offset="0.08333" stop-color="#84ff51"/><stop offset="0.1667" stop-color="#8fff49"/><stop offset="0.25" stop-color="#99fe42"/><stop offset="0.3333" stop-color="#a1fd3d"/><stop offset="0.4167" stop-color="#acfb38"/><stop offset="0.5" stop-color="#b4f836"/><stop offset="0.5833" stop-color="#bef434"/><stop offset="0.6667" stop-color="#c6f034"/><stop offset="0.75" stop-color="#cdec34"/><stop offset="0.8333" stop-color="#d7e535"/><stop offset="0.9167" stop-color="#dde037"/><stop offset="1" stop-color="#e1dd37"/></linearGradient>
<linearGradient id="g119"><stop offset="0" stop-color="#79fe59"/><stop offset="0.08333" stop-color="#80ff53"/><stop offset="0.1667" stop-color="#8bff4b"/><stop offset="0.25" stop-color="#96fe44"/><stop offset="0.3333" stop-color="#9ffd3f"/><stop offset="0.4167" stop-color="#a9fb39"/><stop offset="0.5" stop-color="#b1f936"/><stop offset="0.5833" stop-color="#bcf534"/><stop offset="0.6667" stop-color="#c3f134"/><stop offset="0.75" stop-color="#cdec34"/><stop offset="0.8333" stop-color="#d4e735"/><stop offset="0.9167" stop-color="#dbe236"/><stop offset="1" stop-color="#dfdf37"/></linearGradient>
<linearGradient id="g120"><stop offset="0" stop-color="#75fe5c"/><stop offset="0.08333" stop-color="#7dff56"/><stop offset="0.1667" stop-color="#88ff4e"/><stop offset="0.25" stop-color="#92ff47"/><stop offset="0.3333" stop-color="#9ffd3f"/><stop offset="0.4167" stop-color="#a7fc3a"/><stop offset="0.5" stop-color="#b1f936"/><stop offset="0.5833" stop-color="#b9f635"/><stop offset="0.6667" stop-color="#c3f134"/><stop offset="0.75" stop-color="#cbed34"/><stop offset="0.8333" stop-color="#d2e935"/><stop offset="0.9167" stop-color="#d9e436"/><stop offset="1" stop-color="#dfdf37"/></linearGradient>
<linearGradient id="g121"><stop offset="0" stop-color="#71fe5f"/><stop offset="0.08333" stop-color="#7dff56"/><stop offset="0.1667" stop-color="#88ff4e"/><stop offset="0.25" stop-color="#92ff47"/><stop offset="0.3333" stop-color="#9cfe40"/><stop offset="0.4167" stop-color="#a4fc3c"/><stop offset="0.5" stop-color="#affa37"/><stop offset="0.5833" stop-color="#b7f735"/><stop offset="0.6667" stop-color="#c1f334"/><stop offset="0.75" stop-color="#c8ef34"/><stop offset="0.8333" stop-color="#d0ea34"/><stop offset="0.9167" stop-color="#d7e535"/><stop offset="1" stop-color="#dde037"/></linearGradient>
<linearGradient id="g122"><stop offset="0" stop-color="#6dfe62"/><stop offset="0.08333" stop-color="#79fe59"/><stop offset="0.1667" stop-color="#84ff51"/><stop offset="0.25" stop-color="#8fff49"/><stop offset="0.3333" stop-color="#99fe42"/><stop offset="0.4167" stop-color="#a4fc3c"/><stop offset="0.5" stop-color="#acfb38"/><stop offset="0.5833" stop-color="#b7f735"/><stop offset="0.6667" stop-color="#bef434"/><stop offset="0.75" stop-color="#c6f034"/><stop offset="0.8333" stop-color="#cdec34"/><stop offset="0.9167" stop-color="#d4e735"/><stop offset="1" stop-color="#dbe236"/></linearGradient>
<linearGradient id="g123"><stop offset="0" stop-color="#69fd66"/><stop offset="0.08333" stop-color="#75fe5c"/><stop offset="0.1667" stop-color="#80ff53"/><stop offset="0.25" stop-color="#8bff4b"/><stop offset="0.3333" stop-color="#99fe42"/><stop offset="0.4167" stop-color="#a1fd3d"/><stop offset="0.5" stop-color="#a9fb39"/><stop offset="0.5833" stop-color="#b4f836"/><stop offset="0.6667" stop-color="#bcf534"/><stop offset="0.75" stop-color="#c6f034"/><stop offset="0.8333" stop-color="#cdec34"/><stop offset="0.9167" stop-color="#d4e735"/><stop offset="1" stop-color="#d9e436"/></linearGradient>
<linearGradient id="g124"><stop offset="0" stop-color="#69fd66"/><stop offset="0.08333" stop-color="#71fe5f"/><stop offset="0.1667" stop-color="#7dff56"/><stop offset="0.25" stop-color="#88ff4e"/><stop offset="0.3333" stop-color="#96fe44"/><stop offset="0.4167" stop-color="#9ffd3f"/><stop offset="0.5" stop-color="#a9fb39"/><stop offset="0.5833" stop-color="#b1f936"/><stop offset="0.6667" stop-color="#bcf534"/><stop offset="0.75" stop-color="#c3f134"/><stop offset="0.8333" stop-color="#cbed34"/><stop offset="0.9167" stop-color="#d2e935"/><stop offset="1" stop-color="#d7e535"/></linearGradient>
<linearGradient id="g125"><stop offset="0" stop-color="#65fd69"/><stop offset="0.08333" stop-color="#71fe5f"/><stop offset="0.1667" stop-color="#7dff56"/><stop offset="0.25" stop-color="#88ff4e"/><stop offset="0.3333" stop-color="#92ff47"/><stop offset="0.4167" stop-color="#9cfe40"/><stop offset="0.5" stop-color="#a7fc3a"/><stop offset="0.5833" stop-color="#affa37"/><stop offset="0.6667" stop-color="#b9f635"/><stop offset="0.75" stop-color="#c1f334"/><stop offset="0.8333" stop-color="#c8ef34"/><stop offset="0.9167" stop-color="#d0ea34"/><stop offset="1" stop-color="#d7e535"/></linearGradient>
<linearGradient id="g126"><stop offset="0" stop-color="#61fc6c"/><stop offset="0.08333" stop-color="#6dfe62"/><stop offset="0.1667" stop-color="#79fe59"/><stop offset="0.25" stop-color="#84ff51"/><stop offset="0.3333" stop-color="#8fff49"/><stop offset="0.4167" stop-color="#9cfe40"/><stop offset="0.5" stop-color="#a4fc3c"/><stop offset="0.5833" stop-color="#affa37"/><stop offset="0.6667" stop-color="#b7f735"/><stop offset="0.75" stop-color="#bef434"/><stop offset="0.8333" stop-color="#c6f034"/><stop offset="0.9167" stop-color="#cdec34"/><stop offset="1" stop-color="#d4e735"/></linearGradient>
<linearGradient id="g127"><stop offset="0" stop-color="#5dfc6f"/><stop offset="0.08333" stop-color="#69fd66"/><stop offset="0.1667" stop-color="#75fe5c"/><stop offset="0.25" stop-color="#80ff53"/><stop offset="0.3333" stop-color="#8fff49"/><stop offset="0.4167" stop-color="#99fe42"/><stop offset="0.5" stop-color="#a1fd3d"/><stop offset="0.5833" stop-color="#acfb38"/><stop offset="0.6667" stop-color="#b4f836"/><stop offset="0.75" stop-color="#bef434"/><stop offset="0.8333" stop-color="#c6f034"/><stop offset="0.9167" stop-color="#cdec34"/><stop offset="1" stop-color="#d2e935"/></linearGradient>
<linearGradient id="g128"><stop offset="0" stop-color="#5dfc6f"/><stop offset="0.08333" stop-color="#65fd69"/><stop offset="0.1667" stop-color="#71fe5f"/><stop offset="0.25" stop-color="#80ff53"/><stop offset="0.3333" stop-color="#8bff4b"/><stop offset="0.4167" stop-color="#96fe44"/><stop offset="0.5" stop-color="#a1fd3d"/><stop offset="0.5833" stop-color="#a9fb39"/><stop offset="0.6667" stop-color="#b4f836"/><stop offset="0.75" stop-color="#bcf534"/><stop offset="0.8333" stop-color="#c3f134"/><stop offset="0.9167" stop-color="#cbed34"/><stop offset="1" stop-color="#d0ea34"/></linearGradient>
<linearGradient id="g129"><stop offset="0" stop-color="#59fb73"/><stop offset="0.08333" stop-color="#65fd69"/><stop offset="0.1667" stop-color="#71fe5f"/><stop offset="0.25" stop-color="#7dff56"/><stop offset="0.3333" stop-color="#88ff4e"/><stop offset="0.4167" stop-color="#96fe44"/><stop offset="0.5" stop-color="#9ffd3f"/><stop offset="0.5833" stop-color="#a7fc3a"/><stop offset="0.6667" stop-color="#b1f936"/><stop offset="0.75" stop-color="#b9f635"/><stop offset="0.8333" stop-color="#c1f334"/><stop offset="0.9167" stop-color="#c8ef34"/><stop offset="1" stop-color="#d0ea34"/></linearGradient>
<linearGradient id="g130"><stop offset="0" stop-color="#55fa76"/><stop offset="0.08333" stop-color="#61fc6c"/><stop offset="0.1667" stop-color="#6dfe62"/><stop offset="0.25" stop-color="#79fe59"/><stop offset="0.3333" stop-color="#84ff51"/><stop offset="0.4167" stop-color="#92ff47"/><stop offset="0.5" stop-color="#9cfe40"/><stop offset="0.5833" stop-color="#a7fc3a"/><stop offset="0.6667" stop-color="#affa37"/><stop offset="0.75" stop-color="#b7f735"/><stop offset="0.8333" stop-color="#bef434"/><stop offset="0.9167" stop-color="#c6f034"/><stop offset="1" stop-color="#cdec34"/></linearGradient>
<linearGradient id="g131"><stop offset="0" stop-color="#52fa7a"/><stop offset="0.08333" stop-color="#5dfc6f"/><stop offset="0.1667" stop-color="#69fd66"/><stop offset="0.25" stop-color="#75fe5c"/><stop offset="0.3333" stop-color="#84ff51"/><stop offset="0.4167" stop-color="#8fff49"/><stop offset="0.5" stop-color="#9cfe40"/><stop offset="0.5833" stop-color="#a4fc3c"/><stop offset="0.6667" stop-color="#acfb38"/><stop offset="0.75" stop-color="#b7f735"/><stop offset="0.8333" stop-color="#bef434"/><stop offset="0.9167" stop-color="#c3f134"/><stop offset="1" stop-color="#cbed34"/></linearGradient>
<linearGradient id="g132"><stop offset="0" stop-color="#4ef97d"/><stop offset="0.08333" stop-color="#59fb73"/><stop offset="0.1667" stop-color="#65fd69"/><stop offset="0.25" stop-color="#75fe5c"/><stop offset="0.3333" stop-color="#80ff53"/><stop offset="0.4167" stop-color="#8bff4b"/><stop offset="0.5" stop-color="#99fe42"/><stop offset="0.5833" stop-color="#a1fd3d"/><stop offset="0.6667" stop-color="#acfb38"/><stop offset="0.75" stop-color="#b4f836"/><stop offset="0.8333" stop-color="#bcf534"/><stop offset="0.9167" stop-color="#c3f134"/><stop offset="1" stop-color="#c8ef34"/></linearGradient>
<linearGradient id="g133"><stop offset="0" stop-color="#4ef97d"/><stop offset="0.08333" stop-color="#59fb73"/><stop offset="0.1667" stop-color="#65fd69"/><stop offset="0.25" stop-color="#71fe5f"/><stop offset="0.3333" stop-color="#7dff56"/><stop offset="0.4167" stop-color="#8bff4b"/><stop offset="0.5" stop-color="#96fe44"/><stop offset="0.5833" stop-color="#a1fd3d"/><stop offset="0.6667" stop-color="#a9fb39"/><stop offset="0.75" stop-color="#b1f936"/><stop offset="0.8333" stop-color="#b9f635"/><stop offset="0.9167" stop-color="#c1f334"/><stop offset="1" stop-color="#c6f034"/></linearGradient>
<linearGradient id="g134"><stop offset="0" stop-color="#4af880"/><stop offset="0.08333" stop-color="#55fa76"/><stop offset="0.1667" stop-color="#61fc6c"/><stop offset="0.25" stop-color="#6dfe62"/><stop offset="0.3333" stop-color="#79fe59"/><stop offset="0.4167" stop-color="#88ff4e"/><stop offset="0.5" stop-color="#92ff47"/><stop offset="0.5833" stop-color="#9ffd3f"/><stop offset="0.6667" stop-color="#a7fc3a"/><stop offset="0.75" stop-color="#affa37"/><stop offset="0.8333" stop-color="#b7f735"/><stop offset="0.9167" stop-color="#bef434"/><stop offset="1" stop-color="#c6f034"/></linearGradient>
<linearGradient id="g135"><stop offset="0" stop-color="#46f884"/><stop offset="0.08333" stop-color="#52fa7a"/><stop offset="0.1667" stop-color="#5dfc6f"/><stop offset="0.25" stop-color="#69fd66"/><stop offset="0.3333" stop-color="#79fe59"/><stop offset="0.4167" stop-color="#84ff51"/><stop offset="0.5" stop-color="#92ff47"/><stop offset="0.5833" stop-color="#9cfe40"/><stop offset="0.6667" stop-color="#a4fc3c"/><stop offset="0.75" stop-color="#affa37"/><stop offset="0.8333" stop-color="#b7f735"/><stop offset="0.9167" stop-color="#bcf534"/><stop offset="1" stop-color="#c3f134"/></linearGradient>
<linearGradient id="g136"><stop offset="0" stop-color="#43f787"/><stop offset="0.08333" stop-color="#4ef97d"/><stop offset="0.1667" stop-color="#59fb73"/><stop offset="0.25" stop-color="#69fd66"/><stop offset="0.3333" stop-color="#75fe5c"/><stop offset="0.4167" stop-color="#80ff53"/><stop offset="0.5" stop-color="#8fff49"/><stop offset="0.5833" stop-color="#99fe42"/><stop offset="0.6667" stop-color="#a4fc3c"/><stop offset="0.75" stop-color="#acfb38"/><stop offset="0.8333" stop-color="#b4f836"/><stop offset="0.9167" stop-color="#bcf534"/><stop offset="1" stop-color="#c1f334"/></linearGradient>
<linearGradient id="g137"><stop offset="0" stop-color="#43f787"/><stop offset="0.08333" stop-color="#4ef97d"/><stop offset="0.1667" stop-color="#59fb73"/><stop offset="0.25" stop-color="#65fd69"/><stop offset="0.3333" stop-color="#71fe5f"/><stop offset="0.4167" stop-color="#80ff53"/><stop offset="0.5" stop-color="#8bff4b"/><stop offset="0.5833" stop-color="#99fe42"/><stop offset="0.6667" stop-color="#a1fd3d"/><stop offset="0.75" stop-color="#a9fb39"/><stop offset="0.8333" stop-color="#b1f936"/><stop offset="0.9167" stop-color="#b9f635"/><stop offset="1" stop-color="#bef434"/></linearGradient>
<linearGradient id="g138"><stop offset="0" stop-color="#3ff68a"/><stop offset="0.08333" stop-color="#4af880"/><stop offset="0.1667" stop-color="#55fa76"/><stop offset="0.25" stop-color="#61fc6c"/><stop offset="0.3333" stop-color="#71fe5f"/><stop offset="0.4167" stop-color="#7dff56"/><stop offset="0.5" stop-color="#88ff4e"/><stop offset="0.5833" stop-color="#96fe44"/><stop offset="0.6667" stop-color="#9ffd3f"/><stop offset="0.75" stop-color="#a7fc3a"/><stop offset="0.8333" stop-color="#affa37"/><stop offset="0.9167" stop-color="#b7f735"/><stop offset="1" stop-color="#bcf534"/></linearGradient>
<linearGradient id="g139"><stop offset="0" stop-color="#3cf58e"/><stop offset="0.08333" stop-color="#46f884"/><stop offset="0.1667" stop-color="#52fa7a"/><stop offset="0.25" stop-color="#5dfc6f"/><stop offset="0.3333" stop-color="#6dfe62"/><stop offset="0.4167" stop-color="#79fe59"/><stop offset="0.5" stop-color="#88ff4e"/><stop offset="0.5833" stop-color="#92ff47"/><stop offset="0.6667" stop-color="#9cfe40"/><stop offset="0.75" stop-color="#a7fc3a"/><stop offset="0.8333" stop-color="#affa37"/><stop offset="0.9167" stop-color="#b4f836"/><stop offset="1" stop-color="#bcf534"/></linearGradient>
<linearGradient id="g140"><stop offset="0" stop-color="#38f491"/><stop offset="0.08333" stop-color="#43f787"/><stop offset="0.1667" stop-color="#4ef97d"/><stop offset="0.25" stop-color="#5dfc6f"/><stop offset="0.3333" stop-color="#69fd66"/><stop offset="0.4167" stop-color="#79fe59"/><stop offset="0.5" stop-color="#84ff51"/><stop offset="0.5833" stop-color="#8fff49"/><stop offset="0.6667" stop-color="#9cfe40"/><stop offset="0.75" stop-color="#a4fc3c"/><stop offset="0.8333" stop-color="#acfb38"/><stop offset="0.9167" stop-color="#b1f936"/><stop offset="1" stop-color="#b9f635"/></linearGradient>
<linearGradient id="g141"><stop offset="0" stop-color="#38f491"/><stop offset="0.08333" stop-color="#43f787"/><stop offset="0.1667" stop-color="#4ef97d"/><stop offset="0.25" stop-color="#59fb73"/><stop offset="0.3333" stop-color="#65fd69"/><stop offset="0.4167" stop-color="#75fe5c"/><stop offset="0.5" stop-color="#80ff53"/><stop offset="0.5833" stop-color="#8fff49"/><stop offset="0.6667" stop-color="#99fe42"/><stop offset="0.75" stop-color="#a1fd3d"/><stop offset="0.8333" stop-color="#a9fb39"/><stop offset="0.9167" stop-color="#b1f936"/><stop offset="1" stop-color="#b7f735"/></linearGradient>
<linearGradient id="g142"><stop offset="0" stop-color="#35f394"/><stop offset="0.08333" stop-color="#3ff68a"/><stop offset="0.1667" stop-color="#4af880"/><stop offset="0.25" stop-color="#55fa76"/><stop offset="0.3333" stop-color="#65fd69"/><stop offset="0.4167" stop-color="#71fe5f"/><stop offset="0.5" stop-color="#80ff53"/><stop offset="0.5833" stop-color="#8bff4b"/><stop offset="0.6667" stop-color="#96fe44"/><stop offset="0.75" stop-color="#9ffd3f"/><stop offset="0.8333" stop-color="#a7fc3a"/><stop offset="0.9167" stop-color="#affa37"/><stop offset="1" stop-color="#b4f836"/></linearGradient>
<linearGradient id="g143"><stop offset="0" stop-color="#32f298"/><stop offset="0.08333" stop-color="#3cf58e"/><stop offset="0.1667" stop-color="#46f884"/><stop offset="0.25" stop-color="#52fa7a"/><stop offset="0.3333" stop-color="#61fc6c"/><stop offset="0.4167" stop-color="#6dfe62"/><stop offset="0.5" stop-color="#7dff56"/><stop offset="0.5833" stop-color="#88ff4e"/><stop offset="0.6667" stop-color="#92ff47"/><stop offset="0.75" stop-color="#9ffd3f"/><stop offset="0.8333" stop-color="#a7fc3a"/><stop offset="0.9167" stop-color="#acfb38"/><stop offset="1" stop-color="#b1f936"/></linearGradient>
<linearGradient id="g144"><stop offset="0" stop-color="#2ff19b"/><stop offset="0.08333" stop-color="#38f491"/><stop offset="0.1667" stop-color="#43f787"/><stop offset="0.25" stop-color="#52fa7a"/><stop offset="0.3333" stop-color="#5dfc6f"/><stop offset="0.4167" stop-color="#6dfe62"/><stop offset="0.5" stop-color="#79fe59"/><stop offset="0.5833" stop-color="#84ff51"/><stop offset="0.6667" stop-color="#92ff47"/><stop offset="0.75" stop-color="#9cfe40"/><stop offset="0.8333" stop-color="#a4fc3c"/><stop offset="0.9167" stop-color="#a9fb39"/><stop offset="1" stop-color="#b1f936"/></linearGradient>
<linearGradient id="g145"><stop offset="0" stop-color="#2ff19b"/><stop offset="0.08333" stop-color="#38f491"/><stop offset="0.1667" stop-color="#43f787"/><stop offset="0.25" stop-color="#4ef97d"/><stop offset="0.3333" stop-color="#59fb73"/><stop offset="0.4167" stop-color="#69fd66"/><stop offset="0.5" stop-color="#75fe5c"/><stop offset="0.5833" stop-color="#84ff51"/><stop offset="0.6667" stop-color="#8fff49"/><stop offset="0.75" stop-color="#99fe42"/><stop offset="0.8333" stop-color="#a1fd3d"/><stop offset="0.9167" stop-color="#a9fb39"/><stop offset="1" stop-color="#affa37"/></linearGradient>
<linearGradient id="g146"><stop offset="0" stop-color="#2cf09e"/><stop offset="0.08333" stop-color="#35f394"/><stop offset="0.1667" stop-color="#3ff68a"/><stop offset="0.25" stop-color="#4af880"/><stop offset="0.3333" stop-color="#59fb73"/><stop offset="0.4167" stop-color="#65fd69"/><stop offset="0.5" stop-color="#75fe5c"/><stop offset="0.5833" stop-color="#80ff53"/><stop offset="0.6667" stop-color="#8bff4b"/><stop offset="0.75" stop-color="#96fe44"/><stop offset="0.8333" stop-color="#9ffd3f"/><stop offset="0.9167" stop-color="#a7fc3a"/><stop offset="1" stop-color="#acfb38"/></linearGradient>
<linearGradient id="g147"><stop offset="0" stop-color="#2aefa1"/><stop offset="0.08333" stop-color="#32f298"/><stop offset="0.1667" stop-color="#3cf58e"/><stop offset="0.25" stop-color="#4af880"/><stop offset="0.3333" stop-color="#55fa76"/><stop offset="0.4167" stop-color="#61fc6c"/><stop offset="0.5" stop-color="#71fe5f"/><stop offset="0.5833" stop-color="#7dff56"/><stop offset="0.6667" stop-color="#8bff4b"/><stop offset="0.75" stop-color="#96fe44"/><stop offset="0.8333" stop-color="#9cfe40"/><stop offset="0.9167" stop-color="#a4fc3c"/><stop offset="1" stop-color="#a9fb39"/></linearGradient>
<linearGradient id="g148"><stop offset="0" stop-color="#27eea4"/><stop offset="0.08333" stop-color="#2ff19b"/><stop offset="0.1667" stop-color="#38f491"/><stop offset="0.25" stop-color="#46f884"/><stop offset="0.3333" stop-color="#52fa7a"/><stop offset="0.4167" stop-color="#61fc6c"/><stop offset="0.5" stop-color="#6dfe62"/><stop offset="0.5833" stop-color="#7dff56"/><stop offset="0.6667" stop-color="#88ff4e"/><stop offset="0.75" stop-color="#92ff47"/><stop offset="0.8333" stop-color="#9cfe40"/><stop offset="0.9167" stop-color="#a1fd3d"/><stop offset="1" stop-color="#a7fc3a"/></linearGradient>
<linearGradient id="g149"><stop offset="0" stop-color="#27eea4"/><stop offset="0.08333" stop-color="#2ff19b"/><stop offset="0.1667" stop-color="#38f491"/><stop offset="0.25" stop-color="#43f787"/><stop offset="0.3333" stop-color="#52fa7a"/><stop offset="0.4167" stop-color="#5dfc6f"/><stop offset="0.5" stop-color="#69fd66"/><stop offset="0.5833" stop-color="#79fe59"/><stop offset="0.6667" stop-color="#84ff51"/><stop offset="0.75" stop-color="#8fff49"/><stop offset="0.8333" stop-color="#99fe42"/><stop offset="0.9167" stop-color="#9ffd3f"/><stop offset="1" stop-color="#a7fc3a"/></linearGradient>
<linearGradient id="g150"><stop offset="0" stop-color="#25eca7"/><stop offset="0.08333" stop-color="#2cf09e"/><stop offset="0.1667" stop-color="#35f394"/><stop offset="0.25" stop-color="#3ff68a"/><stop offset="0.3333" stop-color="#4ef97d"/><stop offset="0.4167" stop-color="#59fb73"/><stop offset="0.5" stop-color="#69fd66"/><stop offset="0.5833" stop-color="#75fe5c"/><stop offset="0.6667" stop-color="#80ff53"/><stop offset="0.75" stop-color="#8bff4b"/><stop offset="0.8333" stop-color="#96fe44"/><stop offset="0.9167" stop-color="#9ffd3f"/><stop offset="1" stop-color="#a4fc3c"/></linearGradient>
<linearGradient id="g151"><stop offset="0" stop-color="#22ebaa"/><stop offset="0.08333" stop-color="#2aefa1"/><stop offset="0.1667" stop-color="#32f298"/><stop offset="0.25" stop-color="#3ff68a"/><stop offset="0.3333" stop-color="#4af880"/><stop offset="0.4167" stop-color="#59fb73"/><stop offset="0.5" stop-color="#65fd69"/><stop offset="0.5833" stop-color="#71fe5f"/><stop offset="0.6667" stop-color="#80ff53"/><stop offset="0.75" stop-color="#8bff4b"/><stop offset="0.8333" stop-color="#92ff47"/><stop offset="0.9167" stop-color="#9cfe40"/><stop offset="1" stop-color="#a1fd3d"/></linearGradient>
<linearGradient id="g152"><stop offset="0" stop-color="#20eaac"/><stop offset="0.08333" stop-color="#27eea4"/><stop offset="0.1667" stop-color="#32f298"/><stop offset="0.25" stop-color="#3cf58e"/><stop offset="0.3333" stop-color="#46f884"/><stop offset="0.4167" stop-color="#55fa76"/><stop offset="0.5" stop-color="#61fc6c"/><stop offset="0.5833" stop-color="#71fe5f"/><stop offset="0.6667" stop-color="#7dff56"/><stop offset="0.75" stop-color="#88ff4e"/><stop offset="0.8333" stop-color="#92ff47"/><stop offset="0.9167" stop-color="#99fe42"/><stop offset="1" stop-color="#9ffd3f"/></linearGradient>
<linearGradient id="g153"><stop offset="0" stop-color="#20eaac"/><stop offset="0.08333" stop-color="#27eea4"/><stop offset="0.1667" stop-color="#2ff19b"/><stop offset="0.25" stop-color="#38f491"/><stop offset="0.3333" stop-color="#46f884"/><stop offset="0.4167" stop-color="#52fa7a"/><stop offset="0.5" stop-color="#5dfc6f"/><stop offset="0.5833" stop-color="#6dfe62"/><stop offset="0.6667" stop-color="#79fe59"/><stop offset="0.75" stop-color="#84ff51"/><stop offset="0.8333" stop-color="#8fff49"/><stop offset="0.9167" stop-color="#96fe44"/><stop offset="1" stop-color="#9cfe40"/></linearGradient>
<linearGradient id="g154"><stop offset="0" stop-color="#1fe9af"/><stop offset="0.08333" stop-color="#25eca7"/><stop offset="0.1667" stop-color="#2cf09e"/><stop offset="0.25" stop-color="#35f394"/><stop offset="0.3333" stop-color="#43f787"/><stop offset="0.4167" stop-color="#4ef97d"/><stop offset="0.5" stop-color="#5dfc6f"/><stop offset="0.5833" stop-color="#69fd66"/><stop offset="0.6667" stop-color="#75fe5c"/><stop offset="0.75" stop-color="#80ff53"/><stop offset="0.8333" stop-color="#8bff4b"/><stop offset="0.9167" stop-color="#96fe44"/><stop offset="1" stop-color="#9cfe40"/></linearGradient>
<linearGradient id="g155"><stop offset="0" stop-color="#1de7b2"/><stop offset="0.08333" stop-color="#22ebaa"/><stop offset="0.1667" stop-color="#2aefa1"/><stop offset="0.25" stop-color="#35f394"/><stop offset="0.3333" stop-color="#3ff68a"/><stop offset="0.4167" stop-color="#4ef97d"/><stop offset="0.5" stop-color="#59fb73"/><stop offset="0.5833" stop-color="#65fd69"/><stop offset="0.6667" stop-color="#75fe5c"/><stop offset="0.75" stop-color="#80ff53"/><stop offset="0.8333" stop-color="#88ff4e"/><stop offset="0.9167" stop-color="#92ff47"/><stop offset="1" stop-color="#99fe42"/></linearGradient>
<linearGradient id="g156"><stop offset="0" stop-color="#1ce6b4"/><stop offset="0.08333" stop-color="#20eaac"/><stop offset="0.1667" stop-color="#2aefa1"/><stop offset="0.25" stop-color="#32f298"/><stop offset="0.3333" stop-color="#3cf58e"/><stop offset="0.4167" stop-color="#4af880"/><stop offset="0.5" stop-color="#55fa76"/><stop offset="0.5833" stop-color="#65fd69"/><stop offset="0.6667" stop-color="#71fe5f"/><stop offset="0.75" stop-color="#7dff56"/><stop offset="0.8333" stop-color="#88ff4e"/><stop offset="0.9167" stop-color="#8fff49"/><stop offset="1" stop-color="#96fe44"/></linearGradient>
<linearGradient id="g157"><stop offset="0" stop-color="#1ae4b6"/><stop offset="0.08333" stop-color="#20eaac"/><stop offset="0.1667" stop-color="#27eea4"/><stop offset="0.25" stop-color="#2ff19b"/><stop offset="0.3333" stop-color="#3cf58e"/><stop offset="0.4167" stop-color="#46f884"/><stop offset="0.5" stop-color="#55fa76"/><stop offset="0.5833" stop-color="#61fc6c"/><stop offset="0.6667" stop-color="#6dfe62"/><stop offset="0.75" stop-color="#79fe59"/><stop offset="0.8333" stop-color="#84ff51"/><stop offset="0.9167" stop-color="#8bff4b"/><stop offset="1" stop-color="#92ff47"/></linearGradient>
<linearGradient id="g158"><stop offset="0" stop-color="#1ae4b6"/><stop offset="0.08333" stop-color="#1fe9af"/><stop offset="0.1667" stop-color="#25eca7"/><stop offset="0.25" stop-color="#2cf09e"/><stop offset="0.3333" stop-color="#38f491"/><stop offset="0.4167" stop-color="#43f787"/><stop offset="0.5" stop-color="#52fa7a"/><stop offset="0.5833" stop-color="#5dfc6f"/><stop offset="0.6667" stop-color="#69fd66"/><stop offset="0.75" stop-color="#75fe5c"/><stop offset="0.8333" stop-color="#80ff53"/><stop offset="0.9167" stop-color="#88ff4e"/><stop offset="1" stop-color="#8fff49"/></linearGradient>
<linearGradient id="g159"><stop offset="0" stop-color="#19e3b9"/><stop offset="0.08333" stop-color="#1de7b2"/><stop offset="0.1667" stop-color="#22ebaa"/><stop offset="0.25" stop-color="#2cf09e"/><stop offset="0.3333" stop-color="#35f394"/><stop offset="0.4167" stop-color="#43f787"/><stop offset="0.5" stop-color="#4ef97d"/><stop offset="0.5833" stop-color="#59fb73"/><stop offset="0.6667" stop-color="#69fd66"/><stop offset="0.75" stop-color="#75fe5c"/><stop offset="0.8333" stop-color="#7dff56"/><stop offset="0.9167" stop-color="#88ff4e"/><stop offset="1" stop-color="#8fff49"/></linearGradient>
<linearGradient id="g160"><stop offset="0" stop-color="#19e2bb"/><stop offset="0.08333" stop-color="#1ce6b4"/><stop offset="0.1667" stop-color="#22ebaa"/><stop offset="0.25" stop-color="#2aefa1"/><stop offset="0.3333" stop-color="#32f298"/><stop offset="0.4167" stop-color="#3ff68a"/><stop offset="0.5" stop-color="#4af880"/><stop offset="0.5833" stop-color="#59fb73"/><stop offset="0.6667" stop-color="#65fd69"/><stop offset="0.75" stop-color="#71fe5f"/><stop offset="0.8333" stop-color="#7dff56"/><stop offset="0.9167" stop-color="#84ff51"/><stop offset="1" stop-color="#8bff4b"/></linearGradient>
<linearGradient id="g161"><stop offset="0" stop-color="#18e0bd"/><stop offset="0.08333" stop-color="#1ce6b4"/><stop offset="0.1667" stop-color="#20eaac"/><stop offset="0.25" stop-color="#27eea4"/><stop offset="0.3333" stop-color="#32f298"/><stop offset="0.4167" stop-color="#3cf58e"/><stop offset="0.5" stop-color="#4af880"/><stop offset="0.5833" stop-color="#55fa76"/><stop offset="0.6667" stop-color="#61fc6c"/><stop offset="0.75" stop-color="#6dfe62"/><stop offset="0.8333" stop-color="#79fe59"/><stop offset="0.9167" stop-color="#80ff53"/><stop offset="1" stop-color="#88ff4e"/></linearGradient>
<linearGradient id="g162"><stop offset="0" stop-color="#18e0bd"/><stop offset="0.08333" stop-color="#1ae4b6"/><stop offset="0.1667" stop-color="#1fe9af"/><stop offset="0.25" stop-color="#25eca7"/><stop offset="0.3333" stop-color="#2ff19b"/><stop offset="0.4167" stop-color="#38f491"/><stop offset="0.5" stop-color="#46f884"/><stop offset="0.5833" stop-color="#52fa7a"/><stop offset="0.6667" stop-color="#5dfc6f"/><stop offset="0.75" stop-color="#69fd66"/><stop offset="0.8333" stop-color="#75fe5c"/><stop offset="0.9167" stop-color="#7dff56"/><stop offset="1" stop-color="#84ff51"/></linearGradient>
<linearGradient id="g163"><stop offset="0" stop-color="#18dec0"/><stop offset="0.08333" stop-color="#19e3b9"/><stop offset="0.1667" stop-color="#1de7b2"/><stop offset="0.25" stop-color="#25eca7"/><stop offset="0.3333" stop-color="#2cf09e"/><stop offset="0.4167" stop-color="#38f491"/><stop offset="0.5" stop-color="#43f787"/><stop offset="0.5833" stop-color="#4ef97d"/><stop offset="0.6667" stop-color="#5dfc6f"/><stop offset="0.75" stop-color="#69fd66"/><stop offset="0.8333" stop-color="#71fe5f"/><stop offset="0.9167" stop-color="#79fe59"/><stop offset="1" stop-color="#80ff53"/></linearGradient>
<linearGradient id="g164"><stop offset="0" stop-color="#18ddc2"/><stop offset="0.08333" stop-color="#19e2bb"/><stop offset="0.1667" stop-color="#1de7b2"/><stop offset="0.25" stop-color="#22ebaa"/><stop offset="0.3333" stop-color="#2aefa1"/><stop offset="0.4167" stop-color="#35f394"/><stop offset="0.5" stop-color="#3ff68a"/><stop offset="0.5833" stop-color="#4ef97d"/><stop offset="0.6667" stop-color="#59fb73"/><stop offset="0.75" stop-color="#65fd69"/><stop offset="0.8333" stop-color="#6dfe62"/><stop offset="0.9167" stop-color="#79fe59"/><stop offset="1" stop-color="#80ff53"/></linearGradient>
<linearGradient id="g165"><stop offset="0" stop-color="#18dbc5"/><stop offset="0.08333" stop-color="#19e2bb"/><stop offset="0.1667" stop-color="#1ce6b4"/><stop offset="0.25" stop-color="#20eaac"/><stop offset="0.3333" stop-color="#2aefa1"/><stop offset="0.4167" stop-color="#32f298"/><stop offset="0.5" stop-color="#3ff68a"/><stop offset="0.5833" stop-color="#4af880"/><stop offset="0.6667" stop-color="#55fa76"/><stop offset="0.75" stop-color="#61fc6c"/><stop offset="0.8333" stop-color="#6dfe62"/><stop offset="0.9167" stop-color="#75fe5c"/><stop offset="1" stop-color="#7dff56"/></linearGradient>
<linearGradient id="g166"><stop offset="0" stop-color="#18dbc5"/><stop offset="0.08333" stop-color="#18e0bd"/><stop offset="0.1667" stop-color="#1ae4b6"/><stop offset="0.25" stop-color="#1fe9af"/><stop offset="0.3333" stop-color="#27eea4"/><stop offset="0.4167" stop-color="#2ff19b"/><stop offset="0.5" stop-color="#3cf58e"/><stop offset="0.5833" stop-color="#46f884"/><stop offset="0.6667" stop-color="#52fa7a"/><stop offset="0.75" stop-color="#5dfc6f"/><stop offset="0.8333" stop-color="#69fd66"/><stop offset="0.9167" stop-color="#71fe5f"/><stop offset="1" stop-color="#79fe59"/></linearGradient>
<linearGradient id="g167"><stop offset="0" stop-color="#18d9c8"/><stop offset="0.08333" stop-color="#18dec0"/><stop offset="0.1667" stop-color="#19e3b9"/><stop offset="0.25" stop-color="#1fe9af"/><stop offset="0.3333" stop-color="#25eca7"/><stop offset="0.4167" stop-color="#2ff19b"/><stop offset="0.5" stop-color="#38f491"/><stop offset="0.5833" stop-color="#43f787"/><stop offset="0.6667" stop-color="#52fa7a"/><stop offset="0.75" stop-color="#59fb73"/><stop offset="0.8333" stop-color="#65fd69"/><stop offset="0.9167" stop-color="#6dfe62"/><stop offset="1" stop-color="#75fe5c"/></linearGradient>
<linearGradient id="g168"><stop offset="0" stop-color="#18d7ca"/><stop offset="0.08333" stop-color="#18ddc2"/><stop offset="0.1667" stop-color="#19e3b9"/><stop offset="0.25" stop-color="#1de7b2"/><stop offset="0.3333" stop-color="#22ebaa"/><stop offset="0.4167" stop-color="#2cf09e"/><stop offset="0.5" stop-color="#35f394"/><stop offset="0.5833" stop-color="#43f787"/><stop offset="0.6667" stop-color="#4ef97d"/><stop offset="0.75" stop-color="#59fb73"/><stop offset="0.8333" stop-color="#61fc6c"/><stop offset="0.9167" stop-color="#6dfe62"/><stop offset="1" stop-color="#71fe5f"/></linearGradient>
<linearGradient id="g169"><stop offset="0" stop-color="#19d5cd"/><stop offset="0.08333" stop-color="#18dbc5"/><stop offset="0.1667" stop-color="#19e2bb"/><stop offset="0.25" stop-color="#1ce6b4"/><stop offset="0.3333" stop-color="#22ebaa"/><stop offset="0.4167" stop-color="#2aefa1"/><stop offset="0.5" stop-color="#35f394"/><stop offset="0.5833" stop-color="#3ff68a"/><stop offset="0.6667" stop-color="#4af880"/><stop offset="0.75" stop-color="#55fa76"/><stop offset="0.8333" stop-color="#5dfc6f"/><stop offset="0.9167" stop-color="#69fd66"/><stop offset="1" stop-color="#71fe5f"/></linearGradient>
<linearGradient id="g170"><stop offset="0" stop-color="#19d5cd"/><stop offset="0.08333" stop-color="#18dbc5"/><stop offset="0.1667" stop-color="#18e0bd"/><stop offset="0.25" stop-color="#1ae4b6"/><stop offset="0.3333" stop-color="#20eaac"/><stop offset="0.4167" stop-color="#27eea4"/><stop offset="0.5" stop-color="#32f298"/><stop offset="0.5833" stop-color="#3cf58e"/><stop offset="0.6667" stop-color="#46f884"/><stop offset="0.75" stop-color="#52fa7a"/><stop offset="0.8333" stop-color="#5dfc6f"/><stop offset="0.9167" stop-color="#65fd69"/><stop offset="1" stop-color="#6dfe62"/></linearGradient>
<linearGradient id="g171"><stop offset="0" stop-color="#1ad4d0"/><stop offset="0.08333" stop-color="#18d9c8"/><stop offset="0.1667" stop-color="#18dec0"/><stop offset="0.25" stop-color="#1ae4b6"/><stop offset="0.3333" stop-color="#1fe9af"/><stop offset="0.4167" stop-color="#27eea4"/><stop offset="0.5" stop-color="#2ff19b"/><stop offset="0.5833" stop-color="#38f491"/><stop offset="0.6667" stop-color="#43f787"/><stop offset="0.75" stop-color="#4ef97d"/><stop offset="0.8333" stop-color="#59fb73"/><stop offset="0.9167" stop-color="#61fc6c"/><stop offset="1" stop-color="#69fd66"/></linearGradient>
<linearGradient id="g172"><stop offset="0" stop-color="#1ad2d2"/><stop offset="0.08333" stop-color="#18d7ca"/><stop offset="0.1667" stop-color="#18ddc2"/><stop offset="0.25" stop-color="#19e3b9"/><stop offset="0.3333" stop-color="#1de7b2"/><stop offset="0.4167" stop-color="#25eca7"/><stop offset="0.5" stop-color="#2cf09e"/><stop offset="0.5833" stop-color="#38f491"/><stop offset="0.6667" stop-color="#43f787"/><stop offset="0.75" stop-color="#4ef97d"/><stop offset="0.8333" stop-color="#55fa76"/><stop offset="0.9167" stop-color="#5dfc6f"/><stop offset="1" stop-color="#65fd69"/></linearGradient>
<linearGradient id="g173"><stop offset="0" stop-color="#1bd0d5"/><stop offset="0.08333" stop-color="#19d5cd"/><stop offset="0.1667" stop-color="#18ddc2"/><stop offset="0.25" stop-color="#19e2bb"/><stop offset="0.3333" stop-color="#1de7b2"/><stop offset="0.4167" stop-color="#22ebaa"/><stop offset="0.5" stop-color="#2cf09e"/><stop offset="0.5833" stop-color="#35f394"/><stop offset="0.6667" stop-color="#3ff68a"/><stop offset="0.75" stop-color="#4af880"/><stop offset="0.8333" stop-color="#52fa7a"/><stop offset="0.9167" stop-color="#59fb73"/><stop offset="1" stop-color="#61fc6c"/></linearGradient>
<linearGradient id="g174"><stop offset="0" stop-color="#1bd0d5"/><stop offset="0.08333" stop-color="#19d5cd"/><stop offset="0.1667" stop-color="#18dbc5"/><stop offset="0.25" stop-color="#18e0bd"/><stop offset="0.3333" stop-color="#1ce6b4"/><stop offset="0.4167" stop-color="#20eaac"/><stop offset="0.5" stop-color="#2aefa1"/><stop offset="0.5833" stop-color="#32f298"/><stop offset="0.6667" stop-color="#3cf58e"/><stop offset="0.75" stop-color="#46f884"/><stop offset="0.8333" stop-color="#52fa7a"/><stop offset="0.9167" stop-color="#59fb73"/><stop offset="1" stop-color="#5dfc6f"/></linearGradient>
<linearGradient id="g175"><stop offset="0" stop-color="#1ccdd8"/><stop offset="0.08333" stop-color="#1ad4d0"/><stop offset="0.1667" stop-color="#18d9c8"/><stop offset="0.25" stop-color="#18e0bd"/><stop offset="0.3333" stop-color="#1ae4b6"/><stop offset="0.4167" stop-color="#20eaac"/><stop offset="0.5" stop-color="#27eea4"/><stop offset="0.5833" stop-color="#2ff19b"/><stop offset="0.6667" stop-color="#38f491"/><stop offset="0.75" stop-color="#43f787"/><stop offset="0.8333" stop-color="#4ef97d"/><stop offset="0.9167" stop-color="#55fa76"/><stop offset="1" stop-color="#5dfc6f"/></linearGradient>
<linearGradient id="g176"><stop offset="0" stop-color="#1ecbda"/><stop offset="0.08333" stop-color="#1ad2d2"/><stop offset="0.1667" stop-color="#18d7ca"/><stop offset="0.25" stop-color="#18dec0"/><stop offset="0.3333" stop-color="#19e3b9"/><stop offset="0.4167" stop-color="#1fe9af"/><stop offset="0.5" stop-color="#25eca7"/><stop offset="0.5833" stop-color="#2cf09e"/><stop offset="0.6667" stop-color="#38f491"/><stop offset="0.75" stop-color="#3ff68a"/><stop offset="0.8333" stop-color="#4af880"/><stop offset="0.9167" stop-color="#52fa7a"/><stop offset="1" stop-color="#59fb73"/></linearGradient>
<linearGradient id="g177"><stop offset="0" stop-color="#1fc9dd"/><stop offset="0.08333" stop-color="#1bd0d5"/><stop offset="0.1667" stop-color="#18d7ca"/><stop offset="0.25" stop-color="#18ddc2"/><stop offset="0.3333" stop-color="#19e3b9"/><stop offset="0.4167" stop-color="#1de7b2"/><stop offset="0.5" stop-color="#22ebaa"/><stop offset="0.5833" stop-color="#2cf09e"/><stop offset="0.6667" stop-color="#35f394"/><stop offset="0.75" stop-color="#3ff68a"/><stop offset="0.8333" stop-color="#46f884"/><stop offset="0.9167" stop-color="#4ef97d"/><stop offset="1" stop-color="#55fa76"/></linearGradient>
<linearGradient id="g178"><stop offset="0" stop-color="#20c7df"/><stop offset="0.08333" stop-color="#1bd0d5"/><stop offset="0.1667" stop-color="#19d5cd"/><stop offset="0.25" stop-color="#18dbc5"/><stop offset="0.3333" stop-color="#19e2bb"/><stop offset="0.4167" stop-color="#1ce6b4"/><stop offset="0.5" stop-color="#22ebaa"/><stop offset="0.5833" stop-color="#2aefa1"/><stop offset="0.6667" stop-color="#32f298"/><stop offset="0.75" stop-color="#3cf58e"/><stop offset="0.8333" stop-color="#43f787"/><stop offset="0.9167" stop-color="#4af880"/><stop offset="1" stop-color="#52fa7a"/></linearGradient>
<linearGradient id="g179"><stop offset="0" stop-color="#20c7df"/><stop offset="0.08333" stop-color="#1ccdd8"/><stop offset="0.1667" stop-color="#1ad4d0"/><stop offset="0.25" stop-color="#18d9c8"/><stop offset="0.3333" stop-color="#18e0bd"/><stop offset="0.4167" stop-color="#1ae4b6"/><stop offset="0.5" stop-color="#20eaac"/><stop offset="0.5833" stop-color="#27eea4"/><stop offset="0.6667" stop-color="#2ff19b"/><stop offset="0.75" stop-color="#38f491"/><stop offset="0.8333" stop-color="#43f787"/><stop offset="0.9167" stop-color="#4af880"/><stop offset="1" stop-color="#4ef97d"/></linearGradient>
<linearGradient id="g180"><stop offset="0" stop-color="#22c5e2"/><stop offset="0.08333" stop-color="#1ecbda"/><stop offset="0.1667" stop-color="#1ad2d2"/><stop offset="0.25" stop-color="#18d9c8"/><stop offset="0.3333" stop-color="#18dec0"/><stop offset="0.4167" stop-color="#1ae4b6"/><stop offset="0.5" stop-color="#1fe9af"/><stop offset="0.5833" stop-color="#25eca7"/><stop offset="0.6667" stop-color="#2cf09e"/><stop offset="0.75" stop-color="#35f394"/><stop offset="0.8333" stop-color="#3ff68a"/><stop offset="0.9167" stop-color="#46f884"/><stop offset="1" stop-color="#4af880"/></linearGradient>
<linearGradient id="g181"><stop offset="0" stop-color="#23c3e4"/><stop offset="0.08333" stop-color="#1fc9dd"/><stop offset="0.1667" stop-color="#1ad2d2"/><stop offset="0.25" stop-color="#18d7ca"/><stop offset="0.3333" stop-color="#18ddc2"/><stop offset="0.4167" stop-color="#19e3b9"/><stop offset="0.5" stop-color="#1de7b2"/><stop offset="0.5833" stop-color="#25eca7"/><stop offset="0.6667" stop-color="#2cf09e"/><stop offset="0.75" stop-color="#32f298"/><stop offset="0.8333" stop-color="#3cf58e"/><stop offset="0.9167" stop-color="#43f787"/><stop offset="1" stop-color="#4af880"/></linearGradient>
<linearGradient id="g182"><stop offset="0" stop-color="#25c0e7"/><stop offset="0.08333" stop-color="#20c7df"/><stop offset="0.1667" stop-color="#1bd0d5"/><stop offset="0.25" stop-color="#19d5cd"/><stop offset="0.3333" stop-color="#18ddc2"/><stop offset="0.4167" stop-color="#19e2bb"/><stop offset="0.5" stop-color="#1de7b2"/><stop offset="0.5833" stop-color="#22ebaa"/><stop offset="0.6667" stop-color="#2aefa1"/><stop offset="0.75" stop-color="#32f298"/><stop offset="0.8333" stop-color="#38f491"/><stop offset="0.9167" stop-color="#3ff68a"/><stop offset="1" stop-color="#46f884"/></linearGradient>
<linearGradient id="g183"><stop offset="0" stop-color="#25c0e7"/><stop offset="0.08333" stop-color="#20c7df"/><stop offset="0.1667" stop-color="#1ccdd8"/><stop offset="0.25" stop-color="#1ad4d0"/><stop offset="0.3333" stop-color="#18dbc5"/><stop offset="0.4167" stop-color="#18e0bd"/><stop offset="0.5" stop-color="#1ce6b4"/><stop offset="0.5833" stop-color="#20eaac"/><stop offset="0.6667" stop-color="#27eea4"/><stop offset="0.75" stop-color="#2ff19b"/><stop offset="0.8333" stop-color="#35f394"/><stop offset="0.9167" stop-color="#3cf58e"/><stop offset="1" stop-color="#43f787"/></linearGradient>
<linearGradient id="g184"><stop offset="0" stop-color="#27bee9"/><stop offset="0.08333" stop-color="#22c5e2"/><stop offset="0.1667" stop-color="#1ecbda"/><stop offset="0.25" stop-color="#1ad4d0"/><stop offset="0.3333" stop-color="#18d9c8"/><stop offset="0.4167" stop-color="#18e0bd"/><stop offset="0.5" stop-color="#1ae4b6"/><stop offset="0.5833" stop-color="#1fe9af"/><stop offset="0.6667" stop-color="#25eca7"/><stop offset="0.75" stop-color="#2cf09e"/><stop offset="0.8333" stop-color="#32f298"/><stop offset="0.9167" stop-color="#38f491"/><stop offset="1" stop-color="#3ff68a"/></linearGradient>
<linearGradient id="g185"><stop offset="0" stop-color="#28bceb"/><stop offset="0.08333" stop-color="#23c3e4"/><stop offset="0.1667" stop-color="#1fc9dd"/><stop offset="0.25" stop-color="#1ad2d2"/><stop offset="0.3333" stop-color="#18d7ca"/><stop offset="0.4167" stop-color="#18dec0"/><stop offset="0.5" stop-color="#19e3b9"/><stop offset="0.5833" stop-color="#1de7b2"/><stop offset="0.6667" stop-color="#22ebaa"/><stop offset="0.75" stop-color="#2aefa1"/><stop offset="0.8333" stop-color="#32f298"/><stop offset="0.9167" stop-color="#38f491"/><stop offset="1" stop-color="#3cf58e"/></linearGradient>
<linearGradient id="g186"><stop offset="0" stop-color="#2ab9ee"/><stop offset="0.08333" stop-color="#25c0e7"/><stop offset="0.1667" stop-color="#1fc9dd"/><stop offset="0.25" stop-color="#1bd0d5"/><stop offset="0.3333" stop-color="#19d5cd"/><stop offset="0.4167" stop-color="#18ddc2"/><stop offset="0.5" stop-color="#19e2bb"/><stop offset="0.5833" stop-color="#1de7b2"/><stop offset="0.6667" stop-color="#22ebaa"/><stop offset="0.75" stop-color="#27eea4"/><stop offset="0.8333" stop-color="#2ff19b"/><stop offset="0.9167" stop-color="#35f394"/><stop offset="1" stop-color="#38f491"/></linearGradient>
<linearGradient id="g187"><stop offset="0" stop-color="#2ab9ee"/><stop offset="0.08333" stop-color="#25c0e7"/><stop offset="0.1667" stop-color="#20c7df"/><stop offset="0.25" stop-color="#1ccdd8"/><stop offset="0.3333" stop-color="#19d5cd"/><stop offset="0.4167" stop-color="#18dbc5"/><stop offset="0.5" stop-color="#19e2bb"/><stop offset="0.5833" stop-color="#1ce6b4"/><stop offset="0.6667" stop-color="#20eaac"/><stop offset="0.75" stop-color="#27eea4"/><stop offset="0.8333" stop-color="#2cf09e"/><stop offset="0.9167" stop-color="#32f298"/><stop offset="1" stop-color="#35f394"/></linearGradient>
<linearGradient id="g188"><stop offset="0" stop-color="#2cb7f0"/><stop offset="0.08333" stop-color="#27bee9"/><stop offset="0.1667" stop-color="#22c5e2"/><stop offset="0.25" stop-color="#1ecbda"/><stop offset="0.3333" stop-color="#1ad4d0"/><stop offset="0.4167" stop-color="#18d9c8"/><stop offset="0.5" stop-color="#18e0bd"/><stop offset="0.5833" stop-color="#1ae4b6"/><stop offset="0.6667" stop-color="#1fe9af"/><stop offset="0.75" stop-color="#25eca7"/><stop offset="0.8333" stop-color="#2aefa1"/><stop offset="0.9167" stop-color="#2ff19b"/><stop offset="1" stop-color="#35f394"/></linearGradient>
<linearGradient id="g189"><stop offset="0" stop-color="#2eb4f2"/><stop offset="0.08333" stop-color="#28bceb"/><stop offset="0.1667" stop-color="#23c3e4"/><stop offset="0.25" stop-color="#1ecbda"/><stop offset="0.3333" stop-color="#1ad2d2"/><stop offset="0.4167" stop-color="#18d9c8"/><stop offset="0.5" stop-color="#18dec0"/><stop offset="0.5833" stop-color="#19e3b9"/><stop offset="0.6667" stop-color="#1de7b2"/><stop offset="0.75" stop-color="#22ebaa"/><stop offset="0.8333" stop-color="#27eea4"/><stop offset="0.9167" stop-color="#2cf09e"/><stop offset="1" stop-color="#32f298"/></linearGradient>
<linearGradient id="g190"><stop offset="0" stop-color="#2fb2f4"/><stop offset="0.08333" stop-color="#2ab9ee"/><stop offset="0.1667" stop-color="#25c0e7"/><stop offset="0.25" stop-color="#1fc9dd"/><stop offset="0.3333" stop-color="#1bd0d5"/><stop offset="0.4167" stop-color="#18d7ca"/><stop offset="0.5" stop-color="#18ddc2"/><stop offset="0.5833" stop-color="#19e2bb"/><stop offset="0.6667" stop-color="#1ce6b4"/><stop offset="0.75" stop-color="#20eaac"/><stop offset="0.8333" stop-color="#25eca7"/><stop offset="0.9167" stop-color="#2aefa1"/><stop offset="1" stop-color="#2ff19b"/></linearGradient>
<linearGradient id="g191"><stop offset="0" stop-color="#31aff5"/><stop offset="0.08333" stop-color="#2cb7f0"/><stop offset="0.1667" stop-color="#25c0e7"/><stop offset="0.25" stop-color="#20c7df"/><stop offset="0.3333" stop-color="#1ccdd8"/><stop offset="0.4167" stop-color="#19d5cd"/><stop offset="0.5" stop-color="#18dbc5"/><stop offset="0.5833" stop-color="#19e2bb"/><stop offset="0.6667" stop-color="#1ce6b4"/><stop offset="0.75" stop-color="#1fe9af"/><stop offset="0.8333" stop-color="#25eca7"/><stop offset="0.9167" stop-color="#2aefa1"/><stop offset="1" stop-color="#2cf09e"/></linearGradient>
<linearGradient id="g192"><stop offset="0" stop-color="#31aff5"/><stop offset="0.08333" stop-color="#2cb7f0"/><stop offset="0.1667" stop-color="#27bee9"/><stop offset="0.25" stop-color="#22c5e2"/><stop offset="0.3333" stop-color="#1ccdd8"/><stop offset="0.4167" stop-color="#1ad4d0"/><stop offset="0.5" stop-color="#18dbc5"/><stop offset="0.5833" stop-color="#18e0bd"/><stop offset="0.6667" stop-color="#1ae4b6"/><stop offset="0.75" stop-color="#1de7b2"/><stop offset="0.8333" stop-color="#22ebaa"/><stop offset="0.9167" stop-color="#27eea4"/><stop offset="1" stop-color="#2aefa1"/></linearGradient>
<linearGradient id="g193"><stop offset="0" stop-color="#33adf7"/><stop offset="0.08333" stop-color="#2eb4f2"/><stop offset="0.1667" stop-color="#28bceb"/><stop offset="0.25" stop-color="#23c3e4"/><stop offset="0.3333" stop-color="#1ecbda"/><stop offset="0.4167" stop-color="#1ad2d2"/><stop offset="0.5" stop-color="#18d9c8"/><stop offset="0.5833" stop-color="#18dec0"/><stop offset="0.6667" stop-color="#19e3b9"/><stop offset="0.75" stop-color="#1de7b2"/><stop offset="0.8333" stop-color="#20eaac"/><stop offset="0.9167" stop-color="#25eca7"/><stop offset="1" stop-color="#27eea4"/></linearGradient>
<linearGradient id="g194"><stop offset="0" stop-color="#35abf8"/><stop offset="0.08333" stop-color="#2fb2f4"/><stop offset="0.1667" stop-color="#2ab9ee"/><stop offset="0.25" stop-color="#23c3e4"/><stop offset="0.3333" stop-color="#1fc9dd"/><stop offset="0.4167" stop-color="#1ad2d2"/><stop offset="0.5" stop-color="#18d7ca"/><stop offset="0.5833" stop-color="#18ddc2"/><stop offset="0.6667" stop-color="#19e2bb"/><stop offset="0.75" stop-color="#1ce6b4"/><stop offset="0.8333" stop-color="#1fe9af"/><stop offset="0.9167" stop-color="#22ebaa"/><stop offset="1" stop-color="#25eca7"/></linearGradient>
<linearGradient id="g195"><stop offset="0" stop-color="#37a8fa"/><stop offset="0.08333" stop-color="#31aff5"/><stop offset="0.1667" stop-color="#2cb7f0"/><stop offset="0.25" stop-color="#25c0e7"/><stop offset="0.3333" stop-color="#20c7df"/><stop offset="0.4167" stop-color="#1bd0d5"/><stop offset="0.5" stop-color="#19d5cd"/><stop offset="0.5833" stop-color="#18dbc5"/><stop offset="0.6667" stop-color="#18e0bd"/><stop offset="0.75" stop-color="#1ae4b6"/><stop offset="0.8333" stop-color="#1de7b2"/><stop offset="0.9167" stop-color="#20eaac"/><stop offset="1" stop-color="#22ebaa"/></linearGradient>
<linearGradient id="g196"><stop offset="0" stop-color="#38a5fb"/><stop offset="0.08333" stop-color="#33adf7"/><stop offset="0.1667" stop-color="#2cb7f0"/><stop offset="0.25" stop-color="#27bee9"/><stop offset="0.3333" stop-color="#22c5e2"/><stop offset="0.4167" stop-color="#1ccdd8"/><stop offset="0.5" stop-color="#1ad4d0"/><stop offset="0.5833" stop-color="#18d9c8"/><stop offset="0.6667" stop-color="#18dec0"/><stop offset="0.75" stop-color="#19e3b9"/><stop offset="0.8333" stop-color="#1ce6b4"/><stop offset="0.9167" stop-color="#1fe9af"/><stop offset="1" stop-color="#22ebaa"/></linearGradient>
<linearGradient id="g197"><stop offset="0" stop-color="#38a5fb"/><stop offset="0.08333" stop-color="#33adf7"/><stop offset="0.1667" stop-color="#2eb4f2"/><stop offset="0.25" stop-color="#28bceb"/><stop offset="0.3333" stop-color="#22c5e2"/><stop offset="0.4167" stop-color="#1ecbda"/><stop offset="0.5" stop-color="#1ad2d2"/><stop offset="0.5833" stop-color="#18d9c8"/><stop offset="0.6667" stop-color="#18dec0"/><stop offset="0.75" stop-color="#19e2bb"/><stop offset="0.8333" stop-color="#1ce6b4"/><stop offset="0.9167" stop-color="#1de7b2"/><stop offset="1" stop-color="#20eaac"/></linearGradient>
<linearGradient id="g198"><stop offset="0" stop-color="#3aa3fc"/><stop offset="0.08333" stop-color="#35abf8"/><stop offset="0.1667" stop-color="#2fb2f4"/><stop offset="0.25" stop-color="#2ab9ee"/><stop offset="0.3333" stop-color="#23c3e4"/><stop offset="0.4167" stop-color="#1fc9dd"/><stop offset="0.5" stop-color="#1ad2d2"/><stop offset="0.5833" stop-color="#18d7ca"/><stop offset="0.6667" stop-color="#18ddc2"/><stop offset="0.75" stop-color="#18e0bd"/><stop offset="0.8333" stop-color="#1ae4b6"/><stop offset="0.9167" stop-color="#1de7b2"/><stop offset="1" stop-color="#1fe9af"/></linearGradient>
<linearGradient id="g199"><stop offset="0" stop-color="#3ba0fd"/><stop offset="0.08333" stop-color="#37a8fa"/><stop offset="0.1667" stop-color="#31aff5"/><stop offset="0.25" stop-color="#2ab9ee"/><stop offset="0.3333" stop-color="#25c0e7"/><stop offset="0.4167" stop-color="#20c7df"/><stop offset="0.5" stop-color="#1bd0d5"/><stop offset="0.5833" stop-color="#19d5cd"/><stop offset="0.6667" stop-color="#18dbc5"/><stop offset="0.75" stop-color="#18e0bd"/><stop offset="0.8333" stop-color="#19e3b9"/><stop offset="0.9167" stop-color="#1ce6b4"/><stop offset="1" stop-color="#1de7b2"/></linearGradient>
<linearGradient id="g200"><stop offset="0" stop-color="#3d9efe"/><stop offset="0.08333" stop-color="#38a5fb"/><stop offset="0.1667" stop-color="#33adf7"/><stop offset="0.25" stop-color="#2cb7f0"/><stop offset="0.3333" stop-color="#27bee9"/><stop offset="0.4167" stop-color="#20c7df"/><stop offset="0.5" stop-color="#1ccdd8"/><stop offset="0.5833" stop-color="#1ad4d0"/><stop offset="0.6667" stop-color="#18d9c8"/><stop offset="0.75" stop-color="#18dec0"/><stop offset="0.8333" stop-color="#19e2bb"/><stop offset="0.9167" stop-color="#1ae4b6"/><stop offset="1" stop-color="#1ce6b4"/></linearGradient>
<linearGradient id="g201"><stop offset="0" stop-color="#3d9efe"/><stop offset="0.08333" stop-color="#3aa3fc"/><stop offset="0.1667" stop-color="#33adf7"/><stop offset="0.25" stop-color="#2eb4f2"/><stop offset="0.3333" stop-color="#28bceb"/><stop offset="0.4167" stop-color="#22c5e2"/><stop offset="0.5" stop-color="#1ecbda"/><stop offset="0.5833" stop-color="#1ad2d2"/><stop offset="0.6667" stop-color="#18d7ca"/><stop offset="0.75" stop-color="#18ddc2"/><stop offset="0.8333" stop-color="#18e0bd"/><stop offset="0.9167" stop-color="#19e3b9"/><stop offset="1" stop-color="#1ae4b6"/></linearGradient>
<linearGradient id="g202"><stop offset="0" stop-color="#3e9bfe"/><stop offset="0.08333" stop-color="#3aa3fc"/><stop offset="0.1667" stop-color="#35abf8"/><stop offset="0.25" stop-color="#2fb2f4"/><stop offset="0.3333" stop-color="#2ab9ee"/><stop offset="0.4167" stop-color="#23c3e4"/><stop offset="0.5" stop-color="#1fc9dd"/><stop offset="0.5833" stop-color="#1bd0d5"/><stop offset="0.6667" stop-color="#19d5cd"/><stop offset="0.75" stop-color="#18dbc5"/><stop offset="0.8333" stop-color="#18dec0"/><stop offset="0.9167" stop-color="#19e2bb"/><stop offset="1" stop-color="#19e3b9"/></linearGradient>
<linearGradient id="g203"><stop offset="0" stop-color="#4099ff"/><stop offset="0.08333" stop-color="#3ba0fd"/><stop offset="0.1667" stop-color="#37a8fa"/><stop offset="0.25" stop-color="#31aff5"/><stop offset="0.3333" stop-color="#2ab9ee"/><stop offset="0.4167" stop-color="#25c0e7"/><stop offset="0.5" stop-color="#20c7df"/><stop offset="0.5833" stop-color="#1bd0d5"/><stop offset="0.6667" stop-color="#19d5cd"/><stop offset="0.75" stop-color="#18d9c8"/><stop offset="0.8333" stop-color="#18ddc2"/><stop offset="0.9167" stop-color="#18e0bd"/><stop offset="1" stop-color="#19e2bb"/></linearGradient>
<linearGradient id="g204"><stop offset="0" stop-color="#4196ff"/><stop offset="0.08333" stop-color="#3d9efe"/><stop offset="0.1667" stop-color="#38a5fb"/><stop offset="0.25" stop-color="#33adf7"/><stop offset="0.3333" stop-color="#2cb7f0"/><stop offset="0.4167" stop-color="#27bee9"/><stop offset="0.5" stop-color="#20c7df"/><stop offset="0.5833" stop-color="#1ccdd8"/><stop offset="0.6667" stop-color="#1ad4d0"/><stop offset="0.75" stop-color="#18d7ca"/><stop offset="0.8333" stop-color="#18ddc2"/><stop offset="0.9167" stop-color="#18dec0"/><stop offset="1" stop-color="#19e2bb"/></linearGradient>
<linearGradient id="g205"><stop offset="0" stop-color="#4294ff"/><stop offset="0.08333" stop-color="#3e9bfe"/><stop offset="0.1667" stop-color="#3aa3fc"/><stop offset="0.25" stop-color="#33adf7"/><stop offset="0.3333" stop-color="#2eb4f2"/><stop offset="0.4167" stop-color="#28bceb"/><stop offset="0.5" stop-color="#22c5e2"/><stop offset="0.5833" stop-color="#1ecbda"/><stop offset="0.6667" stop-color="#1ad2d2"/><stop offset="0.75" stop-color="#18d7ca"/><stop offset="0.8333" stop-color="#18dbc5"/><stop offset="0.9167" stop-color="#18ddc2"/><stop offset="1" stop-color="#18e0bd"/></linearGradient>
<linearGradient id="g206"><stop offset="0" stop-color="#4294ff"/><stop offset="0.08333" stop-color="#4099ff"/><stop offset="0.1667" stop-color="#3ba0fd"/><stop offset="0.25" stop-color="#35abf8"/><stop offset="0.3333" stop-color="#2fb2f4"/><stop offset="0.4167" stop-color="#28bceb"/><stop offset="0.5" stop-color="#23c3e4"/><stop offset="0.5833" stop-color="#1fc9dd"/><stop offset="0.6667" stop-color="#1bd0d5"/><stop offset="0.75" stop-color="#19d5cd"/><stop offset="0.8333" stop-color="#18d9c8"/><stop offset="0.9167" stop-color="#18ddc2"/><stop offset="1" stop-color="#18dec0"/></linearGradient>
<linearGradient id="g207"><stop offset="0" stop-color="#4391fe"/><stop offset="0.08333" stop-color="#4099ff"/><stop offset="0.1667" stop-color="#3ba0fd"/><stop offset="0.25" stop-color="#37a8fa"/><stop offset="0.3333" stop-color="#31aff5"/><stop offset="0.4167" stop-color="#2ab9ee"/><stop offset="0.5" stop-color="#25c0e7"/><stop offset="0.5833" stop-color="#20c7df"/><stop offset="0.6667" stop-color="#1ccdd8"/><stop offset="0.75" stop-color="#1ad4d0"/><stop offset="0.8333" stop-color="#18d7ca"/><stop offset="0.9167" stop-color="#18dbc5"/><stop offset="1" stop-color="#18ddc2"/></linearGradient>
<linearGradient id="g208"><stop offset="0" stop-color="#448ffe"/><stop offset="0.08333" stop-color="#4196ff"/><stop offset="0.1667" stop-color="#3d9efe"/><stop offset="0.25" stop-color="#38a5fb"/><stop offset="0.3333" stop-color="#33adf7"/><stop offset="0.4167" stop-color="#2cb7f0"/><stop offset="0.5" stop-color="#27bee9"/><stop offset="0.5833" stop-color="#22c5e2"/><stop offset="0.6667" stop-color="#1ecbda"/><stop offset="0.75" stop-color="#1ad2d2"/><stop offset="0.8333" stop-color="#19d5cd"/><stop offset="0.9167" stop-color="#18d9c8"/><stop offset="1" stop-color="#18dbc5"/></linearGradient>
<linearGradient id="g209"><stop offset="0" stop-color="#458cfd"/><stop offset="0.08333" stop-color="#4294ff"/><stop offset="0.1667" stop-color="#3e9bfe"/><stop offset="0.25" stop-color="#3aa3fc"/><stop offset="0.3333" stop-color="#33adf7"/><stop offset="0.4167" stop-color="#2eb4f2"/><stop offset="0.5" stop-color="#28bceb"/><stop offset="0.5833" stop-color="#22c5e2"/><stop offset="0.6667" stop-color="#1fc9dd"/><stop offset="0.75" stop-color="#1bd0d5"/><stop offset="0.8333" stop-color="#1ad4d0"/><stop offset="0.9167" stop-color="#18d7ca"/><stop offset="1" stop-color="#18d9c8"/></linearGradient>
<linearGradient id="g210"><stop offset="0" stop-color="#458afc"/><stop offset="0.08333" stop-color="#4391fe"/><stop offset="0.1667" stop-color="#4099ff"/><stop offset="0.25" stop-color="#3ba0fd"/><stop offset="0.3333" stop-color="#35abf8"/><stop offset="0.4167" stop-color="#2fb2f4"/><stop offset="0.5" stop-color="#2ab9ee"/><stop offset="0.5833" stop-color="#23c3e4"/><stop offset="0.6667" stop-color="#1fc9dd"/><stop offset="0.75" stop-color="#1ccdd8"/><stop offset="0.8333" stop-color="#1ad2d2"/><stop offset="0.9167" stop-color="#19d5cd"/><stop offset="1" stop-color="#18d7ca"/></linearGradient>
<linearGradient id="g211"><stop offset="0" stop-color="#458afc"/><stop offset="0.08333" stop-color="#448ffe"/><stop offset="0.1667" stop-color="#4196ff"/><stop offset="0.25" stop-color="#3ba0fd"/><stop offset="0.3333" stop-color="#37a8fa"/><stop offset="0.4167" stop-color="#31aff5"/><stop offset="0.5" stop-color="#2ab9ee"/><stop offset="0.5833" stop-color="#25c0e7"/><stop offset="0.6667" stop-color="#20c7df"/><stop offset="0.75" stop-color="#1ecbda"/><stop offset="0.8333" stop-color="#1ad2d2"/><stop offset="0.9167" stop-color="#1ad4d0"/><stop offset="1" stop-color="#19d5cd"/></linearGradient>
<linearGradient id="g212"><stop offset="0" stop-color="#4687fb"/><stop offset="0.08333" stop-color="#448ffe"/><stop offset="0.1667" stop-color="#4196ff"/><stop offset="0.25" stop-color="#3d9efe"/><stop offset="0.3333" stop-color="#38a5fb"/><stop offset="0.4167" stop-color="#33adf7"/><stop offset="0.5" stop-color="#2cb7f0"/><stop offset="0.5833" stop-color="#27bee9"/><stop offset="0.6667" stop-color="#22c5e2"/><stop offset="0.75" stop-color="#1fc9dd"/><stop offset="0.8333" stop-color="#1bd0d5"/><stop offset="0.9167" stop-color="#1ad2d2"/><stop offset="1" stop-color="#1ad4d0"/></linearGradient>
<linearGradient id="g213"><stop offset="0" stop-color="#4685fa"/><stop offset="0.08333" stop-color="#458cfd"/><stop offset="0.1667" stop-color="#4294ff"/><stop offset="0.25" stop-color="#3e9bfe"/><stop offset="0.3333" stop-color="#3aa3fc"/><stop offset="0.4167" stop-color="#33adf7"/><stop offset="0.5" stop-color="#2eb4f2"/><stop offset="0.5833" stop-color="#28bceb"/><stop offset="0.6667" stop-color="#23c3e4"/><stop offset="0.75" stop-color="#1fc9dd"/><stop offset="0.8333" stop-color="#1ccdd8"/><stop offset="0.9167" stop-color="#1bd0d5"/><stop offset="1" stop-color="#1ad2d2"/></linearGradient>
<linearGradient id="g214"><stop offset="0" stop-color="#4682f8"/><stop offset="0.08333" stop-color="#458afc"/><stop offset="0.1667" stop-color="#4391fe"/><stop offset="0.25" stop-color="#4099ff"/><stop offset="0.3333" stop-color="#3ba0fd"/><stop offset="0.4167" stop-color="#35abf8"/><stop offset="0.5" stop-color="#2fb2f4"/><stop offset="0.5833" stop-color="#2ab9ee"/><stop offset="0.6667" stop-color="#25c0e7"/><stop offset="0.75" stop-color="#20c7df"/><stop offset="0.8333" stop-color="#1ecbda"/><stop offset="0.9167" stop-color="#1bd0d5"/><stop offset="1" stop-color="#1ad2d2"/></linearGradient>
<linearGradient id="g215"><stop offset="0" stop-color="#4680f6"/><stop offset="0.08333" stop-color="#4687fb"/><stop offset="0.1667" stop-color="#448ffe"/><stop offset="0.25" stop-color="#4196ff"/><stop offset="0.3333" stop-color="#3ba0fd"/><stop offset="0.4167" stop-color="#37a8fa"/><stop offset="0.5" stop-color="#31aff5"/><stop offset="0.5833" stop-color="#2cb7f0"/><stop offset="0.6667" stop-color="#27bee9"/><stop offset="0.75" stop-color="#22c5e2"/><stop offset="0.8333" stop-color="#1fc9dd"/><stop offset="0.9167" stop-color="#1ccdd8"/><stop offset="1" stop-color="#1bd0d5"/></linearGradient>
<linearGradient id="g216"><stop offset="0" stop-color="#4680f6"/><stop offset="0.08333" stop-color="#4685fa"/><stop offset="0.1667" stop-color="#458cfd"/><stop offset="0.25" stop-color="#4294ff"/><stop offset="0.3333" stop-color="#3d9efe"/><stop offset="0.4167" stop-color="#38a5fb"/><stop offset="0.5" stop-color="#33adf7"/><stop offset="0.5833" stop-color="#2eb4f2"/><stop offset="0.6667" stop-color="#28bceb"/><stop offset="0.75" stop-color="#23c3e4"/><stop offset="0.8333" stop-color="#20c7df"/><stop offset="0.9167" stop-color="#1ecbda"/><stop offset="1" stop-color="#1ccdd8"/></linearGradient>
<linearGradient id="g217"><stop offset="0" stop-color="#467df4"/><stop offset="0.08333" stop-color="#4682f8"/><stop offset="0.1667" stop-color="#458afc"/><stop offset="0.25" stop-color="#4391fe"/><stop offset="0.3333" stop-color="#3e9bfe"/><stop offset="0.4167" stop-color="#3aa3fc"/><stop offset="0.5" stop-color="#35abf8"/><stop offset="0.5833" stop-color="#2eb4f2"/><stop offset="0.6667" stop-color="#28bceb"/><stop offset="0.75" stop-color="#25c0e7"/><stop offset="0.8333" stop-color="#22c5e2"/><stop offset="0.9167" stop-color="#1fc9dd"/><stop offset="1" stop-color="#1ecbda"/></linearGradient>
<linearGradient id="g218"><stop offset="0" stop-color="#477bf2"/><stop offset="0.08333" stop-color="#4682f8"/><stop offset="0.1667" stop-color="#458afc"/><stop offset="0.25" stop-color="#4391fe"/><stop offset="0.3333" stop-color="#4099ff"/><stop offset="0.4167" stop-color="#3ba0fd"/><stop offset="0.5" stop-color="#35abf8"/><stop offset="0.5833" stop-color="#2fb2f4"/><stop offset="0.6667" stop-color="#2ab9ee"/><stop offset="0.75" stop-color="#27bee9"/><stop offset="0.8333" stop-color="#23c3e4"/><stop offset="0.9167" stop-color="#20c7df"/><stop offset="1" stop-color="#1fc9dd"/></linearGradient>
<linearGradient id="g219"><stop offset="0" stop-color="#4778f0"/><stop offset="0.08333" stop-color="#4680f6"/><stop offset="0.1667" stop-color="#4687fb"/><stop offset="0.25" stop-color="#448ffe"/><stop offset="0.3333" stop-color="#4196ff"/><stop offset="0.4167" stop-color="#3d9efe"/><stop offset="0.5" stop-color="#37a8fa"/><stop offset="0.5833" stop-color="#31aff5"/><stop offset="0.6667" stop-color="#2cb7f0"/><stop offset="0.75" stop-color="#28bceb"/><stop offset="0.8333" stop-color="#25c0e7"/><stop offset="0.9167" stop-color="#22c5e2"/><stop offset="1" stop-color="#20c7df"/></linearGradient>
<linearGradient id="g220"><stop offset="0" stop-color="#4778f0"/><stop offset="0.08333" stop-color="#467df4"/><stop offset="0.1667" stop-color="#4685fa"/><stop offset="0.25" stop-color="#458cfd"/><stop offset="0.3333" stop-color="#4294ff"/><stop offset="0.4167" stop-color="#3d9efe"/><stop offset="0.5" stop-color="#38a5fb"/><stop offset="0.5833" stop-color="#33adf7"/><stop offset="0.6667" stop-color="#2eb4f2"/><stop offset="0.75" stop-color="#2ab9ee"/><stop offset="0.8333" stop-color="#25c0e7"/><stop offset="0.9167" stop-color="#23c3e4"/><stop offset="1" stop-color="#22c5e2"/></linearGradient>
<linearGradient id="g221"><stop offset="0" stop-color="#4776ee"/><stop offset="0.08333" stop-color="#477bf2"/><stop offset="0.1667" stop-color="#4682f8"/><stop offset="0.25" stop-color="#458afc"/><stop offset="0.3333" stop-color="#4391fe"/><stop offset="0.4167" stop-color="#3e9bfe"/><stop offset="0.5" stop-color="#3aa3fc"/><stop offset="0.5833" stop-color="#35abf8"/><stop offset="0.6667" stop-color="#2fb2f4"/><stop offset="0.75" stop-color="#2ab9ee"/><stop offset="0.8333" stop-color="#27bee9"/><stop offset="0.9167" stop-color="#25c0e7"/><stop offset="1" stop-color="#23c3e4"/></linearGradient>
<linearGradient id="g222"><stop offset="0" stop-color="#4773eb"/><stop offset="0.08333" stop-color="#4778f0"/><stop offset="0.1667" stop-color="#4680f6"/><stop offset="0.25" stop-color="#4687fb"/><stop offset="0.3333" stop-color="#448ffe"/><stop offset="0.4167" stop-color="#4099ff"/><stop offset="0.5" stop-color="#3ba0fd"/><stop offset="0.5833" stop-color="#37a8fa"/><stop offset="0.6667" stop-color="#31aff5"/><stop offset="0.75" stop-color="#2cb7f0"/><stop offset="0.8333" stop-color="#28bceb"/><stop offset="0.9167" stop-color="#27bee9"/><stop offset="1" stop-color="#25c0e7"/></linearGradient>
<linearGradient id="g223"><stop offset="0" stop-color="#4771e9"/><stop offset="0.08333" stop-color="#4778f0"/><stop offset="0.1667" stop-color="#467df4"/><stop offset="0.25" stop-color="#4685fa"/><stop offset="0.3333" stop-color="#448ffe"/><stop offset="0.4167" stop-color="#4196ff"/><stop offset="0.5" stop-color="#3d9efe"/><stop offset="0.5833" stop-color="#38a5fb"/><stop offset="0.6667" stop-color="#33adf7"/><stop offset="0.75" stop-color="#2eb4f2"/><stop offset="0.8333" stop-color="#2ab9ee"/><stop offset="0.9167" stop-color="#28bceb"/><stop offset="1" stop-color="#27bee9"/></linearGradient>
<linearGradient id="g224"><stop offset="0" stop-color="#476ee6"/><stop offset="0.08333" stop-color="#4776ee"/><stop offset="0.1667" stop-color="#477bf2"/><stop offset="0.25" stop-color="#4685fa"/><stop offset="0.3333" stop-color="#458cfd"/><stop offset="0.4167" stop-color="#4294ff"/><stop offset="0.5" stop-color="#3e9bfe"/><stop offset="0.5833" stop-color="#3aa3fc"/><stop offset="0.6667" stop-color="#35abf8"/><stop offset="0.75" stop-color="#2fb2f4"/><stop offset="0.8333" stop-color="#2cb7f0"/><stop offset="0.9167" stop-color="#28bceb"/><stop offset="1" stop-color="#28bceb"/></linearGradient>
<linearGradient id="g225"><stop offset="0" stop-color="#476ee6"/><stop offset="0.08333" stop-color="#4773eb"/><stop offset="0.1667" stop-color="#477bf2"/><stop offset="0.25" stop-color="#4682f8"/><stop offset="0.3333" stop-color="#458afc"/><stop offset="0.4167" stop-color="#4391fe"/><stop offset="0.5" stop-color="#4099ff"/><stop offset="0.5833" stop-color="#3aa3fc"/><stop offset="0.6667" stop-color="#37a8fa"/><stop offset="0.75" stop-color="#31aff5"/><stop offset="0.8333" stop-color="#2eb4f2"/><stop offset="0.9167" stop-color="#2ab9ee"/><stop offset="1" stop-color="#28bceb"/></linearGradient>
<linearGradient id="g226"><stop offset="0" stop-color="#466be3"/><stop offset="0.08333" stop-color="#4771e9"/><stop offset="0.1667" stop-color="#4778f0"/><stop offset="0.25" stop-color="#4680f6"/><stop offset="0.3333" stop-color="#4687fb"/><stop offset="0.4167" stop-color="#448ffe"/><stop offset="0.5" stop-color="#4099ff"/><stop offset="0.5833" stop-color="#3ba0fd"/><stop offset="0.6667" stop-color="#37a8fa"/><stop offset="0.75" stop-color="#33adf7"/><stop offset="0.8333" stop-color="#2fb2f4"/><stop offset="0.9167" stop-color="#2cb7f0"/><stop offset="1" stop-color="#2ab9ee"/></linearGradient>
<linearGradient id="g227"><stop offset="0" stop-color="#4669e0"/><stop offset="0.08333" stop-color="#476ee6"/><stop offset="0.1667" stop-color="#4776ee"/><stop offset="0.25" stop-color="#467df4"/><stop offset="0.3333" stop-color="#4685fa"/><stop offset="0.4167" stop-color="#458cfd"/><stop offset="0.5" stop-color="#4196ff"/><stop offset="0.5833" stop-color="#3d9efe"/><stop offset="0.6667" stop-color="#38a5fb"/><stop offset="0.75" stop-color="#35abf8"/><stop offset="0.8333" stop-color="#31aff5"/><stop offset="0.9167" stop-color="#2eb4f2"/><stop offset="1" stop-color="#2cb7f0"/></linearGradient>
<linearGradient id="g228"><stop offset="0" stop-color="#4666dd"/><stop offset="0.08333" stop-color="#466be3"/><stop offset="0.1667" stop-color="#4773eb"/><stop offset="0.25" stop-color="#477bf2"/><stop offset="0.3333" stop-color="#4682f8"/><stop offset="0.4167" stop-color="#458cfd"/><stop offset="0.5" stop-color="#4294ff"/><stop offset="0.5833" stop-color="#3e9bfe"/><stop offset="0.6667" stop-color="#3aa3fc"/><stop offset="0.75" stop-color="#37a8fa"/><stop offset="0.8333" stop-color="#33adf7"/><stop offset="0.9167" stop-color="#2fb2f4"/><stop offset="1" stop-color="#2eb4f2"/></linearGradient>
<linearGradient id="g229"><stop offset="0" stop-color="#4664da"/><stop offset="0.08333" stop-color="#466be3"/><stop offset="0.1667" stop-color="#4771e9"/><stop offset="0.25" stop-color="#4778f0"/><stop offset="0.3333" stop-color="#4680f6"/><stop offset="0.4167" stop-color="#458afc"/><stop offset="0.5" stop-color="#4391fe"/><stop offset="0.5833" stop-color="#4099ff"/><stop offset="0.6667" stop-color="#3ba0fd"/><stop offset="0.75" stop-color="#38a5fb"/><stop offset="0.8333" stop-color="#33adf7"/><stop offset="0.9167" stop-color="#31aff5"/><stop offset="1" stop-color="#2fb2f4"/></linearGradient>
<linearGradient id="g230"><stop offset="0" stop-color="#4664da"/><stop offset="0.08333" stop-color="#4669e0"/><stop offset="0.1667" stop-color="#476ee6"/><stop offset="0.25" stop-color="#4776ee"/><stop offset="0.3333" stop-color="#4680f6"/><stop offset="0.4167" stop-color="#4687fb"/><stop offset="0.5" stop-color="#448ffe"/><stop offset="0.5833" stop-color="#4196ff"/><stop offset="0.6667" stop-color="#3d9efe"/><stop offset="0.75" stop-color="#38a5fb"/><stop offset="0.8333" stop-color="#35abf8"/><stop offset="0.9167" stop-color="#33adf7"/><stop offset="1" stop-color="#31aff5"/></linearGradient>
<linearGradient id="g231"><stop offset="0" stop-color="#4661d6"/><stop offset="0.08333" stop-color="#4666dd"/><stop offset="0.1667" stop-color="#476ee6"/><stop offset="0.25" stop-color="#4776ee"/><stop offset="0.3333" stop-color="#467df4"/><stop offset="0.4167" stop-color="#4685fa"/><stop offset="0.5" stop-color="#458cfd"/><stop offset="0.5833" stop-color="#4294ff"/><stop offset="0.6667" stop-color="#3e9bfe"/><stop offset="0.75" stop-color="#3aa3fc"/><stop offset="0.8333" stop-color="#37a8fa"/><stop offset="0.9167" stop-color="#35abf8"/><stop offset="1" stop-color="#33adf7"/></linearGradient>
<linearGradient id="g232"><stop offset="0" stop-color="#455ed3"/><stop offset="0.08333" stop-color="#4664da"/><stop offset="0.1667" stop-color="#466be3"/><stop offset="0.25" stop-color="#4773eb"/><stop offset="0.3333" stop-color="#477bf2"/><stop offset="0.4167" stop-color="#4682f8"/><stop offset="0.5" stop-color="#458afc"/><stop offset="0.5833" stop-color="#4391fe"/><stop offset="0.6667" stop-color="#4099ff"/><stop offset="0.75" stop-color="#3ba0fd"/><stop offset="0.8333" stop-color="#38a5fb"/><stop offset="0.9167" stop-color="#37a8fa"/><stop offset="1" stop-color="#35abf8"/></linearGradient>
<linearGradient id="g233"><stop offset="0" stop-color="#455ccf"/><stop offset="0.08333" stop-color="#4661d6"/><stop offset="0.1667" stop-color="#4669e0"/><stop offset="0.25" stop-color="#4771e9"/><stop offset="0.3333" stop-color="#4778f0"/><stop offset="0.4167" stop-color="#4680f6"/><stop offset="0.5" stop-color="#4687fb"/><stop offset="0.5833" stop-color="#448ffe"/><stop offset="0.6667" stop-color="#4196ff"/><stop offset="0.75" stop-color="#3d9efe"/><stop offset="0.8333" stop-color="#3aa3fc"/><stop offset="0.9167" stop-color="#38a5fb"/><stop offset="1" stop-color="#37a8fa"/></linearGradient>
<linearGradient id="g234"><stop offset="0" stop-color="#455ccf"/><stop offset="0.08333" stop-color="#4661d6"/><stop offset="0.1667" stop-color="#4666dd"/><stop offset="0.25" stop-color="#476ee6"/><stop offset="0.3333" stop-color="#4776ee"/><stop offset="0.4167" stop-color="#467df4"/><stop offset="0.5" stop-color="#4685fa"/><stop offset="0.5833" stop-color="#448ffe"/><stop offset="0.6667" stop-color="#4294ff"/><stop offset="0.75" stop-color="#3e9bfe"/><stop offset="0.8333" stop-color="#3ba0fd"/><stop offset="0.9167" stop-color="#38a5fb"/><stop offset="1" stop-color="#38a5fb"/></linearGradient>
<linearGradient id="g235"><stop offset="0" stop-color="#4559cb"/><stop offset="0.08333" stop-color="#455ed3"/><stop offset="0.1667" stop-color="#4664da"/><stop offset="0.25" stop-color="#466be3"/><stop offset="0.3333" stop-color="#4773eb"/><stop offset="0.4167" stop-color="#477bf2"/><stop offset="0.5" stop-color="#4685fa"/><stop offset="0.5833" stop-color="#458cfd"/><stop offset="0.6667" stop-color="#4294ff"/><stop offset="0.75" stop-color="#4099ff"/><stop offset="0.8333" stop-color="#3d9efe"/><stop offset="0.9167" stop-color="#3aa3fc"/><stop offset="1" stop-color="#3aa3fc"/></linearGradient>
<linearGradient id="g236"><stop offset="0" stop-color="#4456c7"/><stop offset="0.08333" stop-color="#455ccf"/><stop offset="0.1667" stop-color="#4661d6"/><stop offset="0.25" stop-color="#4669e0"/><stop offset="0.3333" stop-color="#4771e9"/><stop offset="0.4167" stop-color="#4778f0"/><stop offset="0.5" stop-color="#4682f8"/><stop offset="0.5833" stop-color="#458afc"/><stop offset="0.6667" stop-color="#4391fe"/><stop offset="0.75" stop-color="#4196ff"/><stop offset="0.8333" stop-color="#3e9bfe"/><stop offset="0.9167" stop-color="#3ba0fd"/><stop offset="1" stop-color="#3ba0fd"/></linearGradient>
<linearGradient id="g237"><stop offset="0" stop-color="#4454c3"/><stop offset="0.08333" stop-color="#4559cb"/><stop offset="0.1667" stop-color="#4661d6"/><stop offset="0.25" stop-color="#4666dd"/><stop offset="0.3333" stop-color="#476ee6"/><stop offset="0.4167" stop-color="#4778f0"/><stop offset="0.5" stop-color="#4680f6"/><stop offset="0.5833" stop-color="#4687fb"/><stop offset="0.6667" stop-color="#448ffe"/><stop offset="0.75" stop-color="#4294ff"/><stop offset="0.8333" stop-color="#4099ff"/><stop offset="0.9167" stop-color="#3d9efe"/><stop offset="1" stop-color="#3ba0fd"/></linearGradient>
<linearGradient id="g238"><stop offset="0" stop-color="#4451bf"/><stop offset="0.08333" stop-color="#4456c7"/><stop offset="0.1667" stop-color="#455ed3"/><stop offset="0.25" stop-color="#4664da"/><stop offset="0.3333" stop-color="#476ee6"/><stop offset="0.4167" stop-color="#4776ee"/><stop offset="0.5" stop-color="#467df4"/><stop offset="0.5833" stop-color="#4685fa"/><stop offset="0.6667" stop-color="#458cfd"/><stop offset="0.75" stop-color="#4391fe"/><stop offset="0.8333" stop-color="#4099ff"/><stop offset="0.9167" stop-color="#3e9bfe"/><stop offset="1" stop-color="#3d9efe"/></linearGradient>
<linearGradient id="g239"><stop offset="0" stop-color="#4451bf"/><stop offset="0.08333" stop-color="#4456c7"/><stop offset="0.1667" stop-color="#455ccf"/><stop offset="0.25" stop-color="#4664da"/><stop offset="0.3333" stop-color="#466be3"/><stop offset="0.4167" stop-color="#4773eb"/><stop offset="0.5" stop-color="#477bf2"/><stop offset="0.5833" stop-color="#4682f8"/><stop offset="0.6667" stop-color="#458afc"/><stop offset="0.75" stop-color="#4391fe"/><stop offset="0.8333" stop-color="#4196ff"/><stop offset="0.9167" stop-color="#4099ff"/><stop offset="1" stop-color="#3e9bfe"/></linearGradient>
<linearGradient id="g240"><stop offset="0" stop-color="#434eba"/><stop offset="0.08333" stop-color="#4454c3"/><stop offset="0.1667" stop-color="#4559cb"/><stop offset="0.25" stop-color="#4661d6"/><stop offset="0.3333" stop-color="#4669e0"/><stop offset="0.4167" stop-color="#4771e9"/><stop offset="0.5" stop-color="#4778f0"/><stop offset="0.5833" stop-color="#4680f6"/><stop offset="0.6667" stop-color="#4687fb"/><stop offset="0.75" stop-color="#448ffe"/><stop offset="0.8333" stop-color="#4294ff"/><stop offset="0.9167" stop-color="#4196ff"/><stop offset="1" stop-color="#4099ff"/></linearGradient>
<linearGradient id="g241"><stop offset="0" stop-color="#424bb5"/><stop offset="0.08333" stop-color="#4451bf"/><stop offset="0.1667" stop-color="#4456c7"/><stop offset="0.25" stop-color="#455ed3"/><stop offset="0.3333" stop-color="#4666dd"/><stop offset="0.4167" stop-color="#476ee6"/><stop offset="0.5" stop-color="#4776ee"/><stop offset="0.5833" stop-color="#467df4"/><stop offset="0.6667" stop-color="#4685fa"/><stop offset="0.75" stop-color="#458cfd"/><stop offset="0.8333" stop-color="#4391fe"/><stop offset="0.9167" stop-color="#4294ff"/><stop offset="1" stop-color="#4196ff"/></linearGradient>
<linearGradient id="g242"><stop offset="0" stop-color="#4249b1"/><stop offset="0.08333" stop-color="#434eba"/><stop offset="0.1667" stop-color="#4454c3"/><stop offset="0.25" stop-color="#455ccf"/><stop offset="0.3333" stop-color="#4664da"/><stop offset="0.4167" stop-color="#466be3"/><stop offset="0.5" stop-color="#4773eb"/><stop offset="0.5833" stop-color="#467df4"/><stop offset="0.6667" stop-color="#4682f8"/><stop offset="0.75" stop-color="#458afc"/><stop offset="0.8333" stop-color="#448ffe"/><stop offset="0.9167" stop-color="#4391fe"/><stop offset="1" stop-color="#4294ff"/></linearGradient>
<linearGradient id="g243"><stop offset="0" stop-color="#4249b1"/><stop offset="0.08333" stop-color="#424bb5"/><stop offset="0.1667" stop-color="#4454c3"/><stop offset="0.25" stop-color="#4559cb"/><stop offset="0.3333" stop-color="#4661d6"/><stop offset="0.4167" stop-color="#4669e0"/><stop offset="0.5" stop-color="#4773eb"/><stop offset="0.5833" stop-color="#477bf2"/><stop offset="0.6667" stop-color="#4682f8"/><stop offset="0.75" stop-color="#4687fb"/><stop offset="0.8333" stop-color="#458cfd"/><stop offset="0.9167" stop-color="#4391fe"/><stop offset="1" stop-color="#4391fe"/></linearGradient>
<linearGradient id="g244"><stop offset="0" stop-color="#4146ac"/><stop offset="0.08333" stop-color="#424bb5"/><stop offset="0.1667" stop-color="#4451bf"/><stop offset="0.25" stop-color="#4456c7"/><stop offset="0.3333" stop-color="#455ed3"/><stop offset="0.4167" stop-color="#4666dd"/><stop offset="0.5" stop-color="#4771e9"/><stop offset="0.5833" stop-color="#4778f0"/><stop offset="0.6667" stop-color="#4680f6"/><stop offset="0.75" stop-color="#4685fa"/><stop offset="0.8333" stop-color="#458afc"/><stop offset="0.9167" stop-color="#448ffe"/><stop offset="1" stop-color="#448ffe"/></linearGradient>
<linearGradient id="g245"><stop offset="0" stop-color="#4143a7"/><stop offset="0.08333" stop-color="#4249b1"/><stop offset="0.1667" stop-color="#434eba"/><stop offset="0.25" stop-color="#4456c7"/><stop offset="0.3333" stop-color="#455ccf"/><stop offset="0.4167" stop-color="#4666dd"/><stop offset="0.5" stop-color="#476ee6"/><stop offset="0.5833" stop-color="#4776ee"/><stop offset="0.6667" stop-color="#467df4"/><stop offset="0.75" stop-color="#4682f8"/><stop offset="0.8333" stop-color="#4687fb"/><stop offset="0.9167" stop-color="#458cfd"/><stop offset="1" stop-color="#458cfd"/></linearGradient>
<linearGradient id="g246"><stop offset="0" stop-color="#4040a2"/><stop offset="0.08333" stop-color="#4146ac"/><stop offset="0.1667" stop-color="#424bb5"/><stop offset="0.25" stop-color="#4454c3"/><stop offset="0.3333" stop-color="#455ccf"/><stop offset="0.4167" stop-color="#4664da"/><stop offset="0.5" stop-color="#466be3"/><stop offset="0.5833" stop-color="#4773eb"/><stop offset="0.6667" stop-color="#477bf2"/><stop offset="0.75" stop-color="#4680f6"/><stop offset="0.8333" stop-color="#4685fa"/><stop offset="0.9167" stop-color="#458afc"/><stop offset="1" stop-color="#458cfd"/></linearGradient>
<linearGradient id="g247"><stop offset="0" stop-color="#4040a2"/><stop offset="0.08333" stop-color="#4143a7"/><stop offset="0.1667" stop-color="#4249b1"/><stop offset="0.25" stop-color="#4451bf"/><stop offset="0.3333" stop-color="#4559cb"/><stop offset="0.4167" stop-color="#4661d6"/><stop offset="0.5" stop-color="#4669e0"/><stop offset="0.5833" stop-color="#4771e9"/><stop offset="0.6667" stop-color="#4778f0"/><stop offset="0.75" stop-color="#4680f6"/><stop offset="0.8333" stop-color="#4685fa"/><stop offset="0.9167" stop-color="#4687fb"/><stop offset="1" stop-color="#458afc"/></linearGradient>
<linearGradient id="g248"><stop offset="0" stop-color="#3f3e9c"/><stop offset="0.08333" stop-color="#4040a2"/><stop offset="0.1667" stop-color="#4146ac"/><stop offset="0.25" stop-color="#434eba"/><stop offset="0.3333" stop-color="#4456c7"/><stop offset="0.4167" stop-color="#455ed3"/><stop offset="0.5" stop-color="#4666dd"/><stop offset="0.5833" stop-color="#476ee6"/><stop offset="0.6667" stop-color="#4776ee"/><stop offset="0.75" stop-color="#467df4"/><stop offset="0.8333" stop-color="#4682f8"/><stop offset="0.9167" stop-color="#4685fa"/><stop offset="1" stop-color="#4687fb"/></linearGradient>
<linearGradient id="g249"><stop offset="0" stop-color="#3f3b97"/><stop offset="0.08333" stop-color="#4040a2"/><stop offset="0.1667" stop-color="#4146ac"/><stop offset="0.25" stop-color="#424bb5"/><stop offset="0.3333" stop-color="#4454c3"/><stop offset="0.4167" stop-color="#455ccf"/><stop offset="0.5" stop-color="#4664da"/><stop offset="0.5833" stop-color="#466be3"/><stop offset="0.6667" stop-color="#4773eb"/><stop offset="0.75" stop-color="#477bf2"/><stop offset="0.8333" stop-color="#4680f6"/><stop offset="0.9167" stop-color="#4682f8"/><stop offset="1" stop-color="#4685fa"/></linearGradient>
<linearGradient id="g250"><stop offset="0" stop-color="#3f3b97"/><stop offset="0.08333" stop-color="#3f3e9c"/><stop offset="0.1667" stop-color="#4143a7"/><stop offset="0.25" stop-color="#4249b1"/><stop offset="0.3333" stop-color="#4451bf"/><stop offset="0.4167" stop-color="#4559cb"/><stop offset="0.5" stop-color="#4661d6"/><stop offset="0.5833" stop-color="#466be3"/><stop offset="0.6667" stop-color="#4771e9"/><stop offset="0.75" stop-color="#4778f0"/><stop offset="0.8333" stop-color="#467df4"/><stop offset="0.9167" stop-color="#4680f6"/><stop offset="1" stop-color="#4682f8"/></linearGradient>
<linearGradient id="g251"><stop offset="0" stop-color="#3e3891"/><stop offset="0.08333" stop-color="#3f3b97"/><stop offset="0.1667" stop-color="#4040a2"/><stop offset="0.25" stop-color="#4249b1"/><stop offset="0.3333" stop-color="#434eba"/><stop offset="0.4167" stop-color="#4456c7"/><stop offset="0.5" stop-color="#4661d6"/><stop offset="0.5833" stop-color="#4669e0"/><stop offset="0.6667" stop-color="#4771e9"/><stop offset="0.75" stop-color="#4776ee"/><stop offset="0.8333" stop-color="#477bf2"/><stop offset="0.9167" stop-color="#4680f6"/><stop offset="1" stop-color="#4680f6"/></linearGradient>
<linearGradient id="g252"><stop offset="0" stop-color="#3d358b"/><stop offset="0.08333" stop-color="#3e3891"/><stop offset="0.1667" stop-color="#3f3e9c"/><stop offset="0.25" stop-color="#4146ac"/><stop offset="0.3333" stop-color="#434eba"/><stop offset="0.4167" stop-color="#4456c7"/><stop offset="0.5" stop-color="#455ed3"/><stop offset="0.5833" stop-color="#4666dd"/><stop offset="0.6667" stop-color="#476ee6"/><stop offset="0.75" stop-color="#4773eb"/><stop offset="0.8333" stop-color="#4778f0"/><stop offset="0.9167" stop-color="#467df4"/><stop offset="1" stop-color="#467df4"/></linearGradient>
<linearGradient id="g253"><stop offset="0" stop-color="#3c3286"/><stop offset="0.08333" stop-color="#3e3891"/><stop offset="0.1667" stop-color="#3f3b97"/><stop offset="0.25" stop-color="#4143a7"/><stop offset="0.3333" stop-color="#424bb5"/><stop offset="0.4167" stop-color="#4454c3"/><stop offset="0.5" stop-color="#455ccf"/><stop offset="0.5833" stop-color="#4664da"/><stop offset="0.6667" stop-color="#466be3"/><stop offset="0.75" stop-color="#4771e9"/><stop offset="0.8333" stop-color="#4776ee"/><stop offset="0.9167" stop-color="#477bf2"/><stop offset="1" stop-color="#467df4"/></linearGradient>
<linearGradient id="g254"><stop offset="0" stop-color="#3c3286"/><stop offset="0.08333" stop-color="#3d358b"/><stop offset="0.1667" stop-color="#3f3b97"/><stop offset="0.25" stop-color="#4040a2"/><stop offset="0.3333" stop-color="#4249b1"/><stop offset="0.4167" stop-color="#4451bf"/><stop offset="0.5" stop-color="#4559cb"/><stop offset="0.5833" stop-color="#4661d6"/><stop offset="0.6667" stop-color="#4669e0"/><stop offset="0.75" stop-color="#4771e9"/><stop offset="0.8333" stop-color="#4776ee"/><stop offset="0.9167" stop-color="#4778f0"/><stop offset="1" stop-color="#477bf2"/></linearGradient>
<linearGradient id="g255"><stop offset="0" stop-color="#3b2f80"/><stop offset="0.08333" stop-color="#3c3286"/><stop offset="0.1667" stop-color="#3e3891"/><stop offset="0.25" stop-color="#3f3e9c"/><stop offset="0.3333" stop-color="#4146ac"/><stop offset="0.4167" stop-color="#434eba"/><stop offset="0.5" stop-color="#4456c7"/><stop offset="0.5833" stop-color="#455ed3"/><stop offset="0.6667" stop-color="#4666dd"/><stop offset="0.75" stop-color="#476ee6"/><stop offset="0.8333" stop-color="#4773eb"/><stop offset="0.9167" stop-color="#4776ee"/><stop offset="1" stop-color="#4778f0"/></linearGradient>
<linearGradient id="g256"><stop offset="0" stop-color="#3a2d79"/><stop offset="0.08333" stop-color="#3b2f80"/><stop offset="0.1667" stop-color="#3d358b"/><stop offset="0.25" stop-color="#3f3b97"/><stop offset="0.3333" stop-color="#4143a7"/><stop offset="0.4167" stop-color="#424bb5"/><stop offset="0.5" stop-color="#4454c3"/><stop offset="0.5833" stop-color="#455ccf"/><stop offset="0.6667" stop-color="#4664da"/><stop offset="0.75" stop-color="#466be3"/><stop offset="0.8333" stop-color="#4771e9"/><stop offset="0.9167" stop-color="#4773eb"/><stop offset="1" stop-color="#4776ee"/></linearGradient>
<linearGradient id="g257"><stop offset="0" stop-color="#3a2d79"/><stop offset="0.08333" stop-color="#3b2f80"/><stop offset="0.1667" stop-color="#3c3286"/><stop offset="0.25" stop-color="#3f3b97"/><stop offset="0.3333" stop-color="#4040a2"/><stop offset="0.4167" stop-color="#4249b1"/><stop offset="0.5" stop-color="#4454c3"/><stop offset="0.5833" stop-color="#455ccf"/><stop offset="0.6667" stop-color="#4661d6"/><stop offset="0.75" stop-color="#4669e0"/><stop offset="0.8333" stop-color="#476ee6"/><stop offset="0.9167" stop-color="#4773eb"/><stop offset="1" stop-color="#4773eb"/></linearGradient>
<linearGradient id="g258"><stop offset="0" stop-color="#392a73"/><stop offset="0.08333" stop-color="#3a2d79"/><stop offset="0.1667" stop-color="#3c3286"/><stop offset="0.25" stop-color="#3e3891"/><stop offset="0.3333" stop-color="#4040a2"/><stop offset="0.4167" stop-color="#4249b1"/><stop offset="0.5" stop-color="#4451bf"/><stop offset="0.5833" stop-color="#4559cb"/><stop offset="0.6667" stop-color="#4661d6"/><stop offset="0.75" stop-color="#4666dd"/><stop offset="0.8333" stop-color="#466be3"/><stop offset="0.9167" stop-color="#4771e9"/><stop offset="1" stop-color="#4771e9"/></linearGradient>
<linearGradient id="g259"><stop offset="0" stop-color="#38276d"/><stop offset="0.08333" stop-color="#392a73"/><stop offset="0.1667" stop-color="#3b2f80"/><stop offset="0.25" stop-color="#3d358b"/><stop offset="0.3333" stop-color="#3f3e9c"/><stop offset="0.4167" stop-color="#4146ac"/><stop offset="0.5" stop-color="#434eba"/><stop offset="0.5833" stop-color="#4456c7"/><stop offset="0.6667" stop-color="#455ed3"/><stop offset="0.75" stop-color="#4664da"/><stop offset="0.8333" stop-color="#4669e0"/><stop offset="0.9167" stop-color="#476ee6"/><stop offset="1" stop-color="#4771e9"/></linearGradient>
<linearGradient id="g260"><stop offset="0" stop-color="#38276d"/><stop offset="0.08333" stop-color="#38276d"/><stop offset="0.1667" stop-color="#3a2d79"/><stop offset="0.25" stop-color="#3c3286"/><stop offset="0.3333" stop-color="#3f3b97"/><stop offset="0.4167" stop-color="#4143a7"/><stop offset="0.5" stop-color="#424bb5"/><stop offset="0.5833" stop-color="#4454c3"/><stop offset="0.6667" stop-color="#455ccf"/><stop offset="0.75" stop-color="#4664da"/><stop offset="0.8333" stop-color="#4669e0"/><stop offset="0.9167" stop-color="#466be3"/><stop offset="1" stop-color="#476ee6"/></linearGradient>
<linearGradient id="g261"><stop offset="0" stop-color="#372466"/><stop offset="0.08333" stop-color="#38276d"/><stop offset="0.1667" stop-color="#392a73"/><stop offset="0.25" stop-color="#3c3286"/><stop offset="0.3333" stop-color="#3e3891"/><stop offset="0.4167" stop-color="#4040a2"/><stop offset="0.5" stop-color="#4249b1"/><stop offset="0.5833" stop-color="#4451bf"/><stop offset="0.6667" stop-color="#4559cb"/><stop offset="0.75" stop-color="#4661d6"/><stop offset="0.8333" stop-color="#4666dd"/><stop offset="0.9167" stop-color="#4669e0"/><stop offset="1" stop-color="#466be3"/></linearGradient>
<linearGradient id="g262"><stop offset="0" stop-color="#36215f"/><stop offset="0.08333" stop-color="#372466"/><stop offset="0.1667" stop-color="#392a73"/><stop offset="0.25" stop-color="#3b2f80"/><stop offset="0.3333" stop-color="#3d358b"/><stop offset="0.4167" stop-color="#3f3e9c"/><stop offset="0.5" stop-color="#4146ac"/><stop offset="0.5833" stop-color="#434eba"/><stop offset="0.6667" stop-color="#4456c7"/><stop offset="0.75" stop-color="#455ed3"/><stop offset="0.8333" stop-color="#4664da"/><stop offset="0.9167" stop-color="#4669e0"/><stop offset="1" stop-color="#4669e0"/></linearGradient>
<linearGradient id="g263"><stop offset="0" stop-color="#36215f"/><stop offset="0.08333" stop-color="#36215f"/><stop offset="0.1667" stop-color="#38276d"/><stop offset="0.25" stop-color="#3a2d79"/><stop offset="0.3333" stop-color="#3d358b"/><stop offset="0.4167" stop-color="#3f3e9c"/><stop offset="0.5" stop-color="#4146ac"/><stop offset="0.5833" stop-color="#434eba"/><stop offset="0.6667" stop-color="#4456c7"/><stop offset="0.75" stop-color="#455ccf"/><stop offset="0.8333" stop-color="#4661d6"/><stop offset="0.9167" stop-color="#4666dd"/><stop offset="1" stop-color="#4666dd"/></linearGradient>
<linearGradient id="g264"><stop offset="0" stop-color="#351e58"/><stop offset="0.08333" stop-color="#36215f"/><stop offset="0.1667" stop-color="#372466"/><stop offset="0.25" stop-color="#392a73"/><stop offset="0.3333" stop-color="#3c3286"/><stop offset="0.4167" stop-color="#3f3b97"/><stop offset="0.5" stop-color="#4143a7"/><stop offset="0.5833" stop-color="#424bb5"/><stop offset="0.6667" stop-color="#4454c3"/><stop offset="0.75" stop-color="#4559cb"/><stop offset="0.8333" stop-color="#455ed3"/><stop offset="0.9167" stop-color="#4664da"/><stop offset="1" stop-color="#4666dd"/></linearGradient>
<linearGradient id="g265"><stop offset="0" stop-color="#341b51"/><stop offset="0.08333" stop-color="#351e58"/><stop offset="0.1667" stop-color="#36215f"/><stop offset="0.25" stop-color="#38276d"/><stop offset="0.3333" stop-color="#3b2f80"/><stop offset="0.4167" stop-color="#3e3891"/><stop offset="0.5" stop-color="#4040a2"/><stop offset="0.5833" stop-color="#4249b1"/><stop offset="0.6667" stop-color="#4451bf"/><stop offset="0.75" stop-color="#4559cb"/><stop offset="0.8333" stop-color="#455ed3"/><stop offset="0.9167" stop-color="#4661d6"/><stop offset="1" stop-color="#4664da"/></linearGradient>
<linearGradient id="g266"><stop offset="0" stop-color="#341b51"/><stop offset="0.08333" stop-color="#341b51"/><stop offset="0.1667" stop-color="#36215f"/><stop offset="0.25" stop-color="#38276d"/><stop offset="0.3333" stop-color="#3a2d79"/><stop offset="0.4167" stop-color="#3d358b"/><stop offset="0.5" stop-color="#3f3e9c"/><stop offset="0.5833" stop-color="#4146ac"/><stop offset="0.6667" stop-color="#434eba"/><stop offset="0.75" stop-color="#4456c7"/><stop offset="0.8333" stop-color="#455ccf"/><stop offset="0.9167" stop-color="#455ed3"/><stop offset="1" stop-color="#4661d6"/></linearGradient>
<linearGradient id="g267"><stop offset="0" stop-color="#33184a"/><stop offset="0.08333" stop-color="#341b51"/><stop offset="0.1667" stop-color="#351e58"/><stop offset="0.25" stop-color="#372466"/><stop offset="0.3333" stop-color="#3a2d79"/><stop offset="0.4167" stop-color="#3c3286"/><stop offset="0.5" stop-color="#3f3b97"/><stop offset="0.5833" stop-color="#4146ac"/><stop offset="0.6667" stop-color="#424bb5"/><stop offset="0.75" stop-color="#4454c3"/><stop offset="0.8333" stop-color="#4559cb"/><stop offset="0.9167" stop-color="#455ed3"/><stop offset="1" stop-color="#455ed3"/></linearGradient>
<linearGradient id="g268"><stop offset="0" stop-color="#33184a"/><stop offset="0.08333" stop-color="#33184a"/><stop offset="0.1667" stop-color="#341b51"/><stop offset="0.25" stop-color="#36215f"/><stop offset="0.3333" stop-color="#392a73"/><stop offset="0.4167" stop-color="#3c3286"/><stop offset="0.5" stop-color="#3f3b97"/><stop offset="0.5833" stop-color="#4143a7"/><stop offset="0.6667" stop-color="#424bb5"/><stop offset="0.75" stop-color="#4451bf"/><stop offset="0.8333" stop-color="#4559cb"/><stop offset="0.9167" stop-color="#455ccf"/><stop offset="1" stop-color="#455ed3"/></linearGradient>
<linearGradient id="cb"><stop offset="0" stop-color="#30123b"/><stop offset="0.02564" stop-color="#372466"/><stop offset="0.05128" stop-color="#3e3891"/><stop offset="0.07692" stop-color="#4249b1"/><stop offset="0.1026" stop-color="#455ccf"/><stop offset="0.1282" stop-color="#466be3"/><stop offset="0.1538" stop-color="#467df4"/><stop offset="0.1795" stop-color="#458cfd"/><stop offset="0.2051" stop-color="#3d9efe"/><stop offset="0.2308" stop-color="#31aff5"/><stop offset="0.2564" stop-color="#27bee9"/><stop offset="0.2821" stop-color="#1ccdd8"/><stop offset="0.3077" stop-color="#18d9c8"/><stop offset="0.3333" stop-color="#1ae4b6"/><stop offset="0.359" stop-color="#25eca7"/><stop offset="0.3846" stop-color="#38f491"/><stop offset="0.4103" stop-color="#52fa7a"/><stop offset="0.4359" stop-color="#69fd66"/><stop offset="0.4615" stop-color="#84ff51"/><stop offset="0.4872" stop-color="#99fe42"/><stop offset="0.5128" stop-color="#acfb38"/><stop offset="0.5385" stop-color="#bcf534"/><stop offset="0.5641" stop-color="#cdec34"/><stop offset="0.5897" stop-color="#dbe236"/><stop offset="0.6154" stop-color="#e9d539"/><stop offset="0.641" stop-color="#f4c73a"/><stop offset="0.6667" stop-color="#faba39"/><stop offset="0.6923" stop-color="#fea933"/><stop offset="0.7179" stop-color="#fe992c"/><stop offset="0.7436" stop-color="#fc8423"/><stop offset="0.7692" stop-color="#f8721c"/><stop offset="0.7949" stop-color="#f15d13"/><stop offset="0.8205" stop-color="#e84b0c"/><stop offset="0.8462" stop-color="#df3f08"/><stop offset="0.8718" stop-color="#d23105"/><stop offset="0.8974" stop-color="#c52603"/><stop offset="0.9231" stop-color="#b41b01"/><stop offset="0.9487" stop-color="#a41301"/><stop offset="0.9744" stop-color="#8e0a01"/><stop offset="1" stop-color="#7a0403"/></linearGradient>
</defs>
<rect width="685" height="698" fill="#fff"/>
<g shape-rendering="crispEdges">
<rect x="84.5" y="76.4" width="588.0" height="2.60" fill="url(#g0)"/>
<rect x="84.5" y="78.4" width="588.0" height="2.60" fill="url(#g1)"/>
<rect x="84.5" y="80.4" width="588.0" height="2.60" fill="url(#g2)"/>
<rect x="84.5" y="82.4" width="588.0" height="2.60" fill="url(#g3)"/>
<rect x="84.5" y="84.4" width="588.0" height="2.60" fill="url(#g4)"/>
<rect x="84.5" y="86.4" width="588.0" height="2.60" fill="url(#g5)"/>
<rect x="84.5" y="88.4" width="588.0" height="2.60" fill="url(#g6)"/>
<rect x="84.5" y="90.4" width="588.0" height="2.60" fill="url(#g7)"/>
<rect x="84.5" y="92.4" width="588.0" height="2.60" fill="url(#g8)"/>
<rect x="84.5" y="94.4" width="588.0" height="2.60" fill="url(#g9)"/>
<rect x="84.5" y="96.4" width="588.0" height="2.60" fill="url(#g10)"/>
<rect x="84.5" y="98.4" width="588.0" height="2.60" fill="url(#g11)"/>
<rect x="84.5" y="100.4" width="588.0" height="2.60" fill="url(#g12)"/>
<rect x="84.5" y="102.4" width="588.0" height="2.60" fill="url(#g13)"/>
<rect x="84.5" y="104.4" width="588.0" height="2.60" fill="url(#g14)"/>
<rect x="84.5" y="106.4" width="588.0" height="2.60" fill="url(#g15)"/>
<rect x="84.5" y="108.4" width="588.0" height="2.60" fill="url(#g16)"/>
<rect x="84.5" y="110.4" width="588.0" height="2.60" fill="url(#g17)"/>
<rect x="84.5" y="112.4" width="588.0" height="2.60" fill="url(#g18)"/>
<rect x="84.5" y="114.4" width="588.0" height="2.60" fill="url(#g19)"/>
<rect x="84.5" y="116.4" width="588.0" height="2.60" fill="url(#g20)"/>
<rect x="84.5" y="118.4" width="588.0" height="2.60" fill="url(#g21)"/>
<rect x="84.5" y="120.4" width="588.0" height="2.60" fill="url(#g22)"/>
<rect x="84.5" y="122.4" width="588.0" height="2.60" fill="url(#g23)"/>
<rect x="84.5" y="124.4" width="588.0" height="2.60" fill="url(#g24)"/>
<rect x="84.5" y="126.4" width="588.0" height="2.60" fill="url(#g25)"/>
<rect x="84.5" y="128.4" width="588.0" height="2.60" fill="url(#g26)"/>
<rect x="84.5" y="130.4" width="588.0" height="2.60" fill="url(#g27)"/>
<rect x="84.5" y="132.4" width="588.0" height="2.60" fill="url(#g28)"/>
<rect x="84.5" y="134.4" width="588.0" height="2.60" fill="url(#g29)"/>
<rect x="84.5" y="136.4" width="588.0" height="2.60" fill="url(#g30)"/>
<rect x="84.5" y="138.4" width="588.0" height="2.60" fill="url(#g31)"/>
<rect x="84.5" y="140.4" width="588.0" height="2.60" fill="url(#g32)"/>
<rect x="84.5" y="142.4" width="588.0" height="2.60" fill="url(#g33)"/>
<rect x="84.5" y="144.4" width="588.0" height="2.60" fill="url(#g34)"/>
<rect x="84.5" y="146.4" width="588.0" height="2.60" fill="url(#g35)"/>
<rect x="84.5" y="148.4" width="588.0" height="2.60" fill="url(#g36)"/>
<rect x="84.5" y="150.4" width="588.0" height="2.60" fill="url(#g37)"/>
<rect x="84.5" y="152.4" width="588.0" height="2.60" fill="url(#g38)"/>
<rect x="84.5" y="154.4" width="588.0" height="2.60" fill="url(#g39)"/>
<rect x="84.5" y="156.4" width="588.0" height="2.60" fill="url(#g40)"/>
<rect x="84.5" y="158.4" width="588.0" height="2.60" fill="url(#g41)"/>
<rect x="84.5" y="160.4" width="588.0" height="2.60" fill="url(#g42)"/>
<rect x="84.5" y="162.4" width="588.0" height="2.60" fill="url(#g43)"/>
<rect x="84.5" y="164.4" width="588.0" height="2.60" fill="url(#g44)"/>
<rect x="84.5" y="166.4" width="588.0" height="2.60" fill="url(#g45)"/>
<rect x="84.5" y="168.4" width="588.0" height="2.60" fill="url(#g46)"/>
<rect x="84.5" y="170.4" width="588.0" height="2.60" fill="url(#g47)"/>
<rect x="84.5" y="172.4" width="588.0" height="2.60" fill="url(#g48)"/>
<rect x="84.5" y="174.4" width="588.0" height="2.60" fill="url(#g49)"/>
<rect x="84.5" y="176.4" width="588.0" height="2.60" fill="url(#g50)"/>
<rect x="84.5" y="178.4" width="588.0" height="2.60" fill="url(#g51)"/>
<rect x="84.5" y="180.4" width="588.0" height="2.60" fill="url(#g52)"/>
<rect x="84.5" y="182.4" width="588.0" height="2.60" fill="url(#g53)"/>
<rect x="84.5" y="184.4" width="588.0" height="2.60" fill="url(#g54)"/>
<rect x="84.5" y="186.4" width="588.0" height="2.60" fill="url(#g55)"/>
<rect x="84.5" y="188.4" width="588.0" height="2.60" fill="url(#g56)"/>
<rect x="84.5" y="190.4" width="588.0" height="2.60" fill="url(#g57)"/>
<rect x="84.5" y="192.4" width="588.0" height="2.60" fill="url(#g58)"/>
<rect x="84.5" y="194.4" width="588.0" height="2.60" fill="url(#g59)"/>
<rect x="84.5" y="196.4" width="588.0" height="2.60" fill="url(#g60)"/>
<rect x="84.5" y="198.4" width="588.0" height="2.60" fill="url(#g61)"/>
<rect x="84.5" y="200.4" width="588.0" height="2.60" fill="url(#g62)"/>
<rect x="84.5" y="202.4" width="588.0" height="2.60" fill="url(#g63)"/>
<rect x="84.5" y="204.4" width="588.0" height="2.60" fill="url(#g64)"/>
<rect x="84.5" y="206.4" width="588.0" height="2.60" fill="url(#g65)"/>
<rect x="84.5" y="208.4" width="588.0" height="2.60" fill="url(#g66)"/>
<rect x="84.5" y="210.4" width="588.0" height="2.60" fill="url(#g67)"/>
<rect x="84.5" y="212.4" width="588.0" height="2.60" fill="url(#g68)"/>
<rect x="84.5" y="214.4" width="588.0" height="2.60" fill="url(#g69)"/>
<rect x="84.5" y="216.4" width="588.0" height="2.60" fill="url(#g70)"/>
<rect x="84.5" y="218.4" width="588.0" height="2.60" fill="url(#g71)"/>
<rect x="84.5" y="220.4" width="588.0" height="2.60" fill="url(#g72)"/>
<rect x="84.5" y="222.4" width="588.0" height="2.60" fill="url(#g73)"/>
<rect x="84.5" y="224.4" width="588.0" height="2.60" fill="url(#g74)"/>
<rect x="84.5" y="226.4" width="588.0" height="2.60" fill="url(#g75)"/>
<rect x="84.5" y="228.4" width="588.0" height="2.60" fill="url(#g76)"/>
<rect x="84.5" y="230.4" width="588.0" height="2.60" fill="url(#g77)"/>
<rect x="84.5" y="232.4" width="588.0" height="2.60" fill="url(#g78)"/>
<rect x="84.5" y="234.4" width="588.0" height="2.60" fill="url(#g79)"/>
<rect x="84.5" y="236.4" width="588.0" height="2.60" fill="url(#g80)"/>
<rect x="84.5" y="238.4" width="588.0" height="2.60" fill="url(#g81)"/>
<rect x="84.5" y="240.4" width="588.0" height="2.60" fill="url(#g82)"/>
<rect x="84.5" y="242.4" width="588.0" height="2.60" fill="url(#g83)"/>
<rect x="84.5" y="244.4" width="588.0" height="2.60" fill="url(#g84)"/>
<rect x="84.5" y="246.4" width="588.0" height="2.60" fill="url(#g85)"/>
<rect x="84.5" y="248.4" width="588.0" height="2.60" fill="url(#g86)"/>
<rect x="84.5" y="250.4" width="588.0" height="2.60" fill="url(#g87)"/>
<rect x="84.5" y="252.4" width="588.0" height="2.60" fill="url(#g88)"/>
<rect x="84.5" y="254.4" width="588.0" height="2.60" fill="url(#g89)"/>
<rect x="84.5" y="256.4" width="588.0" height="2.60" fill="url(#g90)"/>
<rect x="84.5" y="258.4" width="588.0" height="2.60" fill="url(#g91)"/>
<rect x="84.5" y="260.4" width="588.0" height="2.60" fill="url(#g92)"/>
<rect x="84.5" y="262.4" width="588.0" height="2.60" fill="url(#g93)"/>
<rect x="84.5" y="264.4" width="588.0" height="2.60" fill="url(#g94)"/>
<rect x="84.5" y="266.4" width="588.0" height="2.60" fill="url(#g95)"/>
<rect x="84.5" y="268.4" width="588.0" height="2.60" fill="url(#g96)"/>
<rect x="84.5" y="270.4" width="588.0" height="2.60" fill="url(#g97)"/>
<rect x="84.5" y="272.4" width="588.0" height="2.60" fill="url(#g98)"/>
<rect x="84.5" y="274.4" width="588.0" height="2.60" fill="url(#g99)"/>
<rect x="84.5" y="276.4" width="588.0" height="2.60" fill="url(#g100)"/>
<rect x="84.5" y="278.4" width="588.0" height="2.60" fill="url(#g101)"/>
<rect x="84.5" y="280.4" width="588.0" height="2.60" fill="url(#g102)"/>
<rect x="84.5" y="282.4" width="588.0" height="2.60" fill="url(#g103)"/>
<rect x="84.5" y="284.4" width="588.0" height="2.60" fill="url(#g104)"/>
<rect x="84.5" y="286.4" width="588.0" height="2.60" fill="url(#g105)"/>
<rect x="84.5" y="288.4" width="588.0" height="2.60" fill="url(#g106)"/>
<rect x="84.5" y="290.4" width="588.0" height="2.60" fill="url(#g107)"/>
<rect x="84.5" y="292.4" width="588.0" height="2.60" fill="url(#g108)"/>
<rect x="84.5" y="294.4" width="588.0" height="2.60" fill="url(#g109)"/>
<rect x="84.5" y="296.4" width="588.0" height="2.60" fill="url(#g110)"/>
<rect x="84.5" y="298.4" width="588.0" height="2.60" fill="url(#g111)"/>
<rect x="84.5" y="300.4" width="588.0" height="2.60" fill="url(#g112)"/>
<rect x="84.5" y="302.4" width="588.0" height="2.60" fill="url(#g113)"/>
<rect x="84.5" y="304.4" width="588.0" height="2.60" fill="url(#g114)"/>
<rect x="84.5" y="306.4" width="588.0" height="2.60" fill="url(#g115)"/>
<rect x="84.5" y="308.4" width="588.0" height="2.60" fill="url(#g116)"/>
<rect x="84.5" y="310.4" width="588.0" height="2.60" fill="url(#g117)"/>
<rect x="84.5" y="312.4" width="588.0" height="2.60" fill="url(#g118)"/>
<rect x="84.5" y="314.4" width="588.0" height="2.60" fill="url(#g119)"/>
<rect x="84.5" y="316.4" width="588.0" height="2.60" fill="url(#g120)"/>
<rect x="84.5" y="318.4" width="588.0" height="2.60" fill="url(#g121)"/>
<rect x="84.5" y="320.4" width="588.0" height="2.60" fill="url(#g122)"/>
<rect x="84.5" y="322.4" width="588.0" height="2.60" fill="url(#g123)"/>
<rect x="84.5" y="324.4" width="588.0" height="2.60" fill="url(#g124)"/>
<rect x="84.5" y="326.4" width="588.0" height="2.60" fill="url(#g125)"/>
<rect x="84.5" y="328.4" width="588.0" height="2.60" fill="url(#g126)"/>
<rect x="84.5" y="330.4" width="588.0" height="2.60" fill="url(#g127)"/>
<rect x="84.5" y="332.4" width="588.0" height="2.60" fill="url(#g128)"/>
<rect x="84.5" y="334.4" width="588.0" height="2.60" fill="url(#g129)"/>
<rect x="84.5" y="336.4" width="588.0" height="2.60" fill="url(#g130)"/>
<rect x="84.5" y="338.4" width="588.0" height="2.60" fill="url(#g131)"/>
<rect x="84.5" y="340.4" width="588.0" height="2.60" fill="url(#g132)"/>
<rect x="84.5" y="342.4" width="588.0" height="2.60" fill="url(#g133)"/>
<rect x="84.5" y="344.4" width="588.0" height="2.60" fill="url(#g134)"/>
<rect x="84.5" y="346.4" width="588.0" height="2.60" fill="url(#g135)"/>
<rect x="84.5" y="348.4" width="588.0" height="2.60" fill="url(#g136)"/>
<rect x="84.5" y="350.4" width="588.0" height="2.60" fill="url(#g137)"/>
<rect x="84.5" y="352.4" width="588.0" height="2.60" fill="url(#g138)"/>
<rect x="84.5" y="354.4" width="588.0" height="2.60" fill="url(#g139)"/>
<rect x="84.5" y="356.4" width="588.0" height="2.60" fill="url(#g140)"/>
<rect x="84.5" y="358.4" width="588.0" height="2.60" fill="url(#g141)"/>
<rect x="84.5" y="360.4" width="588.0" height="2.60" fill="url(#g142)"/>
<rect x="84.5" y="362.4" width="588.0" height="2.60" fill="url(#g143)"/>
<rect x="84.5" y="364.4" width="588.0" height="2.60" fill="url(#g144)"/>
<rect x="84.5" y="366.4" width="588.0" height="2.60" fill="url(#g145)"/>
<rect x="84.5" y="368.4" width="588.0" height="2.60" fill="url(#g146)"/>
<rect x="84.5" y="370.4" width="588.0" height="2.60" fill="url(#g147)"/>
<rect x="84.5" y="372.4" width="588.0" height="2.60" fill="url(#g148)"/>
<rect x="84.5" y="374.4" width="588.0" height="2.60" fill="url(#g149)"/>
<rect x="84.5" y="376.4" width="588.0" height="2.60" fill="url(#g150)"/>
<rect x="84.5" y="378.4" width="588.0" height="2.60" fill="url(#g151)"/>
<rect x="84.5" y="380.4" width="588.0" height="2.60" fill="url(#g152)"/>
<rect x="84.5" y="382.4" width="588.0" height="2.60" fill="url(#g153)"/>
<rect x="84.5" y="384.4" width="588.0" height="2.60" fill="url(#g154)"/>
<rect x="84.5" y="386.4" width="588.0" height="2.60" fill="url(#g155)"/>
<rect x="84.5" y="388.4" width="588.0" height="2.60" fill="url(#g156)"/>
<rect x="84.5" y="390.4" width="588.0" height="2.60" fill="url(#g157)"/>
<rect x="84.5" y="392.4" width="588.0" height="2.60" fill="url(#g158)"/>
<rect x="84.5" y="394.4" width="588.0" height="2.60" fill="url(#g159)"/>
<rect x="84.5" y="396.4" width="588.0" height="2.60" fill="url(#g160)"/>
<rect x="84.5" y="398.4" width="588.0" height="2.60" fill="url(#g161)"/>
<rect x="84.5" y="400.4" width="588.0" height="2.60" fill="url(#g162)"/>
<rect x="84.5" y="402.4" width="588.0" height="2.60" fill="url(#g163)"/>
<rect x="84.5" y="404.4" width="588.0" height="2.60" fill="url(#g164)"/>
<rect x="84.5" y="406.4" width="588.0" height="2.60" fill="url(#g165)"/>
<rect x="84.5" y="408.4" width="588.0" height="2.60" fill="url(#g166)"/>
<rect x="84.5" y="410.4" width="588.0" height="2.60" fill="url(#g167)"/>
<rect x="84.5" y="412.4" width="588.0" height="2.60" fill="url(#g168)"/>
<rect x="84.5" y="414.4" width="588.0" height="2.60" fill="url(#g169)"/>
<rect x="84.5" y="416.4" width="588.0" height="2.60" fill="url(#g170)"/>
<rect x="84.5" y="418.4" width="588.0" height="2.60" fill="url(#g171)"/>
<rect x="84.5" y="420.4" width="588.0" height="2.60" fill="url(#g172)"/>
<rect x="84.5" y="422.4" width="588.0" height="2.60" fill="url(#g173)"/>
<rect x="84.5" y="424.4" width="588.0" height="2.60" fill="url(#g174)"/>
<rect x="84.5" y="426.4" width="588.0" height="2.60" fill="url(#g175)"/>
<rect x="84.5" y="428.4" width="588.0" height="2.60" fill="url(#g176)"/>
<rect x="84.5" y="430.4" width="588.0" height="2.60" fill="url(#g177)"/>
<rect x="84.5" y="432.4" width="588.0" height="2.60" fill="url(#g178)"/>
<rect x="84.5" y="434.4" width="588.0" height="2.60" fill="url(#g179)"/>
<rect x="84.5" y="436.4" width="588.0" height="2.60" fill="url(#g180)"/>
<rect x="84.5" y="438.4" width="588.0" height="2.60" fill="url(#g181)"/>
<rect x="84.5" y="440.4" width="588.0" height="2.60" fill="url(#g182)"/>
<rect x="84.5" y="442.4" width="588.0" height="2.60" fill="url(#g183)"/>
<rect x="84.5" y="444.4" width="588.0" height="2.60" fill="url(#g184)"/>
<rect x="84.5" y="446.4" width="588.0" height="2.60" fill="url(#g185)"/>
<rect x="84.5" y="448.4" width="588.0" height="2.60" fill="url(#g186)"/>
<rect x="84.5" y="450.4" width="588.0" height="2.60" fill="url(#g187)"/>
<rect x="84.5" y="452.4" width="588.0" height="2.60" fill="url(#g188)"/>
<rect x="84.5" y="454.4" width="588.0" height="2.60" fill="url(#g189)"/>
<rect x="84.5" y="456.4" width="588.0" height="2.60" fill="url(#g190)"/>
<rect x="84.5" y="458.4" width="588.0" height="2.60" fill="url(#g191)"/>
<rect x="84.5" y="460.4" width="588.0" height="2.60" fill="url(#g192)"/>
<rect x="84.5" y="462.4" width="588.0" height="2.60" fill="url(#g193)"/>
<rect x="84.5" y="464.4" width="588.0" height="2.60" fill="url(#g194)"/>
<rect x="84.5" y="466.4" width="588.0" height="2.60" fill="url(#g195)"/>
<rect x="84.5" y="468.4" width="588.0" height="2.60" fill="url(#g196)"/>
<rect x="84.5" y="470.4" width="588.0" height="2.60" fill="url(#g197)"/>
<rect x="84.5" y="472.4" width="588.0" height="2.60" fill="url(#g198)"/>
<rect x="84.5" y="474.4" width="588.0" height="2.60" fill="url(#g199)"/>
<rect x="84.5" y="476.4" width="588.0" height="2.60" fill="url(#g200)"/>
<rect x="84.5" y="478.4" width="588.0" height="2.60" fill="url(#g201)"/>
<rect x="84.5" y="480.4" width="588.0" height="2.60" fill="url(#g202)"/>
<rect x="84.5" y="482.4" width="588.0" height="2.60" fill="url(#g203)"/>
<rect x="84.5" y="484.4" width="588.0" height="2.60" fill="url(#g204)"/>
<rect x="84.5" y="486.4" width="588.0" height="2.60" fill="url(#g205)"/>
<rect x="84.5" y="488.4" width="588.0" height="2.60" fill="url(#g206)"/>
<rect x="84.5" y="490.4" width="588.0" height="2.60" fill="url(#g207)"/>
<rect x="84.5" y="492.4" width="588.0" height="2.60" fill="url(#g208)"/>
<rect x="84.5" y="494.4" width="588.0" height="2.60" fill="url(#g209)"/>
<rect x="84.5" y="496.4" width="588.0" height="2.60" fill="url(#g210)"/>
<rect x="84.5" y="498.4" width="588.0" height="2.60" fill="url(#g211)"/>
<rect x="84.5" y="500.4" width="588.0" height="2.60" fill="url(#g212)"/>
<rect x="84.5" y="502.4" width="588.0" height="2.60" fill="url(#g213)"/>
<rect x="84.5" y="504.4" width="588.0" height="2.60" fill="url(#g214)"/>
<rect x="84.5" y="506.4" width="588.0" height="2.60" fill="url(#g215)"/>
<rect x="84.5" y="508.4" width="588.0" height="2.60" fill="url(#g216)"/>
<rect x="84.5" y="510.4" width="588.0" height="2.60" fill="url(#g217)"/>
<rect x="84.5" y="512.4" width="588.0" height="2.60" fill="url(#g218)"/>
<rect x="84.5" y="514.4" width="588.0" height="2.60" fill="url(#g219)"/>
<rect x="84.5" y="516.4" width="588.0" height="2.60" fill="url(#g220)"/>
<rect x="84.5" y="518.4" width="588.0" height="2.60" fill="url(#g221)"/>
<rect x="84.5" y="520.4" width="588.0" height="2.60" fill="url(#g222)"/>
<rect x="84.5" y="522.4" width="588.0" height="2.60" fill="url(#g223)"/>
<rect x="84.5" y="524.4" width="588.0" height="2.60" fill="url(#g224)"/>
<rect x="84.5" y="526.4" width="588.0" height="2.60" fill="url(#g225)"/>
<rect x="84.5" y="528.4" width="588.0" height="2.60" fill="url(#g226)"/>
<rect x="84.5" y="530.4" width="588.0" height="2.60" fill="url(#g227)"/>
<rect x="84.5" y="532.4" width="588.0" height="2.60" fill="url(#g228)"/>
<rect x="84.5" y="534.4" width="588.0" height="2.60" fill="url(#g229)"/>
<rect x="84.5" y="536.4" width="588.0" height="2.60" fill="url(#g230)"/>
<rect x="84.5" y="538.4" width="588.0" height="2.60" fill="url(#g231)"/>
<rect x="84.5" y="540.4" width="588.0" height="2.60" fill="url(#g232)"/>
<rect x="84.5" y="542.4" width="588.0" height="2.60" fill="url(#g233)"/>
<rect x="84.5" y="544.4" width="588.0" height="2.60" fill="url(#g234)"/>
<rect x="84.5" y="546.4" width="588.0" height="2.60" fill="url(#g235)"/>
<rect x="84.5" y="548.4" width="588.0" height="2.60" fill="url(#g236)"/>
<rect x="84.5" y="550.4" width="588.0" height="2.60" fill="url(#g237)"/>
<rect x="84.5" y="552.4" width="588.0" height="2.60" fill="url(#g238)"/>
<rect x="84.5" y="554.4" width="588.0" height="2.60" fill="url(#g239)"/>
<rect x="84.5" y="556.4" width="588.0" height="2.60" fill="url(#g240)"/>
<rect x="84.5" y="558.4" width="588.0" height="2.60" fill="url(#g241)"/>
<rect x="84.5" y="560.4" width="588.0" height="2.60" fill="url(#g242)"/>
<rect x="84.5" y="562.4" width="588.0" height="2.60" fill="url(#g243)"/>
<rect x="84.5" y="564.4" width="588.0" height="2.60" fill="url(#g244)"/>
<rect x="84.5" y="566.4" width="588.0" height="2.60" fill="url(#g245)"/>
<rect x="84.5" y="568.4" width="588.0" height="2.60" fill="url(#g246)"/>
<rect x="84.5" y="570.4" width="588.0" height="2.60" fill="url(#g247)"/>
<rect x="84.5" y="572.4" width="588.0" height="2.60" fill="url(#g248)"/>
<rect x="84.5" y="574.4" width="588.0" height="2.60" fill="url(#g249)"/>
<rect x="84.5" y="576.4" width="588.0" height="2.60" fill="url(#g250)"/>
<rect x="84.5" y="578.4" width="588.0" height="2.60" fill="url(#g251)"/>
<rect x="84.5" y="580.4" width="588.0" height="2.60" fill="url(#g252)"/>
<rect x="84.5" y="582.4" width="588.0" height="2.60" fill="url(#g253)"/>
<rect x="84.5" y="584.4" width="588.0" height="2.60" fill="url(#g254)"/>
<rect x="84.5" y="586.4" width="588.0" height="2.60" fill="url(#g255)"/>
<rect x="84.5" y="588.4" width="588.0" height="2.60" fill="url(#g256)"/>
<rect x="84.5" y="590.4" width="588.0" height="2.60" fill="url(#g257)"/>
<rect x="84.5" y="592.4" width="588.0" height="2.60" fill="url(#g258)"/>
<rect x="84.5" y="594.4" width="588.0" height="2.60" fill="url(#g259)"/>
<rect x="84.5" y="596.4" width="588.0" height="2.60" fill="url(#g260)"/>
<rect x="84.5" y="598.4" width="588.0" height="2.60" fill="url(#g261)"/>
<rect x="84.5" y="600.4" width="588.0" height="2.60" fill="url(#g262)"/>
<rect x="84.5" y="602.4" width="588.0" height="2.60" fill="url(#g263)"/>
<rect x="84.5" y="604.4" width="588.0" height="2.60" fill="url(#g264)"/>
<rect x="84.5" y="606.4" width="588.0" height="2.60" fill="url(#g265)"/>
<rect x="84.5" y="608.4" width="588.0" height="2.60" fill="url(#g266)"/>
<rect x="84.5" y="610.4" width="588.0" height="2.60" fill="url(#g267)"/>
<rect x="84.5" y="612.4" width="588.0" height="1.30" fill="url(#g268)"/>
</g>
<rect x="84.0" y="32.0" width="588.5" height="30.0" fill="url(#cb)" stroke="#262626" stroke-width="1"/>
<line x1="133.1" x2="133.1" y1="32.0" y2="38.0" stroke="#262626" stroke-width="1"/>
<text x="133.1" y="16.6" font-size="21.1" text-anchor="middle" class="cbl" textLength="31" lengthAdjust="spacingAndGlyphs">180</text>
<line x1="196.0" x2="196.0" y1="32.0" y2="38.0" stroke="#262626" stroke-width="1"/>
<text x="196.0" y="16.6" font-size="21.1" text-anchor="middle" class="cbl" textLength="31" lengthAdjust="spacingAndGlyphs">200</text>
<line x1="259.0" x2="259.0" y1="32.0" y2="38.0" stroke="#262626" stroke-width="1"/>
<text x="259.0" y="16.6" font-size="21.1" text-anchor="middle" class="cbl" textLength="31" lengthAdjust="spacingAndGlyphs">220</text>
<line x1="321.9" x2="321.9" y1="32.0" y2="38.0" stroke="#262626" stroke-width="1"/>
<text x="321.9" y="16.6" font-size="21.1" text-anchor="middle" class="cbl" textLength="31" lengthAdjust="spacingAndGlyphs">240</text>
<line x1="384.9" x2="384.9" y1="32.0" y2="38.0" stroke="#262626" stroke-width="1"/>
<text x="384.9" y="16.6" font-size="21.1" text-anchor="middle" class="cbl" textLength="31" lengthAdjust="spacingAndGlyphs">260</text>
<line x1="447.8" x2="447.8" y1="32.0" y2="38.0" stroke="#262626" stroke-width="1"/>
<text x="447.8" y="16.6" font-size="21.1" text-anchor="middle" class="cbl" textLength="31" lengthAdjust="spacingAndGlyphs">280</text>
<line x1="510.7" x2="510.7" y1="32.0" y2="38.0" stroke="#262626" stroke-width="1"/>
<text x="510.7" y="16.6" font-size="21.1" text-anchor="middle" class="cbl" textLength="31" lengthAdjust="spacingAndGlyphs">300</text>
<line x1="573.7" x2="573.7" y1="32.0" y2="38.0" stroke="#262626" stroke-width="1"/>
<text x="573.7" y="16.6" font-size="21.1" text-anchor="middle" class="cbl" textLength="31" lengthAdjust="spacingAndGlyphs">320</text>
<line x1="636.6" x2="636.6" y1="32.0" y2="38.0" stroke="#262626" stroke-width="1"/>
<text x="636.6" y="16.6" font-size="21.1" text-anchor="middle" class="cbl" textLength="31" lengthAdjust="spacingAndGlyphs">340</text>
<path d="M84.3 76.4 V613.8 H672.7 V76.4" fill="none" stroke="#141414" stroke-width="1.5"/>
<text x="75.50" y="619.60" font-size="27.80" text-anchor="end" textLength="14.10" lengthAdjust="spacingAndGlyphs" class="tk">7</text>
<text x="75.50" y="533.87" font-size="27.80" text-anchor="end" textLength="14.10" lengthAdjust="spacingAndGlyphs" class="tk">8</text>
<text x="75.50" y="448.14" font-size="27.80" text-anchor="end" textLength="14.10" lengthAdjust="spacingAndGlyphs" class="tk">9</text>
<text x="75.50" y="362.41" font-size="27.80" text-anchor="end" textLength="28.60" lengthAdjust="spacingAndGlyphs" class="tk">10</text>
<text x="75.50" y="276.68" font-size="27.80" text-anchor="end" textLength="28.60" lengthAdjust="spacingAndGlyphs" class="tk">11</text>
<text x="75.50" y="190.95" font-size="27.80" text-anchor="end" textLength="28.60" lengthAdjust="spacingAndGlyphs" class="tk">12</text>
<text x="75.50" y="105.22" font-size="27.80" text-anchor="end" textLength="28.60" lengthAdjust="spacingAndGlyphs" class="tk">13</text>
<text x="85.30" y="645.90" font-size="27.80" text-anchor="middle" textLength="28.90" lengthAdjust="spacingAndGlyphs" class="tk">15</text>
<text x="241.75" y="645.90" font-size="27.80" text-anchor="middle" textLength="50.65" lengthAdjust="spacingAndGlyphs" class="tk">15.5</text>
<text x="398.21" y="645.90" font-size="27.80" text-anchor="middle" textLength="28.90" lengthAdjust="spacingAndGlyphs" class="tk">16</text>
<text x="554.66" y="645.90" font-size="27.80" text-anchor="middle" textLength="50.65" lengthAdjust="spacingAndGlyphs" class="tk">16.5</text>
<text y="686.00" font-size="34.80"><tspan x="206.50" textLength="72.89" lengthAdjust="spacingAndGlyphs">Tube</tspan> <tspan x="291.25" textLength="136.00" lengthAdjust="spacingAndGlyphs">Diameter</tspan> <tspan x="437.55" textLength="25.03" lengthAdjust="spacingAndGlyphs">D</tspan> <tspan x="471.00" textLength="79.79" lengthAdjust="spacingAndGlyphs">(mm)</tspan></text>
<text transform="translate(28.60 0) rotate(-90)" y="0" font-size="34.80"><tspan x="-509.25" textLength="97.88" lengthAdjust="spacingAndGlyphs">Leaflet</tspan> <tspan x="-400.40" textLength="96.97" lengthAdjust="spacingAndGlyphs">Height</tspan> <tspan x="-292.30" textLength="23.51" lengthAdjust="spacingAndGlyphs">H</tspan> <tspan x="-258.70" textLength="77.98" lengthAdjust="spacingAndGlyphs">(mm)</tspan></text>
<text x="93.20" y="165.80" font-size="41.00" textLength="27.09" lengthAdjust="spacingAndGlyphs">A</text>
<text x="471.70" y="266.50" font-size="41.00" textLength="26.20" lengthAdjust="spacingAndGlyphs">B</text>
<text x="644.35" y="326.00" font-size="41.00" textLength="26.67" lengthAdjust="spacingAndGlyphs">C</text>
<text x="553.90" y="165.90" font-size="41.00" textLength="14.40" lengthAdjust="spacingAndGlyphs">I</text>
<text x="271.45" y="484.40" font-size="41.00" textLength="27.69" lengthAdjust="spacingAndGlyphs">II</text>
<circle cx="85.0" cy="76.4" r="9.2" fill="#e0fdfb" stroke="#3440dc" stroke-width="1.4"/>
<circle cx="280.6" cy="76.4" r="9.2" fill="#e0fdfb" stroke="#3440dc" stroke-width="1.4"/>
<circle cx="476.1" cy="76.4" r="9.2" fill="#e0fdfb" stroke="#3440dc" stroke-width="1.4"/>
<circle cx="671.7" cy="76.4" r="9.2" fill="#e0fdfb" stroke="#3440dc" stroke-width="1.4"/>
<circle cx="241.5" cy="183.8" r="9.2" fill="#e0fdfb" stroke="#3440dc" stroke-width="1.4"/>
<circle cx="397.9" cy="183.8" r="9.2" fill="#e0fdfb" stroke="#3440dc" stroke-width="1.4"/>
<circle cx="476.1" cy="183.8" r="9.2" fill="#e0fdfb" stroke="#3440dc" stroke-width="1.4"/>
<circle cx="671.7" cy="183.8" r="9.2" fill="#e0fdfb" stroke="#3440dc" stroke-width="1.4"/>
<circle cx="593.5" cy="226.7" r="9.2" fill="#e0fdfb" stroke="#3440dc" stroke-width="1.4"/>
<circle cx="397.9" cy="269.7" r="9.2" fill="#e0fdfb" stroke="#3440dc" stroke-width="1.4"/>
<circle cx="280.6" cy="291.2" r="9.2" fill="#e0fdfb" stroke="#3440dc" stroke-width="1.4"/>
<circle cx="554.4" cy="291.2" r="9.2" fill="#e0fdfb" stroke="#3440dc" stroke-width="1.4"/>
<circle cx="593.5" cy="355.6" r="9.2" fill="#e0fdfb" stroke="#3440dc" stroke-width="1.4"/>
<circle cx="85.0" cy="398.5" r="9.2" fill="#e0fdfb" stroke="#3440dc" stroke-width="1.4"/>
<circle cx="280.6" cy="398.5" r="9.2" fill="#e0fdfb" stroke="#3440dc" stroke-width="1.4"/>
<circle cx="476.1" cy="398.5" r="9.2" fill="#e0fdfb" stroke="#3440dc" stroke-width="1.4"/>
<circle cx="476.1" cy="505.9" r="9.2" fill="#e0fdfb" stroke="#3440dc" stroke-width="1.4"/>
<circle cx="671.7" cy="505.9" r="9.2" fill="#e0fdfb" stroke="#3440dc" stroke-width="1.4"/>
<circle cx="85.0" cy="613.3" r="9.2" fill="#e0fdfb" stroke="#3440dc" stroke-width="1.4"/>
<circle cx="476.1" cy="613.3" r="9.2" fill="#e0fdfb" stroke="#3440dc" stroke-width="1.4"/>
<circle cx="554.4" cy="183.8" r="9.2" fill="#14f014" stroke="#3440dc" stroke-width="1.2"/>
<circle cx="280.6" cy="505.9" r="9.2" fill="#14f014" stroke="#3440dc" stroke-width="1.2"/>
<circle cx="85.0" cy="183.8" r="9.8" fill="#0808f5"/>
<circle cx="476.1" cy="291.2" r="9.8" fill="#0808f5"/>
<circle cx="671.7" cy="355.6" r="9.8" fill="#0808f5"/>
</svg>
</body></html>
